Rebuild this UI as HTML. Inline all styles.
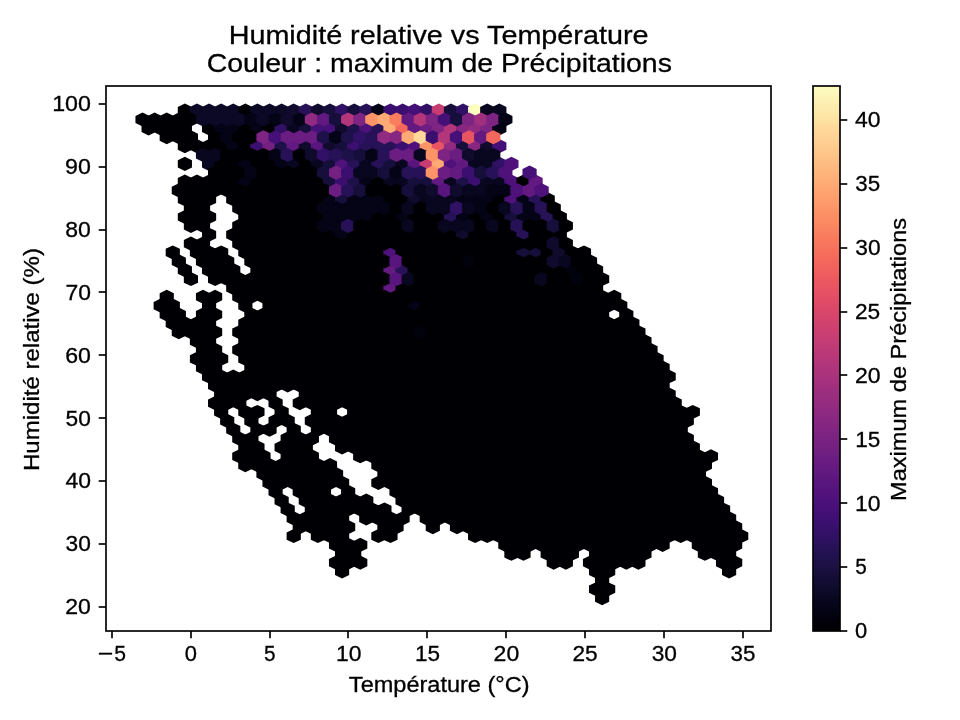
<!DOCTYPE html>
<html lang="fr"><head><meta charset="utf-8"><title>Humidité relative vs Température</title>
<style>html,body{margin:0;padding:0;background:#fff;}body{width:960px;height:720px;overflow:hidden;}svg{display:block;will-change:transform;}text{font-family:"Liberation Sans",sans-serif;fill:#000;stroke:#000;stroke-width:0.3px;}</style></head><body>
<svg width="960" height="720" viewBox="0 0 960 720">
<rect x="0" y="0" width="960" height="720" fill="#ffffff"/>
<g stroke-width="2.083" stroke-linejoin="miter">
<polygon points="154.64,131.33 154.64,125.42 148.59,122.47 142.55,125.42 142.55,131.33 148.59,134.28" fill="#000004" stroke="#000004"/>
<polygon points="166.73,308.58 166.73,302.67 160.69,299.72 154.64,302.67 154.64,308.58 160.69,311.53" fill="#000004" stroke="#000004"/>
<polygon points="166.73,131.33 166.73,125.42 160.69,122.47 154.64,125.42 154.64,131.33 160.69,134.28" fill="#000004" stroke="#000004"/>
<polygon points="178.83,326.30 178.83,320.40 172.78,317.44 166.73,320.40 166.73,326.30 172.78,329.26" fill="#000004" stroke="#000004"/>
<polygon points="178.83,308.58 178.83,302.67 172.78,299.72 166.73,302.67 166.73,308.58 172.78,311.53" fill="#000004" stroke="#000004"/>
<polygon points="178.83,255.40 178.83,249.50 172.78,246.54 166.73,249.50 166.73,255.40 172.78,258.36" fill="#000004" stroke="#000004"/>
<polygon points="178.83,131.33 178.83,125.42 172.78,122.47 166.73,125.42 166.73,131.33 172.78,134.28" fill="#000004" stroke="#000004"/>
<polygon points="190.92,326.30 190.92,320.40 184.88,317.44 178.83,320.40 178.83,326.30 184.88,329.26" fill="#000004" stroke="#000004"/>
<polygon points="190.92,273.13 190.92,267.22 184.88,264.27 178.83,267.22 178.83,273.13 184.88,276.08" fill="#000004" stroke="#000004"/>
<polygon points="190.92,219.95 190.92,214.05 184.88,211.09 178.83,214.05 178.83,219.95 184.88,222.91" fill="#000004" stroke="#000004"/>
<polygon points="190.92,202.23 190.92,196.32 184.88,193.37 178.83,196.32 178.83,202.23 184.88,205.18" fill="#000004" stroke="#000004"/>
<polygon points="190.92,184.50 190.92,178.60 184.88,175.64 178.83,178.60 178.83,184.50 184.88,187.46" fill="#000004" stroke="#000004"/>
<polygon points="190.92,166.78 190.92,160.87 184.88,157.92 178.83,160.87 178.83,166.78 184.88,169.73" fill="#000004" stroke="#000004"/>
<polygon points="190.92,149.05 190.92,143.15 184.88,140.19 178.83,143.15 178.83,149.05 184.88,152.01" fill="#000004" stroke="#000004"/>
<polygon points="190.92,131.33 190.92,125.42 184.88,122.47 178.83,125.42 178.83,131.33 184.88,134.28" fill="#000004" stroke="#000004"/>
<polygon points="190.92,113.60 190.92,107.70 184.88,104.74 178.83,107.70 178.83,113.60 184.88,116.56" fill="#000004" stroke="#000004"/>
<polygon points="203.02,361.75 203.02,355.85 196.97,352.89 190.92,355.85 190.92,361.75 196.97,364.71" fill="#000004" stroke="#000004"/>
<polygon points="203.02,344.03 203.02,338.12 196.97,335.17 190.92,338.12 190.92,344.03 196.97,346.98" fill="#000004" stroke="#000004"/>
<polygon points="203.02,326.30 203.02,320.40 196.97,317.44 190.92,320.40 190.92,326.30 196.97,329.26" fill="#000004" stroke="#000004"/>
<polygon points="203.02,255.40 203.02,249.50 196.97,246.54 190.92,249.50 190.92,255.40 196.97,258.36" fill="#000004" stroke="#000004"/>
<polygon points="203.02,219.95 203.02,214.05 196.97,211.09 190.92,214.05 190.92,219.95 196.97,222.91" fill="#000004" stroke="#000004"/>
<polygon points="203.02,202.23 203.02,196.32 196.97,193.37 190.92,196.32 190.92,202.23 196.97,205.18" fill="#000004" stroke="#000004"/>
<polygon points="203.02,184.50 203.02,178.60 196.97,175.64 190.92,178.60 190.92,184.50 196.97,187.46" fill="#000004" stroke="#000004"/>
<polygon points="203.02,149.05 203.02,143.15 196.97,140.19 190.92,143.15 190.92,149.05 196.97,152.01" fill="#000004" stroke="#000004"/>
<polygon points="203.02,113.60 203.02,107.70 196.97,104.74 190.92,107.70 190.92,113.60 196.97,116.56" fill="#0c0926" stroke="#0c0926"/>
<polygon points="215.11,379.48 215.11,373.57 209.06,370.62 203.02,373.57 203.02,379.48 209.06,382.43" fill="#000004" stroke="#000004"/>
<polygon points="215.11,361.75 215.11,355.85 209.06,352.89 203.02,355.85 203.02,361.75 209.06,364.71" fill="#000004" stroke="#000004"/>
<polygon points="215.11,344.03 215.11,338.12 209.06,335.17 203.02,338.12 203.02,344.03 209.06,346.98" fill="#000004" stroke="#000004"/>
<polygon points="215.11,326.30 215.11,320.40 209.06,317.44 203.02,320.40 203.02,326.30 209.06,329.26" fill="#000004" stroke="#000004"/>
<polygon points="215.11,308.58 215.11,302.67 209.06,299.72 203.02,302.67 203.02,308.58 209.06,311.53" fill="#000004" stroke="#000004"/>
<polygon points="215.11,273.13 215.11,267.22 209.06,264.27 203.02,267.22 203.02,273.13 209.06,276.08" fill="#000004" stroke="#000004"/>
<polygon points="215.11,255.40 215.11,249.50 209.06,246.54 203.02,249.50 203.02,255.40 209.06,258.36" fill="#000004" stroke="#000004"/>
<polygon points="215.11,237.68 215.11,231.77 209.06,228.82 203.02,231.77 203.02,237.68 209.06,240.63" fill="#000004" stroke="#000004"/>
<polygon points="215.11,219.95 215.11,214.05 209.06,211.09 203.02,214.05 203.02,219.95 209.06,222.91" fill="#000004" stroke="#000004"/>
<polygon points="215.11,202.23 215.11,196.32 209.06,193.37 203.02,196.32 203.02,202.23 209.06,205.18" fill="#000004" stroke="#000004"/>
<polygon points="215.11,184.50 215.11,178.60 209.06,175.64 203.02,178.60 203.02,184.50 209.06,187.46" fill="#000004" stroke="#000004"/>
<polygon points="215.11,166.78 215.11,160.87 209.06,157.92 203.02,160.87 203.02,166.78 209.06,169.73" fill="#090720" stroke="#090720"/>
<polygon points="215.11,149.05 215.11,143.15 209.06,140.19 203.02,143.15 203.02,149.05 209.06,152.01" fill="#000004" stroke="#000004"/>
<polygon points="215.11,131.33 215.11,125.42 209.06,122.47 203.02,125.42 203.02,131.33 209.06,134.28" fill="#000004" stroke="#000004"/>
<polygon points="215.11,113.60 215.11,107.70 209.06,104.74 203.02,107.70 203.02,113.60 209.06,116.56" fill="#0c0926" stroke="#0c0926"/>
<polygon points="227.21,414.93 227.21,409.02 221.16,406.07 215.11,409.02 215.11,414.93 221.16,417.88" fill="#000004" stroke="#000004"/>
<polygon points="227.21,397.20 227.21,391.30 221.16,388.34 215.11,391.30 215.11,397.20 221.16,400.16" fill="#000004" stroke="#000004"/>
<polygon points="227.21,379.48 227.21,373.57 221.16,370.62 215.11,373.57 215.11,379.48 221.16,382.43" fill="#000004" stroke="#000004"/>
<polygon points="227.21,361.75 227.21,355.85 221.16,352.89 215.11,355.85 215.11,361.75 221.16,364.71" fill="#000004" stroke="#000004"/>
<polygon points="227.21,273.13 227.21,267.22 221.16,264.27 215.11,267.22 215.11,273.13 221.16,276.08" fill="#000004" stroke="#000004"/>
<polygon points="227.21,255.40 227.21,249.50 221.16,246.54 215.11,249.50 215.11,255.40 221.16,258.36" fill="#000004" stroke="#000004"/>
<polygon points="227.21,184.50 227.21,178.60 221.16,175.64 215.11,178.60 215.11,184.50 221.16,187.46" fill="#000004" stroke="#000004"/>
<polygon points="227.21,166.78 227.21,160.87 221.16,157.92 215.11,160.87 215.11,166.78 221.16,169.73" fill="#000004" stroke="#000004"/>
<polygon points="227.21,149.05 227.21,143.15 221.16,140.19 215.11,143.15 215.11,149.05 221.16,152.01" fill="#000004" stroke="#000004"/>
<polygon points="227.21,131.33 227.21,125.42 221.16,122.47 215.11,125.42 215.11,131.33 221.16,134.28" fill="#050416" stroke="#050416"/>
<polygon points="227.21,113.60 227.21,107.70 221.16,104.74 215.11,107.70 215.11,113.60 221.16,116.56" fill="#0c0926" stroke="#0c0926"/>
<polygon points="239.30,432.65 239.30,426.75 233.25,423.79 227.21,426.75 227.21,432.65 233.25,435.61" fill="#000004" stroke="#000004"/>
<polygon points="239.30,397.20 239.30,391.30 233.25,388.34 227.21,391.30 227.21,397.20 233.25,400.16" fill="#000004" stroke="#000004"/>
<polygon points="239.30,379.48 239.30,373.57 233.25,370.62 227.21,373.57 227.21,379.48 233.25,382.43" fill="#000004" stroke="#000004"/>
<polygon points="239.30,290.85 239.30,284.95 233.25,281.99 227.21,284.95 227.21,290.85 233.25,293.81" fill="#000004" stroke="#000004"/>
<polygon points="239.30,273.13 239.30,267.22 233.25,264.27 227.21,267.22 227.21,273.13 233.25,276.08" fill="#000004" stroke="#000004"/>
<polygon points="239.30,237.68 239.30,231.77 233.25,228.82 227.21,231.77 227.21,237.68 233.25,240.63" fill="#000004" stroke="#000004"/>
<polygon points="239.30,202.23 239.30,196.32 233.25,193.37 227.21,196.32 227.21,202.23 233.25,205.18" fill="#000004" stroke="#000004"/>
<polygon points="239.30,184.50 239.30,178.60 233.25,175.64 227.21,178.60 227.21,184.50 233.25,187.46" fill="#000004" stroke="#000004"/>
<polygon points="239.30,166.78 239.30,160.87 233.25,157.92 227.21,160.87 227.21,166.78 233.25,169.73" fill="#000004" stroke="#000004"/>
<polygon points="239.30,149.05 239.30,143.15 233.25,140.19 227.21,143.15 227.21,149.05 233.25,152.01" fill="#050416" stroke="#050416"/>
<polygon points="239.30,131.33 239.30,125.42 233.25,122.47 227.21,125.42 227.21,131.33 233.25,134.28" fill="#050416" stroke="#050416"/>
<polygon points="239.30,113.60 239.30,107.70 233.25,104.74 227.21,107.70 227.21,113.60 233.25,116.56" fill="#0c0926" stroke="#0c0926"/>
<polygon points="251.39,468.10 251.39,462.20 245.35,459.24 239.30,462.20 239.30,468.10 245.35,471.06" fill="#000004" stroke="#000004"/>
<polygon points="251.39,450.38 251.39,444.47 245.35,441.52 239.30,444.47 239.30,450.38 245.35,453.33" fill="#000004" stroke="#000004"/>
<polygon points="251.39,414.93 251.39,409.02 245.35,406.07 239.30,409.02 239.30,414.93 245.35,417.88" fill="#000004" stroke="#000004"/>
<polygon points="251.39,397.20 251.39,391.30 245.35,388.34 239.30,391.30 239.30,397.20 245.35,400.16" fill="#000004" stroke="#000004"/>
<polygon points="251.39,379.48 251.39,373.57 245.35,370.62 239.30,373.57 239.30,379.48 245.35,382.43" fill="#000004" stroke="#000004"/>
<polygon points="251.39,361.75 251.39,355.85 245.35,352.89 239.30,355.85 239.30,361.75 245.35,364.71" fill="#000004" stroke="#000004"/>
<polygon points="251.39,344.03 251.39,338.12 245.35,335.17 239.30,338.12 239.30,344.03 245.35,346.98" fill="#000004" stroke="#000004"/>
<polygon points="251.39,326.30 251.39,320.40 245.35,317.44 239.30,320.40 239.30,326.30 245.35,329.26" fill="#000004" stroke="#000004"/>
<polygon points="251.39,308.58 251.39,302.67 245.35,299.72 239.30,302.67 239.30,308.58 245.35,311.53" fill="#000004" stroke="#000004"/>
<polygon points="251.39,290.85 251.39,284.95 245.35,281.99 239.30,284.95 239.30,290.85 245.35,293.81" fill="#000004" stroke="#000004"/>
<polygon points="251.39,255.40 251.39,249.50 245.35,246.54 239.30,249.50 239.30,255.40 245.35,258.36" fill="#000004" stroke="#000004"/>
<polygon points="251.39,237.68 251.39,231.77 245.35,228.82 239.30,231.77 239.30,237.68 245.35,240.63" fill="#000004" stroke="#000004"/>
<polygon points="251.39,219.95 251.39,214.05 245.35,211.09 239.30,214.05 239.30,219.95 245.35,222.91" fill="#000004" stroke="#000004"/>
<polygon points="251.39,202.23 251.39,196.32 245.35,193.37 239.30,196.32 239.30,202.23 245.35,205.18" fill="#000004" stroke="#000004"/>
<polygon points="251.39,184.50 251.39,178.60 245.35,175.64 239.30,178.60 239.30,184.50 245.35,187.46" fill="#050416" stroke="#050416"/>
<polygon points="251.39,166.78 251.39,160.87 245.35,157.92 239.30,160.87 239.30,166.78 245.35,169.73" fill="#050416" stroke="#050416"/>
<polygon points="251.39,149.05 251.39,143.15 245.35,140.19 239.30,143.15 239.30,149.05 245.35,152.01" fill="#000004" stroke="#000004"/>
<polygon points="251.39,131.33 251.39,125.42 245.35,122.47 239.30,125.42 239.30,131.33 245.35,134.28" fill="#000004" stroke="#000004"/>
<polygon points="251.39,113.60 251.39,107.70 245.35,104.74 239.30,107.70 239.30,113.60 245.35,116.56" fill="#000004" stroke="#000004"/>
<polygon points="263.49,468.10 263.49,462.20 257.44,459.24 251.39,462.20 251.39,468.10 257.44,471.06" fill="#000004" stroke="#000004"/>
<polygon points="263.49,450.38 263.49,444.47 257.44,441.52 251.39,444.47 251.39,450.38 257.44,453.33" fill="#000004" stroke="#000004"/>
<polygon points="263.49,432.65 263.49,426.75 257.44,423.79 251.39,426.75 251.39,432.65 257.44,435.61" fill="#000004" stroke="#000004"/>
<polygon points="263.49,414.93 263.49,409.02 257.44,406.07 251.39,409.02 251.39,414.93 257.44,417.88" fill="#000004" stroke="#000004"/>
<polygon points="263.49,397.20 263.49,391.30 257.44,388.34 251.39,391.30 251.39,397.20 257.44,400.16" fill="#000004" stroke="#000004"/>
<polygon points="263.49,379.48 263.49,373.57 257.44,370.62 251.39,373.57 251.39,379.48 257.44,382.43" fill="#000004" stroke="#000004"/>
<polygon points="263.49,361.75 263.49,355.85 257.44,352.89 251.39,355.85 251.39,361.75 257.44,364.71" fill="#000004" stroke="#000004"/>
<polygon points="263.49,344.03 263.49,338.12 257.44,335.17 251.39,338.12 251.39,344.03 257.44,346.98" fill="#000004" stroke="#000004"/>
<polygon points="263.49,326.30 263.49,320.40 257.44,317.44 251.39,320.40 251.39,326.30 257.44,329.26" fill="#000004" stroke="#000004"/>
<polygon points="263.49,290.85 263.49,284.95 257.44,281.99 251.39,284.95 251.39,290.85 257.44,293.81" fill="#000004" stroke="#000004"/>
<polygon points="263.49,273.13 263.49,267.22 257.44,264.27 251.39,267.22 251.39,273.13 257.44,276.08" fill="#000004" stroke="#000004"/>
<polygon points="263.49,255.40 263.49,249.50 257.44,246.54 251.39,249.50 251.39,255.40 257.44,258.36" fill="#000004" stroke="#000004"/>
<polygon points="263.49,237.68 263.49,231.77 257.44,228.82 251.39,231.77 251.39,237.68 257.44,240.63" fill="#000004" stroke="#000004"/>
<polygon points="263.49,219.95 263.49,214.05 257.44,211.09 251.39,214.05 251.39,219.95 257.44,222.91" fill="#000004" stroke="#000004"/>
<polygon points="263.49,202.23 263.49,196.32 257.44,193.37 251.39,196.32 251.39,202.23 257.44,205.18" fill="#000004" stroke="#000004"/>
<polygon points="263.49,184.50 263.49,178.60 257.44,175.64 251.39,178.60 251.39,184.50 257.44,187.46" fill="#000004" stroke="#000004"/>
<polygon points="263.49,166.78 263.49,160.87 257.44,157.92 251.39,160.87 251.39,166.78 257.44,169.73" fill="#000004" stroke="#000004"/>
<polygon points="263.49,149.05 263.49,143.15 257.44,140.19 251.39,143.15 251.39,149.05 257.44,152.01" fill="#3b0f70" stroke="#3b0f70"/>
<polygon points="263.49,131.33 263.49,125.42 257.44,122.47 251.39,125.42 251.39,131.33 257.44,134.28" fill="#050416" stroke="#050416"/>
<polygon points="263.49,113.60 263.49,107.70 257.44,104.74 251.39,107.70 251.39,113.60 257.44,116.56" fill="#0c0926" stroke="#0c0926"/>
<polygon points="275.58,485.83 275.58,479.92 269.53,476.97 263.49,479.92 263.49,485.83 269.53,488.78" fill="#000004" stroke="#000004"/>
<polygon points="275.58,468.10 275.58,462.20 269.53,459.24 263.49,462.20 263.49,468.10 269.53,471.06" fill="#000004" stroke="#000004"/>
<polygon points="275.58,432.65 275.58,426.75 269.53,423.79 263.49,426.75 263.49,432.65 269.53,435.61" fill="#000004" stroke="#000004"/>
<polygon points="275.58,397.20 275.58,391.30 269.53,388.34 263.49,391.30 263.49,397.20 269.53,400.16" fill="#000004" stroke="#000004"/>
<polygon points="275.58,379.48 275.58,373.57 269.53,370.62 263.49,373.57 263.49,379.48 269.53,382.43" fill="#000004" stroke="#000004"/>
<polygon points="275.58,361.75 275.58,355.85 269.53,352.89 263.49,355.85 263.49,361.75 269.53,364.71" fill="#000004" stroke="#000004"/>
<polygon points="275.58,344.03 275.58,338.12 269.53,335.17 263.49,338.12 263.49,344.03 269.53,346.98" fill="#000004" stroke="#000004"/>
<polygon points="275.58,326.30 275.58,320.40 269.53,317.44 263.49,320.40 263.49,326.30 269.53,329.26" fill="#000004" stroke="#000004"/>
<polygon points="275.58,308.58 275.58,302.67 269.53,299.72 263.49,302.67 263.49,308.58 269.53,311.53" fill="#000004" stroke="#000004"/>
<polygon points="275.58,290.85 275.58,284.95 269.53,281.99 263.49,284.95 263.49,290.85 269.53,293.81" fill="#000004" stroke="#000004"/>
<polygon points="275.58,273.13 275.58,267.22 269.53,264.27 263.49,267.22 263.49,273.13 269.53,276.08" fill="#000004" stroke="#000004"/>
<polygon points="275.58,255.40 275.58,249.50 269.53,246.54 263.49,249.50 263.49,255.40 269.53,258.36" fill="#000004" stroke="#000004"/>
<polygon points="275.58,237.68 275.58,231.77 269.53,228.82 263.49,231.77 263.49,237.68 269.53,240.63" fill="#000004" stroke="#000004"/>
<polygon points="275.58,219.95 275.58,214.05 269.53,211.09 263.49,214.05 263.49,219.95 269.53,222.91" fill="#000004" stroke="#000004"/>
<polygon points="275.58,202.23 275.58,196.32 269.53,193.37 263.49,196.32 263.49,202.23 269.53,205.18" fill="#000004" stroke="#000004"/>
<polygon points="275.58,184.50 275.58,178.60 269.53,175.64 263.49,178.60 263.49,184.50 269.53,187.46" fill="#000004" stroke="#000004"/>
<polygon points="275.58,166.78 275.58,160.87 269.53,157.92 263.49,160.87 263.49,166.78 269.53,169.73" fill="#000004" stroke="#000004"/>
<polygon points="275.58,149.05 275.58,143.15 269.53,140.19 263.49,143.15 263.49,149.05 269.53,152.01" fill="#752181" stroke="#752181"/>
<polygon points="275.58,131.33 275.58,125.42 269.53,122.47 263.49,125.42 263.49,131.33 269.53,134.28" fill="#000004" stroke="#000004"/>
<polygon points="275.58,113.60 275.58,107.70 269.53,104.74 263.49,107.70 263.49,113.60 269.53,116.56" fill="#0c0926" stroke="#0c0926"/>
<polygon points="287.68,503.55 287.68,497.65 281.63,494.69 275.58,497.65 275.58,503.55 281.63,506.51" fill="#000004" stroke="#000004"/>
<polygon points="287.68,485.83 287.68,479.92 281.63,476.97 275.58,479.92 275.58,485.83 281.63,488.78" fill="#000004" stroke="#000004"/>
<polygon points="287.68,468.10 287.68,462.20 281.63,459.24 275.58,462.20 275.58,468.10 281.63,471.06" fill="#000004" stroke="#000004"/>
<polygon points="287.68,450.38 287.68,444.47 281.63,441.52 275.58,444.47 275.58,450.38 281.63,453.33" fill="#000004" stroke="#000004"/>
<polygon points="287.68,414.93 287.68,409.02 281.63,406.07 275.58,409.02 275.58,414.93 281.63,417.88" fill="#000004" stroke="#000004"/>
<polygon points="287.68,379.48 287.68,373.57 281.63,370.62 275.58,373.57 275.58,379.48 281.63,382.43" fill="#000004" stroke="#000004"/>
<polygon points="287.68,361.75 287.68,355.85 281.63,352.89 275.58,355.85 275.58,361.75 281.63,364.71" fill="#000004" stroke="#000004"/>
<polygon points="287.68,344.03 287.68,338.12 281.63,335.17 275.58,338.12 275.58,344.03 281.63,346.98" fill="#000004" stroke="#000004"/>
<polygon points="287.68,326.30 287.68,320.40 281.63,317.44 275.58,320.40 275.58,326.30 281.63,329.26" fill="#000004" stroke="#000004"/>
<polygon points="287.68,308.58 287.68,302.67 281.63,299.72 275.58,302.67 275.58,308.58 281.63,311.53" fill="#000004" stroke="#000004"/>
<polygon points="287.68,290.85 287.68,284.95 281.63,281.99 275.58,284.95 275.58,290.85 281.63,293.81" fill="#000004" stroke="#000004"/>
<polygon points="287.68,273.13 287.68,267.22 281.63,264.27 275.58,267.22 275.58,273.13 281.63,276.08" fill="#000004" stroke="#000004"/>
<polygon points="287.68,255.40 287.68,249.50 281.63,246.54 275.58,249.50 275.58,255.40 281.63,258.36" fill="#000004" stroke="#000004"/>
<polygon points="287.68,237.68 287.68,231.77 281.63,228.82 275.58,231.77 275.58,237.68 281.63,240.63" fill="#000004" stroke="#000004"/>
<polygon points="287.68,219.95 287.68,214.05 281.63,211.09 275.58,214.05 275.58,219.95 281.63,222.91" fill="#000004" stroke="#000004"/>
<polygon points="287.68,202.23 287.68,196.32 281.63,193.37 275.58,196.32 275.58,202.23 281.63,205.18" fill="#000004" stroke="#000004"/>
<polygon points="287.68,184.50 287.68,178.60 281.63,175.64 275.58,178.60 275.58,184.50 281.63,187.46" fill="#000004" stroke="#000004"/>
<polygon points="287.68,166.78 287.68,160.87 281.63,157.92 275.58,160.87 275.58,166.78 281.63,169.73" fill="#050416" stroke="#050416"/>
<polygon points="287.68,149.05 287.68,143.15 281.63,140.19 275.58,143.15 275.58,149.05 281.63,152.01" fill="#1e1149" stroke="#1e1149"/>
<polygon points="287.68,131.33 287.68,125.42 281.63,122.47 275.58,125.42 275.58,131.33 281.63,134.28" fill="#311165" stroke="#311165"/>
<polygon points="287.68,113.60 287.68,107.70 281.63,104.74 275.58,107.70 275.58,113.60 281.63,116.56" fill="#0c0926" stroke="#0c0926"/>
<polygon points="299.77,539.00 299.77,533.10 293.72,530.14 287.67,533.10 287.67,539.00 293.72,541.96" fill="#000004" stroke="#000004"/>
<polygon points="299.77,521.28 299.77,515.37 293.72,512.42 287.67,515.37 287.67,521.28 293.72,524.23" fill="#000004" stroke="#000004"/>
<polygon points="299.77,485.83 299.77,479.92 293.72,476.97 287.67,479.92 287.67,485.83 293.72,488.78" fill="#000004" stroke="#000004"/>
<polygon points="299.77,468.10 299.77,462.20 293.72,459.24 287.67,462.20 287.67,468.10 293.72,471.06" fill="#000004" stroke="#000004"/>
<polygon points="299.77,450.38 299.77,444.47 293.72,441.52 287.67,444.47 287.67,450.38 293.72,453.33" fill="#000004" stroke="#000004"/>
<polygon points="299.77,432.65 299.77,426.75 293.72,423.79 287.67,426.75 287.67,432.65 293.72,435.61" fill="#000004" stroke="#000004"/>
<polygon points="299.77,379.48 299.77,373.57 293.72,370.62 287.67,373.57 287.67,379.48 293.72,382.43" fill="#000004" stroke="#000004"/>
<polygon points="299.77,361.75 299.77,355.85 293.72,352.89 287.67,355.85 287.67,361.75 293.72,364.71" fill="#000004" stroke="#000004"/>
<polygon points="299.77,344.03 299.77,338.12 293.72,335.17 287.67,338.12 287.67,344.03 293.72,346.98" fill="#000004" stroke="#000004"/>
<polygon points="299.77,326.30 299.77,320.40 293.72,317.44 287.67,320.40 287.67,326.30 293.72,329.26" fill="#000004" stroke="#000004"/>
<polygon points="299.77,308.58 299.77,302.67 293.72,299.72 287.67,302.67 287.67,308.58 293.72,311.53" fill="#000004" stroke="#000004"/>
<polygon points="299.77,290.85 299.77,284.95 293.72,281.99 287.67,284.95 287.67,290.85 293.72,293.81" fill="#000004" stroke="#000004"/>
<polygon points="299.77,273.13 299.77,267.22 293.72,264.27 287.67,267.22 287.67,273.13 293.72,276.08" fill="#000004" stroke="#000004"/>
<polygon points="299.77,255.40 299.77,249.50 293.72,246.54 287.67,249.50 287.67,255.40 293.72,258.36" fill="#000004" stroke="#000004"/>
<polygon points="299.77,237.68 299.77,231.77 293.72,228.82 287.67,231.77 287.67,237.68 293.72,240.63" fill="#000004" stroke="#000004"/>
<polygon points="299.77,219.95 299.77,214.05 293.72,211.09 287.67,214.05 287.67,219.95 293.72,222.91" fill="#000004" stroke="#000004"/>
<polygon points="299.77,202.23 299.77,196.32 293.72,193.37 287.67,196.32 287.67,202.23 293.72,205.18" fill="#000004" stroke="#000004"/>
<polygon points="299.77,184.50 299.77,178.60 293.72,175.64 287.67,178.60 287.67,184.50 293.72,187.46" fill="#000004" stroke="#000004"/>
<polygon points="299.77,166.78 299.77,160.87 293.72,157.92 287.67,160.87 287.67,166.78 293.72,169.73" fill="#090720" stroke="#090720"/>
<polygon points="299.77,149.05 299.77,143.15 293.72,140.19 287.67,143.15 287.67,149.05 293.72,152.01" fill="#621980" stroke="#621980"/>
<polygon points="299.77,131.33 299.77,125.42 293.72,122.47 287.67,125.42 287.67,131.33 293.72,134.28" fill="#090720" stroke="#090720"/>
<polygon points="299.77,113.60 299.77,107.70 293.72,104.74 287.67,107.70 287.67,113.60 293.72,116.56" fill="#100b2d" stroke="#100b2d"/>
<polygon points="311.86,521.28 311.86,515.37 305.82,512.42 299.77,515.37 299.77,521.28 305.82,524.23" fill="#000004" stroke="#000004"/>
<polygon points="311.86,503.55 311.86,497.65 305.82,494.69 299.77,497.65 299.77,503.55 305.82,506.51" fill="#000004" stroke="#000004"/>
<polygon points="311.86,485.83 311.86,479.92 305.82,476.97 299.77,479.92 299.77,485.83 305.82,488.78" fill="#000004" stroke="#000004"/>
<polygon points="311.86,468.10 311.86,462.20 305.82,459.24 299.77,462.20 299.77,468.10 305.82,471.06" fill="#000004" stroke="#000004"/>
<polygon points="311.86,450.38 311.86,444.47 305.82,441.52 299.77,444.47 299.77,450.38 305.82,453.33" fill="#000004" stroke="#000004"/>
<polygon points="311.86,397.20 311.86,391.30 305.82,388.34 299.77,391.30 299.77,397.20 305.82,400.16" fill="#000004" stroke="#000004"/>
<polygon points="311.86,379.48 311.86,373.57 305.82,370.62 299.77,373.57 299.77,379.48 305.82,382.43" fill="#000004" stroke="#000004"/>
<polygon points="311.86,361.75 311.86,355.85 305.82,352.89 299.77,355.85 299.77,361.75 305.82,364.71" fill="#000004" stroke="#000004"/>
<polygon points="311.86,344.03 311.86,338.12 305.82,335.17 299.77,338.12 299.77,344.03 305.82,346.98" fill="#000004" stroke="#000004"/>
<polygon points="311.86,326.30 311.86,320.40 305.82,317.44 299.77,320.40 299.77,326.30 305.82,329.26" fill="#000004" stroke="#000004"/>
<polygon points="311.86,308.58 311.86,302.67 305.82,299.72 299.77,302.67 299.77,308.58 305.82,311.53" fill="#000004" stroke="#000004"/>
<polygon points="311.86,290.85 311.86,284.95 305.82,281.99 299.77,284.95 299.77,290.85 305.82,293.81" fill="#000004" stroke="#000004"/>
<polygon points="311.86,273.13 311.86,267.22 305.82,264.27 299.77,267.22 299.77,273.13 305.82,276.08" fill="#000004" stroke="#000004"/>
<polygon points="311.86,255.40 311.86,249.50 305.82,246.54 299.77,249.50 299.77,255.40 305.82,258.36" fill="#000004" stroke="#000004"/>
<polygon points="311.86,237.68 311.86,231.77 305.82,228.82 299.77,231.77 299.77,237.68 305.82,240.63" fill="#000004" stroke="#000004"/>
<polygon points="311.86,219.95 311.86,214.05 305.82,211.09 299.77,214.05 299.77,219.95 305.82,222.91" fill="#000004" stroke="#000004"/>
<polygon points="311.86,202.23 311.86,196.32 305.82,193.37 299.77,196.32 299.77,202.23 305.82,205.18" fill="#000004" stroke="#000004"/>
<polygon points="311.86,184.50 311.86,178.60 305.82,175.64 299.77,178.60 299.77,184.50 305.82,187.46" fill="#000004" stroke="#000004"/>
<polygon points="311.86,166.78 311.86,160.87 305.82,157.92 299.77,160.87 299.77,166.78 305.82,169.73" fill="#000004" stroke="#000004"/>
<polygon points="311.86,149.05 311.86,143.15 305.82,140.19 299.77,143.15 299.77,149.05 305.82,152.01" fill="#100b2d" stroke="#100b2d"/>
<polygon points="311.86,131.33 311.86,125.42 305.82,122.47 299.77,125.42 299.77,131.33 305.82,134.28" fill="#160f3b" stroke="#160f3b"/>
<polygon points="311.86,113.60 311.86,107.70 305.82,104.74 299.77,107.70 299.77,113.60 305.82,116.56" fill="#271258" stroke="#271258"/>
<polygon points="323.96,539.00 323.96,533.10 317.91,530.14 311.86,533.10 311.86,539.00 317.91,541.96" fill="#000004" stroke="#000004"/>
<polygon points="323.96,521.28 323.96,515.37 317.91,512.42 311.86,515.37 311.86,521.28 317.91,524.23" fill="#000004" stroke="#000004"/>
<polygon points="323.96,503.55 323.96,497.65 317.91,494.69 311.86,497.65 311.86,503.55 317.91,506.51" fill="#000004" stroke="#000004"/>
<polygon points="323.96,485.83 323.96,479.92 317.91,476.97 311.86,479.92 311.86,485.83 317.91,488.78" fill="#000004" stroke="#000004"/>
<polygon points="323.96,468.10 323.96,462.20 317.91,459.24 311.86,462.20 311.86,468.10 317.91,471.06" fill="#000004" stroke="#000004"/>
<polygon points="323.96,432.65 323.96,426.75 317.91,423.79 311.86,426.75 311.86,432.65 317.91,435.61" fill="#000004" stroke="#000004"/>
<polygon points="323.96,414.93 323.96,409.02 317.91,406.07 311.86,409.02 311.86,414.93 317.91,417.88" fill="#000004" stroke="#000004"/>
<polygon points="323.96,397.20 323.96,391.30 317.91,388.34 311.86,391.30 311.86,397.20 317.91,400.16" fill="#000004" stroke="#000004"/>
<polygon points="323.96,379.48 323.96,373.57 317.91,370.62 311.86,373.57 311.86,379.48 317.91,382.43" fill="#000004" stroke="#000004"/>
<polygon points="323.96,361.75 323.96,355.85 317.91,352.89 311.86,355.85 311.86,361.75 317.91,364.71" fill="#000004" stroke="#000004"/>
<polygon points="323.96,344.03 323.96,338.12 317.91,335.17 311.86,338.12 311.86,344.03 317.91,346.98" fill="#000004" stroke="#000004"/>
<polygon points="323.96,326.30 323.96,320.40 317.91,317.44 311.86,320.40 311.86,326.30 317.91,329.26" fill="#000004" stroke="#000004"/>
<polygon points="323.96,308.58 323.96,302.67 317.91,299.72 311.86,302.67 311.86,308.58 317.91,311.53" fill="#000004" stroke="#000004"/>
<polygon points="323.96,290.85 323.96,284.95 317.91,281.99 311.86,284.95 311.86,290.85 317.91,293.81" fill="#000004" stroke="#000004"/>
<polygon points="323.96,273.13 323.96,267.22 317.91,264.27 311.86,267.22 311.86,273.13 317.91,276.08" fill="#000004" stroke="#000004"/>
<polygon points="323.96,255.40 323.96,249.50 317.91,246.54 311.86,249.50 311.86,255.40 317.91,258.36" fill="#000004" stroke="#000004"/>
<polygon points="323.96,237.68 323.96,231.77 317.91,228.82 311.86,231.77 311.86,237.68 317.91,240.63" fill="#000004" stroke="#000004"/>
<polygon points="323.96,219.95 323.96,214.05 317.91,211.09 311.86,214.05 311.86,219.95 317.91,222.91" fill="#000004" stroke="#000004"/>
<polygon points="323.96,202.23 323.96,196.32 317.91,193.37 311.86,196.32 311.86,202.23 317.91,205.18" fill="#000004" stroke="#000004"/>
<polygon points="323.96,184.50 323.96,178.60 317.91,175.64 311.86,178.60 311.86,184.50 317.91,187.46" fill="#000004" stroke="#000004"/>
<polygon points="323.96,166.78 323.96,160.87 317.91,157.92 311.86,160.87 311.86,166.78 317.91,169.73" fill="#090720" stroke="#090720"/>
<polygon points="323.96,149.05 323.96,143.15 317.91,140.19 311.86,143.15 311.86,149.05 317.91,152.01" fill="#59157e" stroke="#59157e"/>
<polygon points="323.96,131.33 323.96,125.42 317.91,122.47 311.86,125.42 311.86,131.33 317.91,134.28" fill="#451077" stroke="#451077"/>
<polygon points="323.96,113.60 323.96,107.70 317.91,104.74 311.86,107.70 311.86,113.60 317.91,116.56" fill="#100b2d" stroke="#100b2d"/>
<polygon points="336.05,539.00 336.05,533.10 330.00,530.14 323.96,533.10 323.96,539.00 330.00,541.96" fill="#000004" stroke="#000004"/>
<polygon points="336.05,521.28 336.05,515.37 330.00,512.42 323.96,515.37 323.96,521.28 330.00,524.23" fill="#000004" stroke="#000004"/>
<polygon points="336.05,503.55 336.05,497.65 330.00,494.69 323.96,497.65 323.96,503.55 330.00,506.51" fill="#000004" stroke="#000004"/>
<polygon points="336.05,485.83 336.05,479.92 330.00,476.97 323.96,479.92 323.96,485.83 330.00,488.78" fill="#000004" stroke="#000004"/>
<polygon points="336.05,468.10 336.05,462.20 330.00,459.24 323.96,462.20 323.96,468.10 330.00,471.06" fill="#000004" stroke="#000004"/>
<polygon points="336.05,432.65 336.05,426.75 330.00,423.79 323.96,426.75 323.96,432.65 330.00,435.61" fill="#000004" stroke="#000004"/>
<polygon points="336.05,414.93 336.05,409.02 330.00,406.07 323.96,409.02 323.96,414.93 330.00,417.88" fill="#000004" stroke="#000004"/>
<polygon points="336.05,397.20 336.05,391.30 330.00,388.34 323.96,391.30 323.96,397.20 330.00,400.16" fill="#000004" stroke="#000004"/>
<polygon points="336.05,379.48 336.05,373.57 330.00,370.62 323.96,373.57 323.96,379.48 330.00,382.43" fill="#000004" stroke="#000004"/>
<polygon points="336.05,361.75 336.05,355.85 330.00,352.89 323.96,355.85 323.96,361.75 330.00,364.71" fill="#000004" stroke="#000004"/>
<polygon points="336.05,344.03 336.05,338.12 330.00,335.17 323.96,338.12 323.96,344.03 330.00,346.98" fill="#000004" stroke="#000004"/>
<polygon points="336.05,326.30 336.05,320.40 330.00,317.44 323.96,320.40 323.96,326.30 330.00,329.26" fill="#000004" stroke="#000004"/>
<polygon points="336.05,308.58 336.05,302.67 330.00,299.72 323.96,302.67 323.96,308.58 330.00,311.53" fill="#000004" stroke="#000004"/>
<polygon points="336.05,290.85 336.05,284.95 330.00,281.99 323.96,284.95 323.96,290.85 330.00,293.81" fill="#000004" stroke="#000004"/>
<polygon points="336.05,273.13 336.05,267.22 330.00,264.27 323.96,267.22 323.96,273.13 330.00,276.08" fill="#000004" stroke="#000004"/>
<polygon points="336.05,255.40 336.05,249.50 330.00,246.54 323.96,249.50 323.96,255.40 330.00,258.36" fill="#000004" stroke="#000004"/>
<polygon points="336.05,237.68 336.05,231.77 330.00,228.82 323.96,231.77 323.96,237.68 330.00,240.63" fill="#000004" stroke="#000004"/>
<polygon points="336.05,219.95 336.05,214.05 330.00,211.09 323.96,214.05 323.96,219.95 330.00,222.91" fill="#050416" stroke="#050416"/>
<polygon points="336.05,202.23 336.05,196.32 330.00,193.37 323.96,196.32 323.96,202.23 330.00,205.18" fill="#050416" stroke="#050416"/>
<polygon points="336.05,184.50 336.05,178.60 330.00,175.64 323.96,178.60 323.96,184.50 330.00,187.46" fill="#160f3b" stroke="#160f3b"/>
<polygon points="336.05,166.78 336.05,160.87 330.00,157.92 323.96,160.87 323.96,166.78 330.00,169.73" fill="#160f3b" stroke="#160f3b"/>
<polygon points="336.05,149.05 336.05,143.15 330.00,140.19 323.96,143.15 323.96,149.05 330.00,152.01" fill="#100b2d" stroke="#100b2d"/>
<polygon points="336.05,131.33 336.05,125.42 330.00,122.47 323.96,125.42 323.96,131.33 330.00,134.28" fill="#451077" stroke="#451077"/>
<polygon points="336.05,113.60 336.05,107.70 330.00,104.74 323.96,107.70 323.96,113.60 330.00,116.56" fill="#160f3b" stroke="#160f3b"/>
<polygon points="348.14,574.45 348.14,568.55 342.10,565.59 336.05,568.55 336.05,574.45 342.10,577.41" fill="#000004" stroke="#000004"/>
<polygon points="348.14,556.73 348.14,550.82 342.10,547.87 336.05,550.82 336.05,556.73 342.10,559.68" fill="#000004" stroke="#000004"/>
<polygon points="348.14,539.00 348.14,533.10 342.10,530.14 336.05,533.10 336.05,539.00 342.10,541.96" fill="#000004" stroke="#000004"/>
<polygon points="348.14,521.28 348.14,515.37 342.10,512.42 336.05,515.37 336.05,521.28 342.10,524.23" fill="#000004" stroke="#000004"/>
<polygon points="348.14,503.55 348.14,497.65 342.10,494.69 336.05,497.65 336.05,503.55 342.10,506.51" fill="#000004" stroke="#000004"/>
<polygon points="348.14,485.83 348.14,479.92 342.10,476.97 336.05,479.92 336.05,485.83 342.10,488.78" fill="#000004" stroke="#000004"/>
<polygon points="348.14,450.38 348.14,444.47 342.10,441.52 336.05,444.47 336.05,450.38 342.10,453.33" fill="#000004" stroke="#000004"/>
<polygon points="348.14,432.65 348.14,426.75 342.10,423.79 336.05,426.75 336.05,432.65 342.10,435.61" fill="#000004" stroke="#000004"/>
<polygon points="348.14,397.20 348.14,391.30 342.10,388.34 336.05,391.30 336.05,397.20 342.10,400.16" fill="#000004" stroke="#000004"/>
<polygon points="348.14,379.48 348.14,373.57 342.10,370.62 336.05,373.57 336.05,379.48 342.10,382.43" fill="#000004" stroke="#000004"/>
<polygon points="348.14,361.75 348.14,355.85 342.10,352.89 336.05,355.85 336.05,361.75 342.10,364.71" fill="#000004" stroke="#000004"/>
<polygon points="348.14,344.03 348.14,338.12 342.10,335.17 336.05,338.12 336.05,344.03 342.10,346.98" fill="#000004" stroke="#000004"/>
<polygon points="348.14,326.30 348.14,320.40 342.10,317.44 336.05,320.40 336.05,326.30 342.10,329.26" fill="#000004" stroke="#000004"/>
<polygon points="348.14,308.58 348.14,302.67 342.10,299.72 336.05,302.67 336.05,308.58 342.10,311.53" fill="#000004" stroke="#000004"/>
<polygon points="348.14,290.85 348.14,284.95 342.10,281.99 336.05,284.95 336.05,290.85 342.10,293.81" fill="#000004" stroke="#000004"/>
<polygon points="348.14,273.13 348.14,267.22 342.10,264.27 336.05,267.22 336.05,273.13 342.10,276.08" fill="#000004" stroke="#000004"/>
<polygon points="348.14,255.40 348.14,249.50 342.10,246.54 336.05,249.50 336.05,255.40 342.10,258.36" fill="#000004" stroke="#000004"/>
<polygon points="348.14,237.68 348.14,231.77 342.10,228.82 336.05,231.77 336.05,237.68 342.10,240.63" fill="#050416" stroke="#050416"/>
<polygon points="348.14,219.95 348.14,214.05 342.10,211.09 336.05,214.05 336.05,219.95 342.10,222.91" fill="#050416" stroke="#050416"/>
<polygon points="348.14,202.23 348.14,196.32 342.10,193.37 336.05,196.32 336.05,202.23 342.10,205.18" fill="#160f3b" stroke="#160f3b"/>
<polygon points="348.14,184.50 348.14,178.60 342.10,175.64 336.05,178.60 336.05,184.50 342.10,187.46" fill="#3b0f70" stroke="#3b0f70"/>
<polygon points="348.14,166.78 348.14,160.87 342.10,157.92 336.05,160.87 336.05,166.78 342.10,169.73" fill="#4f127b" stroke="#4f127b"/>
<polygon points="348.14,149.05 348.14,143.15 342.10,140.19 336.05,143.15 336.05,149.05 342.10,152.01" fill="#160f3b" stroke="#160f3b"/>
<polygon points="348.14,131.33 348.14,125.42 342.10,122.47 336.05,125.42 336.05,131.33 342.10,134.28" fill="#100b2d" stroke="#100b2d"/>
<polygon points="348.14,113.60 348.14,107.70 342.10,104.74 336.05,107.70 336.05,113.60 342.10,116.56" fill="#311165" stroke="#311165"/>
<polygon points="360.24,556.73 360.24,550.82 354.19,547.87 348.14,550.82 348.14,556.73 354.19,559.68" fill="#000004" stroke="#000004"/>
<polygon points="360.24,503.55 360.24,497.65 354.19,494.69 348.14,497.65 348.14,503.55 354.19,506.51" fill="#000004" stroke="#000004"/>
<polygon points="360.24,450.38 360.24,444.47 354.19,441.52 348.14,444.47 348.14,450.38 354.19,453.33" fill="#000004" stroke="#000004"/>
<polygon points="360.24,432.65 360.24,426.75 354.19,423.79 348.14,426.75 348.14,432.65 354.19,435.61" fill="#000004" stroke="#000004"/>
<polygon points="360.24,414.93 360.24,409.02 354.19,406.07 348.14,409.02 348.14,414.93 354.19,417.88" fill="#000004" stroke="#000004"/>
<polygon points="360.24,397.20 360.24,391.30 354.19,388.34 348.14,391.30 348.14,397.20 354.19,400.16" fill="#000004" stroke="#000004"/>
<polygon points="360.24,379.48 360.24,373.57 354.19,370.62 348.14,373.57 348.14,379.48 354.19,382.43" fill="#000004" stroke="#000004"/>
<polygon points="360.24,361.75 360.24,355.85 354.19,352.89 348.14,355.85 348.14,361.75 354.19,364.71" fill="#000004" stroke="#000004"/>
<polygon points="360.24,344.03 360.24,338.12 354.19,335.17 348.14,338.12 348.14,344.03 354.19,346.98" fill="#000004" stroke="#000004"/>
<polygon points="360.24,326.30 360.24,320.40 354.19,317.44 348.14,320.40 348.14,326.30 354.19,329.26" fill="#000004" stroke="#000004"/>
<polygon points="360.24,308.58 360.24,302.67 354.19,299.72 348.14,302.67 348.14,308.58 354.19,311.53" fill="#000004" stroke="#000004"/>
<polygon points="360.24,290.85 360.24,284.95 354.19,281.99 348.14,284.95 348.14,290.85 354.19,293.81" fill="#000004" stroke="#000004"/>
<polygon points="360.24,273.13 360.24,267.22 354.19,264.27 348.14,267.22 348.14,273.13 354.19,276.08" fill="#000004" stroke="#000004"/>
<polygon points="360.24,255.40 360.24,249.50 354.19,246.54 348.14,249.50 348.14,255.40 354.19,258.36" fill="#000004" stroke="#000004"/>
<polygon points="360.24,237.68 360.24,231.77 354.19,228.82 348.14,231.77 348.14,237.68 354.19,240.63" fill="#000004" stroke="#000004"/>
<polygon points="360.24,219.95 360.24,214.05 354.19,211.09 348.14,214.05 348.14,219.95 354.19,222.91" fill="#050416" stroke="#050416"/>
<polygon points="360.24,202.23 360.24,196.32 354.19,193.37 348.14,196.32 348.14,202.23 354.19,205.18" fill="#050416" stroke="#050416"/>
<polygon points="360.24,184.50 360.24,178.60 354.19,175.64 348.14,178.60 348.14,184.50 354.19,187.46" fill="#1e1149" stroke="#1e1149"/>
<polygon points="360.24,166.78 360.24,160.87 354.19,157.92 348.14,160.87 348.14,166.78 354.19,169.73" fill="#271258" stroke="#271258"/>
<polygon points="360.24,149.05 360.24,143.15 354.19,140.19 348.14,143.15 348.14,149.05 354.19,152.01" fill="#3b0f70" stroke="#3b0f70"/>
<polygon points="360.24,131.33 360.24,125.42 354.19,122.47 348.14,125.42 348.14,131.33 354.19,134.28" fill="#1e1149" stroke="#1e1149"/>
<polygon points="360.24,113.60 360.24,107.70 354.19,104.74 348.14,107.70 348.14,113.60 354.19,116.56" fill="#160f3b" stroke="#160f3b"/>
<polygon points="372.33,521.28 372.33,515.37 366.29,512.42 360.24,515.37 360.24,521.28 366.29,524.23" fill="#000004" stroke="#000004"/>
<polygon points="372.33,503.55 372.33,497.65 366.29,494.69 360.24,497.65 360.24,503.55 366.29,506.51" fill="#000004" stroke="#000004"/>
<polygon points="372.33,450.38 372.33,444.47 366.29,441.52 360.24,444.47 360.24,450.38 366.29,453.33" fill="#000004" stroke="#000004"/>
<polygon points="372.33,432.65 372.33,426.75 366.29,423.79 360.24,426.75 360.24,432.65 366.29,435.61" fill="#000004" stroke="#000004"/>
<polygon points="372.33,414.93 372.33,409.02 366.29,406.07 360.24,409.02 360.24,414.93 366.29,417.88" fill="#000004" stroke="#000004"/>
<polygon points="372.33,397.20 372.33,391.30 366.29,388.34 360.24,391.30 360.24,397.20 366.29,400.16" fill="#000004" stroke="#000004"/>
<polygon points="372.33,379.48 372.33,373.57 366.29,370.62 360.24,373.57 360.24,379.48 366.29,382.43" fill="#000004" stroke="#000004"/>
<polygon points="372.33,361.75 372.33,355.85 366.29,352.89 360.24,355.85 360.24,361.75 366.29,364.71" fill="#000004" stroke="#000004"/>
<polygon points="372.33,344.03 372.33,338.12 366.29,335.17 360.24,338.12 360.24,344.03 366.29,346.98" fill="#000004" stroke="#000004"/>
<polygon points="372.33,326.30 372.33,320.40 366.29,317.44 360.24,320.40 360.24,326.30 366.29,329.26" fill="#000004" stroke="#000004"/>
<polygon points="372.33,308.58 372.33,302.67 366.29,299.72 360.24,302.67 360.24,308.58 366.29,311.53" fill="#000004" stroke="#000004"/>
<polygon points="372.33,290.85 372.33,284.95 366.29,281.99 360.24,284.95 360.24,290.85 366.29,293.81" fill="#000004" stroke="#000004"/>
<polygon points="372.33,273.13 372.33,267.22 366.29,264.27 360.24,267.22 360.24,273.13 366.29,276.08" fill="#000004" stroke="#000004"/>
<polygon points="372.33,255.40 372.33,249.50 366.29,246.54 360.24,249.50 360.24,255.40 366.29,258.36" fill="#000004" stroke="#000004"/>
<polygon points="372.33,237.68 372.33,231.77 366.29,228.82 360.24,231.77 360.24,237.68 366.29,240.63" fill="#000004" stroke="#000004"/>
<polygon points="372.33,219.95 372.33,214.05 366.29,211.09 360.24,214.05 360.24,219.95 366.29,222.91" fill="#050416" stroke="#050416"/>
<polygon points="372.33,202.23 372.33,196.32 366.29,193.37 360.24,196.32 360.24,202.23 366.29,205.18" fill="#050416" stroke="#050416"/>
<polygon points="372.33,184.50 372.33,178.60 366.29,175.64 360.24,178.60 360.24,184.50 366.29,187.46" fill="#050416" stroke="#050416"/>
<polygon points="372.33,166.78 372.33,160.87 366.29,157.92 360.24,160.87 360.24,166.78 366.29,169.73" fill="#090720" stroke="#090720"/>
<polygon points="372.33,149.05 372.33,143.15 366.29,140.19 360.24,143.15 360.24,149.05 366.29,152.01" fill="#271258" stroke="#271258"/>
<polygon points="372.33,131.33 372.33,125.42 366.29,122.47 360.24,125.42 360.24,131.33 366.29,134.28" fill="#4f127b" stroke="#4f127b"/>
<polygon points="372.33,113.60 372.33,107.70 366.29,104.74 360.24,107.70 360.24,113.60 366.29,116.56" fill="#271258" stroke="#271258"/>
<polygon points="384.43,539.00 384.43,533.10 378.38,530.14 372.33,533.10 372.33,539.00 378.38,541.96" fill="#000004" stroke="#000004"/>
<polygon points="384.43,521.28 384.43,515.37 378.38,512.42 372.33,515.37 372.33,521.28 378.38,524.23" fill="#000004" stroke="#000004"/>
<polygon points="384.43,485.83 384.43,479.92 378.38,476.97 372.33,479.92 372.33,485.83 378.38,488.78" fill="#000004" stroke="#000004"/>
<polygon points="384.43,468.10 384.43,462.20 378.38,459.24 372.33,462.20 372.33,468.10 378.38,471.06" fill="#000004" stroke="#000004"/>
<polygon points="384.43,450.38 384.43,444.47 378.38,441.52 372.33,444.47 372.33,450.38 378.38,453.33" fill="#000004" stroke="#000004"/>
<polygon points="384.43,432.65 384.43,426.75 378.38,423.79 372.33,426.75 372.33,432.65 378.38,435.61" fill="#000004" stroke="#000004"/>
<polygon points="384.43,414.93 384.43,409.02 378.38,406.07 372.33,409.02 372.33,414.93 378.38,417.88" fill="#000004" stroke="#000004"/>
<polygon points="384.43,397.20 384.43,391.30 378.38,388.34 372.33,391.30 372.33,397.20 378.38,400.16" fill="#000004" stroke="#000004"/>
<polygon points="384.43,379.48 384.43,373.57 378.38,370.62 372.33,373.57 372.33,379.48 378.38,382.43" fill="#000004" stroke="#000004"/>
<polygon points="384.43,361.75 384.43,355.85 378.38,352.89 372.33,355.85 372.33,361.75 378.38,364.71" fill="#000004" stroke="#000004"/>
<polygon points="384.43,344.03 384.43,338.12 378.38,335.17 372.33,338.12 372.33,344.03 378.38,346.98" fill="#000004" stroke="#000004"/>
<polygon points="384.43,326.30 384.43,320.40 378.38,317.44 372.33,320.40 372.33,326.30 378.38,329.26" fill="#000004" stroke="#000004"/>
<polygon points="384.43,308.58 384.43,302.67 378.38,299.72 372.33,302.67 372.33,308.58 378.38,311.53" fill="#000004" stroke="#000004"/>
<polygon points="384.43,290.85 384.43,284.95 378.38,281.99 372.33,284.95 372.33,290.85 378.38,293.81" fill="#000004" stroke="#000004"/>
<polygon points="384.43,273.13 384.43,267.22 378.38,264.27 372.33,267.22 372.33,273.13 378.38,276.08" fill="#000004" stroke="#000004"/>
<polygon points="384.43,255.40 384.43,249.50 378.38,246.54 372.33,249.50 372.33,255.40 378.38,258.36" fill="#000004" stroke="#000004"/>
<polygon points="384.43,237.68 384.43,231.77 378.38,228.82 372.33,231.77 372.33,237.68 378.38,240.63" fill="#000004" stroke="#000004"/>
<polygon points="384.43,219.95 384.43,214.05 378.38,211.09 372.33,214.05 372.33,219.95 378.38,222.91" fill="#000004" stroke="#000004"/>
<polygon points="384.43,202.23 384.43,196.32 378.38,193.37 372.33,196.32 372.33,202.23 378.38,205.18" fill="#050416" stroke="#050416"/>
<polygon points="384.43,184.50 384.43,178.60 378.38,175.64 372.33,178.60 372.33,184.50 378.38,187.46" fill="#000004" stroke="#000004"/>
<polygon points="384.43,166.78 384.43,160.87 378.38,157.92 372.33,160.87 372.33,166.78 378.38,169.73" fill="#271258" stroke="#271258"/>
<polygon points="384.43,149.05 384.43,143.15 378.38,140.19 372.33,143.15 372.33,149.05 378.38,152.01" fill="#271258" stroke="#271258"/>
<polygon points="384.43,131.33 384.43,125.42 378.38,122.47 372.33,125.42 372.33,131.33 378.38,134.28" fill="#271258" stroke="#271258"/>
<polygon points="384.43,113.60 384.43,107.70 378.38,104.74 372.33,107.70 372.33,113.60 378.38,116.56" fill="#050416" stroke="#050416"/>
<polygon points="396.52,539.00 396.52,533.10 390.47,530.14 384.43,533.10 384.43,539.00 390.47,541.96" fill="#000004" stroke="#000004"/>
<polygon points="396.52,521.28 396.52,515.37 390.47,512.42 384.43,515.37 384.43,521.28 390.47,524.23" fill="#000004" stroke="#000004"/>
<polygon points="396.52,485.83 396.52,479.92 390.47,476.97 384.43,479.92 384.43,485.83 390.47,488.78" fill="#000004" stroke="#000004"/>
<polygon points="396.52,468.10 396.52,462.20 390.47,459.24 384.43,462.20 384.43,468.10 390.47,471.06" fill="#000004" stroke="#000004"/>
<polygon points="396.52,450.38 396.52,444.47 390.47,441.52 384.43,444.47 384.43,450.38 390.47,453.33" fill="#000004" stroke="#000004"/>
<polygon points="396.52,432.65 396.52,426.75 390.47,423.79 384.43,426.75 384.43,432.65 390.47,435.61" fill="#000004" stroke="#000004"/>
<polygon points="396.52,414.93 396.52,409.02 390.47,406.07 384.43,409.02 384.43,414.93 390.47,417.88" fill="#000004" stroke="#000004"/>
<polygon points="396.52,397.20 396.52,391.30 390.47,388.34 384.43,391.30 384.43,397.20 390.47,400.16" fill="#000004" stroke="#000004"/>
<polygon points="396.52,379.48 396.52,373.57 390.47,370.62 384.43,373.57 384.43,379.48 390.47,382.43" fill="#000004" stroke="#000004"/>
<polygon points="396.52,361.75 396.52,355.85 390.47,352.89 384.43,355.85 384.43,361.75 390.47,364.71" fill="#000004" stroke="#000004"/>
<polygon points="396.52,344.03 396.52,338.12 390.47,335.17 384.43,338.12 384.43,344.03 390.47,346.98" fill="#000004" stroke="#000004"/>
<polygon points="396.52,326.30 396.52,320.40 390.47,317.44 384.43,320.40 384.43,326.30 390.47,329.26" fill="#000004" stroke="#000004"/>
<polygon points="396.52,308.58 396.52,302.67 390.47,299.72 384.43,302.67 384.43,308.58 390.47,311.53" fill="#000004" stroke="#000004"/>
<polygon points="396.52,290.85 396.52,284.95 390.47,281.99 384.43,284.95 384.43,290.85 390.47,293.81" fill="#621980" stroke="#621980"/>
<polygon points="396.52,273.13 396.52,267.22 390.47,264.27 384.43,267.22 384.43,273.13 390.47,276.08" fill="#621980" stroke="#621980"/>
<polygon points="396.52,255.40 396.52,249.50 390.47,246.54 384.43,249.50 384.43,255.40 390.47,258.36" fill="#4f127b" stroke="#4f127b"/>
<polygon points="396.52,237.68 396.52,231.77 390.47,228.82 384.43,231.77 384.43,237.68 390.47,240.63" fill="#000004" stroke="#000004"/>
<polygon points="396.52,219.95 396.52,214.05 390.47,211.09 384.43,214.05 384.43,219.95 390.47,222.91" fill="#000004" stroke="#000004"/>
<polygon points="396.52,202.23 396.52,196.32 390.47,193.37 384.43,196.32 384.43,202.23 390.47,205.18" fill="#000004" stroke="#000004"/>
<polygon points="396.52,184.50 396.52,178.60 390.47,175.64 384.43,178.60 384.43,184.50 390.47,187.46" fill="#090720" stroke="#090720"/>
<polygon points="396.52,166.78 396.52,160.87 390.47,157.92 384.43,160.87 384.43,166.78 390.47,169.73" fill="#160f3b" stroke="#160f3b"/>
<polygon points="396.52,149.05 396.52,143.15 390.47,140.19 384.43,143.15 384.43,149.05 390.47,152.01" fill="#271258" stroke="#271258"/>
<polygon points="396.52,131.33 396.52,125.42 390.47,122.47 384.43,125.42 384.43,131.33 390.47,134.28" fill="#feaa74" stroke="#feaa74"/>
<polygon points="396.52,113.60 396.52,107.70 390.47,104.74 384.43,107.70 384.43,113.60 390.47,116.56" fill="#3b0f70" stroke="#3b0f70"/>
<polygon points="408.62,521.28 408.62,515.37 402.57,512.42 396.52,515.37 396.52,521.28 402.57,524.23" fill="#000004" stroke="#000004"/>
<polygon points="408.62,503.55 408.62,497.65 402.57,494.69 396.52,497.65 396.52,503.55 402.57,506.51" fill="#000004" stroke="#000004"/>
<polygon points="408.62,485.83 408.62,479.92 402.57,476.97 396.52,479.92 396.52,485.83 402.57,488.78" fill="#000004" stroke="#000004"/>
<polygon points="408.62,468.10 408.62,462.20 402.57,459.24 396.52,462.20 396.52,468.10 402.57,471.06" fill="#000004" stroke="#000004"/>
<polygon points="408.62,450.38 408.62,444.47 402.57,441.52 396.52,444.47 396.52,450.38 402.57,453.33" fill="#000004" stroke="#000004"/>
<polygon points="408.62,432.65 408.62,426.75 402.57,423.79 396.52,426.75 396.52,432.65 402.57,435.61" fill="#000004" stroke="#000004"/>
<polygon points="408.62,414.93 408.62,409.02 402.57,406.07 396.52,409.02 396.52,414.93 402.57,417.88" fill="#000004" stroke="#000004"/>
<polygon points="408.62,397.20 408.62,391.30 402.57,388.34 396.52,391.30 396.52,397.20 402.57,400.16" fill="#000004" stroke="#000004"/>
<polygon points="408.62,379.48 408.62,373.57 402.57,370.62 396.52,373.57 396.52,379.48 402.57,382.43" fill="#000004" stroke="#000004"/>
<polygon points="408.62,361.75 408.62,355.85 402.57,352.89 396.52,355.85 396.52,361.75 402.57,364.71" fill="#000004" stroke="#000004"/>
<polygon points="408.62,344.03 408.62,338.12 402.57,335.17 396.52,338.12 396.52,344.03 402.57,346.98" fill="#000004" stroke="#000004"/>
<polygon points="408.62,326.30 408.62,320.40 402.57,317.44 396.52,320.40 396.52,326.30 402.57,329.26" fill="#000004" stroke="#000004"/>
<polygon points="408.62,308.58 408.62,302.67 402.57,299.72 396.52,302.67 396.52,308.58 402.57,311.53" fill="#000004" stroke="#000004"/>
<polygon points="408.62,290.85 408.62,284.95 402.57,281.99 396.52,284.95 396.52,290.85 402.57,293.81" fill="#000004" stroke="#000004"/>
<polygon points="408.62,273.13 408.62,267.22 402.57,264.27 396.52,267.22 396.52,273.13 402.57,276.08" fill="#271258" stroke="#271258"/>
<polygon points="408.62,255.40 408.62,249.50 402.57,246.54 396.52,249.50 396.52,255.40 402.57,258.36" fill="#000004" stroke="#000004"/>
<polygon points="408.62,237.68 408.62,231.77 402.57,228.82 396.52,231.77 396.52,237.68 402.57,240.63" fill="#000004" stroke="#000004"/>
<polygon points="408.62,219.95 408.62,214.05 402.57,211.09 396.52,214.05 396.52,219.95 402.57,222.91" fill="#050416" stroke="#050416"/>
<polygon points="408.62,202.23 408.62,196.32 402.57,193.37 396.52,196.32 396.52,202.23 402.57,205.18" fill="#000004" stroke="#000004"/>
<polygon points="408.62,184.50 408.62,178.60 402.57,175.64 396.52,178.60 396.52,184.50 402.57,187.46" fill="#090720" stroke="#090720"/>
<polygon points="408.62,166.78 408.62,160.87 402.57,157.92 396.52,160.87 396.52,166.78 402.57,169.73" fill="#090720" stroke="#090720"/>
<polygon points="408.62,149.05 408.62,143.15 402.57,140.19 396.52,143.15 396.52,149.05 402.57,152.01" fill="#3b0f70" stroke="#3b0f70"/>
<polygon points="408.62,131.33 408.62,125.42 402.57,122.47 396.52,125.42 396.52,131.33 402.57,134.28" fill="#f4675c" stroke="#f4675c"/>
<polygon points="408.62,113.60 408.62,107.70 402.57,104.74 396.52,107.70 396.52,113.60 402.57,116.56" fill="#3b0f70" stroke="#3b0f70"/>
<polygon points="420.71,503.55 420.71,497.65 414.66,494.69 408.61,497.65 408.61,503.55 414.66,506.51" fill="#000004" stroke="#000004"/>
<polygon points="420.71,485.83 420.71,479.92 414.66,476.97 408.61,479.92 408.61,485.83 414.66,488.78" fill="#000004" stroke="#000004"/>
<polygon points="420.71,468.10 420.71,462.20 414.66,459.24 408.61,462.20 408.61,468.10 414.66,471.06" fill="#000004" stroke="#000004"/>
<polygon points="420.71,450.38 420.71,444.47 414.66,441.52 408.61,444.47 408.61,450.38 414.66,453.33" fill="#000004" stroke="#000004"/>
<polygon points="420.71,432.65 420.71,426.75 414.66,423.79 408.61,426.75 408.61,432.65 414.66,435.61" fill="#000004" stroke="#000004"/>
<polygon points="420.71,414.93 420.71,409.02 414.66,406.07 408.61,409.02 408.61,414.93 414.66,417.88" fill="#000004" stroke="#000004"/>
<polygon points="420.71,397.20 420.71,391.30 414.66,388.34 408.61,391.30 408.61,397.20 414.66,400.16" fill="#000004" stroke="#000004"/>
<polygon points="420.71,379.48 420.71,373.57 414.66,370.62 408.61,373.57 408.61,379.48 414.66,382.43" fill="#000004" stroke="#000004"/>
<polygon points="420.71,361.75 420.71,355.85 414.66,352.89 408.61,355.85 408.61,361.75 414.66,364.71" fill="#000004" stroke="#000004"/>
<polygon points="420.71,344.03 420.71,338.12 414.66,335.17 408.61,338.12 408.61,344.03 414.66,346.98" fill="#000004" stroke="#000004"/>
<polygon points="420.71,326.30 420.71,320.40 414.66,317.44 408.61,320.40 408.61,326.30 414.66,329.26" fill="#000004" stroke="#000004"/>
<polygon points="420.71,308.58 420.71,302.67 414.66,299.72 408.61,302.67 408.61,308.58 414.66,311.53" fill="#050416" stroke="#050416"/>
<polygon points="420.71,290.85 420.71,284.95 414.66,281.99 408.61,284.95 408.61,290.85 414.66,293.81" fill="#000004" stroke="#000004"/>
<polygon points="420.71,273.13 420.71,267.22 414.66,264.27 408.61,267.22 408.61,273.13 414.66,276.08" fill="#000004" stroke="#000004"/>
<polygon points="420.71,255.40 420.71,249.50 414.66,246.54 408.61,249.50 408.61,255.40 414.66,258.36" fill="#000004" stroke="#000004"/>
<polygon points="420.71,237.68 420.71,231.77 414.66,228.82 408.61,231.77 408.61,237.68 414.66,240.63" fill="#000004" stroke="#000004"/>
<polygon points="420.71,219.95 420.71,214.05 414.66,211.09 408.61,214.05 408.61,219.95 414.66,222.91" fill="#000004" stroke="#000004"/>
<polygon points="420.71,202.23 420.71,196.32 414.66,193.37 408.61,196.32 408.61,202.23 414.66,205.18" fill="#100b2d" stroke="#100b2d"/>
<polygon points="420.71,184.50 420.71,178.60 414.66,175.64 408.61,178.60 408.61,184.50 414.66,187.46" fill="#160f3b" stroke="#160f3b"/>
<polygon points="420.71,166.78 420.71,160.87 414.66,157.92 408.61,160.87 408.61,166.78 414.66,169.73" fill="#59157e" stroke="#59157e"/>
<polygon points="420.71,149.05 420.71,143.15 414.66,140.19 408.61,143.15 408.61,149.05 414.66,152.01" fill="#4f127b" stroke="#4f127b"/>
<polygon points="420.71,131.33 420.71,125.42 414.66,122.47 408.61,125.42 408.61,131.33 414.66,134.28" fill="#621980" stroke="#621980"/>
<polygon points="420.71,113.60 420.71,107.70 414.66,104.74 408.61,107.70 408.61,113.60 414.66,116.56" fill="#451077" stroke="#451077"/>
<polygon points="432.80,521.28 432.80,515.37 426.76,512.42 420.71,515.37 420.71,521.28 426.76,524.23" fill="#000004" stroke="#000004"/>
<polygon points="432.80,503.55 432.80,497.65 426.76,494.69 420.71,497.65 420.71,503.55 426.76,506.51" fill="#000004" stroke="#000004"/>
<polygon points="432.80,485.83 432.80,479.92 426.76,476.97 420.71,479.92 420.71,485.83 426.76,488.78" fill="#000004" stroke="#000004"/>
<polygon points="432.80,468.10 432.80,462.20 426.76,459.24 420.71,462.20 420.71,468.10 426.76,471.06" fill="#000004" stroke="#000004"/>
<polygon points="432.80,450.38 432.80,444.47 426.76,441.52 420.71,444.47 420.71,450.38 426.76,453.33" fill="#000004" stroke="#000004"/>
<polygon points="432.80,432.65 432.80,426.75 426.76,423.79 420.71,426.75 420.71,432.65 426.76,435.61" fill="#000004" stroke="#000004"/>
<polygon points="432.80,414.93 432.80,409.02 426.76,406.07 420.71,409.02 420.71,414.93 426.76,417.88" fill="#000004" stroke="#000004"/>
<polygon points="432.80,397.20 432.80,391.30 426.76,388.34 420.71,391.30 420.71,397.20 426.76,400.16" fill="#000004" stroke="#000004"/>
<polygon points="432.80,379.48 432.80,373.57 426.76,370.62 420.71,373.57 420.71,379.48 426.76,382.43" fill="#000004" stroke="#000004"/>
<polygon points="432.80,361.75 432.80,355.85 426.76,352.89 420.71,355.85 420.71,361.75 426.76,364.71" fill="#000004" stroke="#000004"/>
<polygon points="432.80,344.03 432.80,338.12 426.76,335.17 420.71,338.12 420.71,344.03 426.76,346.98" fill="#000004" stroke="#000004"/>
<polygon points="432.80,326.30 432.80,320.40 426.76,317.44 420.71,320.40 420.71,326.30 426.76,329.26" fill="#000004" stroke="#000004"/>
<polygon points="432.80,308.58 432.80,302.67 426.76,299.72 420.71,302.67 420.71,308.58 426.76,311.53" fill="#000004" stroke="#000004"/>
<polygon points="432.80,290.85 432.80,284.95 426.76,281.99 420.71,284.95 420.71,290.85 426.76,293.81" fill="#000004" stroke="#000004"/>
<polygon points="432.80,273.13 432.80,267.22 426.76,264.27 420.71,267.22 420.71,273.13 426.76,276.08" fill="#000004" stroke="#000004"/>
<polygon points="432.80,255.40 432.80,249.50 426.76,246.54 420.71,249.50 420.71,255.40 426.76,258.36" fill="#000004" stroke="#000004"/>
<polygon points="432.80,237.68 432.80,231.77 426.76,228.82 420.71,231.77 420.71,237.68 426.76,240.63" fill="#000004" stroke="#000004"/>
<polygon points="432.80,219.95 432.80,214.05 426.76,211.09 420.71,214.05 420.71,219.95 426.76,222.91" fill="#000004" stroke="#000004"/>
<polygon points="432.80,202.23 432.80,196.32 426.76,193.37 420.71,196.32 420.71,202.23 426.76,205.18" fill="#090720" stroke="#090720"/>
<polygon points="432.80,184.50 432.80,178.60 426.76,175.64 420.71,178.60 420.71,184.50 426.76,187.46" fill="#160f3b" stroke="#160f3b"/>
<polygon points="432.80,166.78 432.80,160.87 426.76,157.92 420.71,160.87 420.71,166.78 426.76,169.73" fill="#c73d73" stroke="#c73d73"/>
<polygon points="432.80,149.05 432.80,143.15 426.76,140.19 420.71,143.15 420.71,149.05 426.76,152.01" fill="#fd9467" stroke="#fd9467"/>
<polygon points="432.80,131.33 432.80,125.42 426.76,122.47 420.71,125.42 420.71,131.33 426.76,134.28" fill="#6b1d81" stroke="#6b1d81"/>
<polygon points="432.80,113.60 432.80,107.70 426.76,104.74 420.71,107.70 420.71,113.60 426.76,116.56" fill="#311165" stroke="#311165"/>
<polygon points="444.90,521.28 444.90,515.37 438.85,512.42 432.80,515.37 432.80,521.28 438.85,524.23" fill="#000004" stroke="#000004"/>
<polygon points="444.90,503.55 444.90,497.65 438.85,494.69 432.80,497.65 432.80,503.55 438.85,506.51" fill="#000004" stroke="#000004"/>
<polygon points="444.90,485.83 444.90,479.92 438.85,476.97 432.80,479.92 432.80,485.83 438.85,488.78" fill="#000004" stroke="#000004"/>
<polygon points="444.90,468.10 444.90,462.20 438.85,459.24 432.80,462.20 432.80,468.10 438.85,471.06" fill="#000004" stroke="#000004"/>
<polygon points="444.90,450.38 444.90,444.47 438.85,441.52 432.80,444.47 432.80,450.38 438.85,453.33" fill="#000004" stroke="#000004"/>
<polygon points="444.90,432.65 444.90,426.75 438.85,423.79 432.80,426.75 432.80,432.65 438.85,435.61" fill="#000004" stroke="#000004"/>
<polygon points="444.90,414.93 444.90,409.02 438.85,406.07 432.80,409.02 432.80,414.93 438.85,417.88" fill="#000004" stroke="#000004"/>
<polygon points="444.90,397.20 444.90,391.30 438.85,388.34 432.80,391.30 432.80,397.20 438.85,400.16" fill="#000004" stroke="#000004"/>
<polygon points="444.90,379.48 444.90,373.57 438.85,370.62 432.80,373.57 432.80,379.48 438.85,382.43" fill="#000004" stroke="#000004"/>
<polygon points="444.90,361.75 444.90,355.85 438.85,352.89 432.80,355.85 432.80,361.75 438.85,364.71" fill="#000004" stroke="#000004"/>
<polygon points="444.90,344.03 444.90,338.12 438.85,335.17 432.80,338.12 432.80,344.03 438.85,346.98" fill="#000004" stroke="#000004"/>
<polygon points="444.90,326.30 444.90,320.40 438.85,317.44 432.80,320.40 432.80,326.30 438.85,329.26" fill="#000004" stroke="#000004"/>
<polygon points="444.90,308.58 444.90,302.67 438.85,299.72 432.80,302.67 432.80,308.58 438.85,311.53" fill="#000004" stroke="#000004"/>
<polygon points="444.90,290.85 444.90,284.95 438.85,281.99 432.80,284.95 432.80,290.85 438.85,293.81" fill="#000004" stroke="#000004"/>
<polygon points="444.90,273.13 444.90,267.22 438.85,264.27 432.80,267.22 432.80,273.13 438.85,276.08" fill="#000004" stroke="#000004"/>
<polygon points="444.90,255.40 444.90,249.50 438.85,246.54 432.80,249.50 432.80,255.40 438.85,258.36" fill="#000004" stroke="#000004"/>
<polygon points="444.90,237.68 444.90,231.77 438.85,228.82 432.80,231.77 432.80,237.68 438.85,240.63" fill="#000004" stroke="#000004"/>
<polygon points="444.90,219.95 444.90,214.05 438.85,211.09 432.80,214.05 432.80,219.95 438.85,222.91" fill="#000004" stroke="#000004"/>
<polygon points="444.90,202.23 444.90,196.32 438.85,193.37 432.80,196.32 432.80,202.23 438.85,205.18" fill="#090720" stroke="#090720"/>
<polygon points="444.90,184.50 444.90,178.60 438.85,175.64 432.80,178.60 432.80,184.50 438.85,187.46" fill="#621980" stroke="#621980"/>
<polygon points="444.90,166.78 444.90,160.87 438.85,157.92 432.80,160.87 432.80,166.78 438.85,169.73" fill="#feaa74" stroke="#feaa74"/>
<polygon points="444.90,149.05 444.90,143.15 438.85,140.19 432.80,143.15 432.80,149.05 438.85,152.01" fill="#e95462" stroke="#e95462"/>
<polygon points="444.90,131.33 444.90,125.42 438.85,122.47 432.80,125.42 432.80,131.33 438.85,134.28" fill="#7e2482" stroke="#7e2482"/>
<polygon points="444.90,113.60 444.90,107.70 438.85,104.74 432.80,107.70 432.80,113.60 438.85,116.56" fill="#c73d73" stroke="#c73d73"/>
<polygon points="456.99,521.28 456.99,515.37 450.94,512.42 444.90,515.37 444.90,521.28 450.94,524.23" fill="#000004" stroke="#000004"/>
<polygon points="456.99,503.55 456.99,497.65 450.94,494.69 444.90,497.65 444.90,503.55 450.94,506.51" fill="#000004" stroke="#000004"/>
<polygon points="456.99,485.83 456.99,479.92 450.94,476.97 444.90,479.92 444.90,485.83 450.94,488.78" fill="#000004" stroke="#000004"/>
<polygon points="456.99,468.10 456.99,462.20 450.94,459.24 444.90,462.20 444.90,468.10 450.94,471.06" fill="#000004" stroke="#000004"/>
<polygon points="456.99,450.38 456.99,444.47 450.94,441.52 444.90,444.47 444.90,450.38 450.94,453.33" fill="#000004" stroke="#000004"/>
<polygon points="456.99,432.65 456.99,426.75 450.94,423.79 444.90,426.75 444.90,432.65 450.94,435.61" fill="#000004" stroke="#000004"/>
<polygon points="456.99,414.93 456.99,409.02 450.94,406.07 444.90,409.02 444.90,414.93 450.94,417.88" fill="#000004" stroke="#000004"/>
<polygon points="456.99,397.20 456.99,391.30 450.94,388.34 444.90,391.30 444.90,397.20 450.94,400.16" fill="#000004" stroke="#000004"/>
<polygon points="456.99,379.48 456.99,373.57 450.94,370.62 444.90,373.57 444.90,379.48 450.94,382.43" fill="#000004" stroke="#000004"/>
<polygon points="456.99,361.75 456.99,355.85 450.94,352.89 444.90,355.85 444.90,361.75 450.94,364.71" fill="#000004" stroke="#000004"/>
<polygon points="456.99,344.03 456.99,338.12 450.94,335.17 444.90,338.12 444.90,344.03 450.94,346.98" fill="#000004" stroke="#000004"/>
<polygon points="456.99,326.30 456.99,320.40 450.94,317.44 444.90,320.40 444.90,326.30 450.94,329.26" fill="#000004" stroke="#000004"/>
<polygon points="456.99,308.58 456.99,302.67 450.94,299.72 444.90,302.67 444.90,308.58 450.94,311.53" fill="#000004" stroke="#000004"/>
<polygon points="456.99,290.85 456.99,284.95 450.94,281.99 444.90,284.95 444.90,290.85 450.94,293.81" fill="#000004" stroke="#000004"/>
<polygon points="456.99,273.13 456.99,267.22 450.94,264.27 444.90,267.22 444.90,273.13 450.94,276.08" fill="#000004" stroke="#000004"/>
<polygon points="456.99,255.40 456.99,249.50 450.94,246.54 444.90,249.50 444.90,255.40 450.94,258.36" fill="#000004" stroke="#000004"/>
<polygon points="456.99,237.68 456.99,231.77 450.94,228.82 444.90,231.77 444.90,237.68 450.94,240.63" fill="#000004" stroke="#000004"/>
<polygon points="456.99,219.95 456.99,214.05 450.94,211.09 444.90,214.05 444.90,219.95 450.94,222.91" fill="#271258" stroke="#271258"/>
<polygon points="456.99,202.23 456.99,196.32 450.94,193.37 444.90,196.32 444.90,202.23 450.94,205.18" fill="#090720" stroke="#090720"/>
<polygon points="456.99,184.50 456.99,178.60 450.94,175.64 444.90,178.60 444.90,184.50 450.94,187.46" fill="#090720" stroke="#090720"/>
<polygon points="456.99,166.78 456.99,160.87 450.94,157.92 444.90,160.87 444.90,166.78 450.94,169.73" fill="#4f127b" stroke="#4f127b"/>
<polygon points="456.99,149.05 456.99,143.15 450.94,140.19 444.90,143.15 444.90,149.05 450.94,152.01" fill="#912b81" stroke="#912b81"/>
<polygon points="456.99,131.33 456.99,125.42 450.94,122.47 444.90,125.42 444.90,131.33 450.94,134.28" fill="#b3367a" stroke="#b3367a"/>
<polygon points="456.99,113.60 456.99,107.70 450.94,104.74 444.90,107.70 444.90,113.60 450.94,116.56" fill="#160f3b" stroke="#160f3b"/>
<polygon points="469.09,521.28 469.09,515.37 463.04,512.42 456.99,515.37 456.99,521.28 463.04,524.23" fill="#000004" stroke="#000004"/>
<polygon points="469.09,503.55 469.09,497.65 463.04,494.69 456.99,497.65 456.99,503.55 463.04,506.51" fill="#000004" stroke="#000004"/>
<polygon points="469.09,485.83 469.09,479.92 463.04,476.97 456.99,479.92 456.99,485.83 463.04,488.78" fill="#000004" stroke="#000004"/>
<polygon points="469.09,468.10 469.09,462.20 463.04,459.24 456.99,462.20 456.99,468.10 463.04,471.06" fill="#000004" stroke="#000004"/>
<polygon points="469.09,450.38 469.09,444.47 463.04,441.52 456.99,444.47 456.99,450.38 463.04,453.33" fill="#000004" stroke="#000004"/>
<polygon points="469.09,432.65 469.09,426.75 463.04,423.79 456.99,426.75 456.99,432.65 463.04,435.61" fill="#000004" stroke="#000004"/>
<polygon points="469.09,414.93 469.09,409.02 463.04,406.07 456.99,409.02 456.99,414.93 463.04,417.88" fill="#000004" stroke="#000004"/>
<polygon points="469.09,397.20 469.09,391.30 463.04,388.34 456.99,391.30 456.99,397.20 463.04,400.16" fill="#000004" stroke="#000004"/>
<polygon points="469.09,379.48 469.09,373.57 463.04,370.62 456.99,373.57 456.99,379.48 463.04,382.43" fill="#000004" stroke="#000004"/>
<polygon points="469.09,361.75 469.09,355.85 463.04,352.89 456.99,355.85 456.99,361.75 463.04,364.71" fill="#000004" stroke="#000004"/>
<polygon points="469.09,344.03 469.09,338.12 463.04,335.17 456.99,338.12 456.99,344.03 463.04,346.98" fill="#000004" stroke="#000004"/>
<polygon points="469.09,326.30 469.09,320.40 463.04,317.44 456.99,320.40 456.99,326.30 463.04,329.26" fill="#000004" stroke="#000004"/>
<polygon points="469.09,308.58 469.09,302.67 463.04,299.72 456.99,302.67 456.99,308.58 463.04,311.53" fill="#000004" stroke="#000004"/>
<polygon points="469.09,290.85 469.09,284.95 463.04,281.99 456.99,284.95 456.99,290.85 463.04,293.81" fill="#000004" stroke="#000004"/>
<polygon points="469.09,273.13 469.09,267.22 463.04,264.27 456.99,267.22 456.99,273.13 463.04,276.08" fill="#000004" stroke="#000004"/>
<polygon points="469.09,255.40 469.09,249.50 463.04,246.54 456.99,249.50 456.99,255.40 463.04,258.36" fill="#000004" stroke="#000004"/>
<polygon points="469.09,237.68 469.09,231.77 463.04,228.82 456.99,231.77 456.99,237.68 463.04,240.63" fill="#100b2d" stroke="#100b2d"/>
<polygon points="469.09,219.95 469.09,214.05 463.04,211.09 456.99,214.05 456.99,219.95 463.04,222.91" fill="#050416" stroke="#050416"/>
<polygon points="469.09,202.23 469.09,196.32 463.04,193.37 456.99,196.32 456.99,202.23 463.04,205.18" fill="#050416" stroke="#050416"/>
<polygon points="469.09,184.50 469.09,178.60 463.04,175.64 456.99,178.60 456.99,184.50 463.04,187.46" fill="#1e1149" stroke="#1e1149"/>
<polygon points="469.09,166.78 469.09,160.87 463.04,157.92 456.99,160.87 456.99,166.78 463.04,169.73" fill="#621980" stroke="#621980"/>
<polygon points="469.09,149.05 469.09,143.15 463.04,140.19 456.99,143.15 456.99,149.05 463.04,152.01" fill="#160f3b" stroke="#160f3b"/>
<polygon points="469.09,131.33 469.09,125.42 463.04,122.47 456.99,125.42 456.99,131.33 463.04,134.28" fill="#882781" stroke="#882781"/>
<polygon points="469.09,113.60 469.09,107.70 463.04,104.74 456.99,107.70 456.99,113.60 463.04,116.56" fill="#311165" stroke="#311165"/>
<polygon points="481.18,539.00 481.18,533.10 475.13,530.14 469.08,533.10 469.08,539.00 475.13,541.96" fill="#000004" stroke="#000004"/>
<polygon points="481.18,521.28 481.18,515.37 475.13,512.42 469.08,515.37 469.08,521.28 475.13,524.23" fill="#000004" stroke="#000004"/>
<polygon points="481.18,503.55 481.18,497.65 475.13,494.69 469.08,497.65 469.08,503.55 475.13,506.51" fill="#000004" stroke="#000004"/>
<polygon points="481.18,485.83 481.18,479.92 475.13,476.97 469.08,479.92 469.08,485.83 475.13,488.78" fill="#000004" stroke="#000004"/>
<polygon points="481.18,468.10 481.18,462.20 475.13,459.24 469.08,462.20 469.08,468.10 475.13,471.06" fill="#000004" stroke="#000004"/>
<polygon points="481.18,450.38 481.18,444.47 475.13,441.52 469.08,444.47 469.08,450.38 475.13,453.33" fill="#000004" stroke="#000004"/>
<polygon points="481.18,432.65 481.18,426.75 475.13,423.79 469.08,426.75 469.08,432.65 475.13,435.61" fill="#000004" stroke="#000004"/>
<polygon points="481.18,414.93 481.18,409.02 475.13,406.07 469.08,409.02 469.08,414.93 475.13,417.88" fill="#000004" stroke="#000004"/>
<polygon points="481.18,397.20 481.18,391.30 475.13,388.34 469.08,391.30 469.08,397.20 475.13,400.16" fill="#000004" stroke="#000004"/>
<polygon points="481.18,379.48 481.18,373.57 475.13,370.62 469.08,373.57 469.08,379.48 475.13,382.43" fill="#000004" stroke="#000004"/>
<polygon points="481.18,361.75 481.18,355.85 475.13,352.89 469.08,355.85 469.08,361.75 475.13,364.71" fill="#000004" stroke="#000004"/>
<polygon points="481.18,344.03 481.18,338.12 475.13,335.17 469.08,338.12 469.08,344.03 475.13,346.98" fill="#000004" stroke="#000004"/>
<polygon points="481.18,326.30 481.18,320.40 475.13,317.44 469.08,320.40 469.08,326.30 475.13,329.26" fill="#000004" stroke="#000004"/>
<polygon points="481.18,308.58 481.18,302.67 475.13,299.72 469.08,302.67 469.08,308.58 475.13,311.53" fill="#000004" stroke="#000004"/>
<polygon points="481.18,290.85 481.18,284.95 475.13,281.99 469.08,284.95 469.08,290.85 475.13,293.81" fill="#000004" stroke="#000004"/>
<polygon points="481.18,273.13 481.18,267.22 475.13,264.27 469.08,267.22 469.08,273.13 475.13,276.08" fill="#000004" stroke="#000004"/>
<polygon points="481.18,255.40 481.18,249.50 475.13,246.54 469.08,249.50 469.08,255.40 475.13,258.36" fill="#000004" stroke="#000004"/>
<polygon points="481.18,237.68 481.18,231.77 475.13,228.82 469.08,231.77 469.08,237.68 475.13,240.63" fill="#000004" stroke="#000004"/>
<polygon points="481.18,219.95 481.18,214.05 475.13,211.09 469.08,214.05 469.08,219.95 475.13,222.91" fill="#000004" stroke="#000004"/>
<polygon points="481.18,202.23 481.18,196.32 475.13,193.37 469.08,196.32 469.08,202.23 475.13,205.18" fill="#050416" stroke="#050416"/>
<polygon points="481.18,184.50 481.18,178.60 475.13,175.64 469.08,178.60 469.08,184.50 475.13,187.46" fill="#3b0f70" stroke="#3b0f70"/>
<polygon points="481.18,166.78 481.18,160.87 475.13,157.92 469.08,160.87 469.08,166.78 475.13,169.73" fill="#090720" stroke="#090720"/>
<polygon points="481.18,149.05 481.18,143.15 475.13,140.19 469.08,143.15 469.08,149.05 475.13,152.01" fill="#882781" stroke="#882781"/>
<polygon points="481.18,131.33 481.18,125.42 475.13,122.47 469.08,125.42 469.08,131.33 475.13,134.28" fill="#912b81" stroke="#912b81"/>
<polygon points="481.18,113.60 481.18,107.70 475.13,104.74 469.08,107.70 469.08,113.60 475.13,116.56" fill="#fcfdbf" stroke="#fcfdbf"/>
<polygon points="493.27,539.00 493.27,533.10 487.23,530.14 481.18,533.10 481.18,539.00 487.23,541.96" fill="#000004" stroke="#000004"/>
<polygon points="493.27,521.28 493.27,515.37 487.23,512.42 481.18,515.37 481.18,521.28 487.23,524.23" fill="#000004" stroke="#000004"/>
<polygon points="493.27,503.55 493.27,497.65 487.23,494.69 481.18,497.65 481.18,503.55 487.23,506.51" fill="#000004" stroke="#000004"/>
<polygon points="493.27,485.83 493.27,479.92 487.23,476.97 481.18,479.92 481.18,485.83 487.23,488.78" fill="#000004" stroke="#000004"/>
<polygon points="493.27,468.10 493.27,462.20 487.23,459.24 481.18,462.20 481.18,468.10 487.23,471.06" fill="#000004" stroke="#000004"/>
<polygon points="493.27,450.38 493.27,444.47 487.23,441.52 481.18,444.47 481.18,450.38 487.23,453.33" fill="#000004" stroke="#000004"/>
<polygon points="493.27,432.65 493.27,426.75 487.23,423.79 481.18,426.75 481.18,432.65 487.23,435.61" fill="#000004" stroke="#000004"/>
<polygon points="493.27,414.93 493.27,409.02 487.23,406.07 481.18,409.02 481.18,414.93 487.23,417.88" fill="#000004" stroke="#000004"/>
<polygon points="493.27,397.20 493.27,391.30 487.23,388.34 481.18,391.30 481.18,397.20 487.23,400.16" fill="#000004" stroke="#000004"/>
<polygon points="493.27,379.48 493.27,373.57 487.23,370.62 481.18,373.57 481.18,379.48 487.23,382.43" fill="#000004" stroke="#000004"/>
<polygon points="493.27,361.75 493.27,355.85 487.23,352.89 481.18,355.85 481.18,361.75 487.23,364.71" fill="#000004" stroke="#000004"/>
<polygon points="493.27,344.03 493.27,338.12 487.23,335.17 481.18,338.12 481.18,344.03 487.23,346.98" fill="#000004" stroke="#000004"/>
<polygon points="493.27,326.30 493.27,320.40 487.23,317.44 481.18,320.40 481.18,326.30 487.23,329.26" fill="#000004" stroke="#000004"/>
<polygon points="493.27,308.58 493.27,302.67 487.23,299.72 481.18,302.67 481.18,308.58 487.23,311.53" fill="#000004" stroke="#000004"/>
<polygon points="493.27,290.85 493.27,284.95 487.23,281.99 481.18,284.95 481.18,290.85 487.23,293.81" fill="#000004" stroke="#000004"/>
<polygon points="493.27,273.13 493.27,267.22 487.23,264.27 481.18,267.22 481.18,273.13 487.23,276.08" fill="#000004" stroke="#000004"/>
<polygon points="493.27,255.40 493.27,249.50 487.23,246.54 481.18,249.50 481.18,255.40 487.23,258.36" fill="#000004" stroke="#000004"/>
<polygon points="493.27,237.68 493.27,231.77 487.23,228.82 481.18,231.77 481.18,237.68 487.23,240.63" fill="#000004" stroke="#000004"/>
<polygon points="493.27,219.95 493.27,214.05 487.23,211.09 481.18,214.05 481.18,219.95 487.23,222.91" fill="#050416" stroke="#050416"/>
<polygon points="493.27,202.23 493.27,196.32 487.23,193.37 481.18,196.32 481.18,202.23 487.23,205.18" fill="#050416" stroke="#050416"/>
<polygon points="493.27,184.50 493.27,178.60 487.23,175.64 481.18,178.60 481.18,184.50 487.23,187.46" fill="#090720" stroke="#090720"/>
<polygon points="493.27,166.78 493.27,160.87 487.23,157.92 481.18,160.87 481.18,166.78 487.23,169.73" fill="#090720" stroke="#090720"/>
<polygon points="493.27,149.05 493.27,143.15 487.23,140.19 481.18,143.15 481.18,149.05 487.23,152.01" fill="#100b2d" stroke="#100b2d"/>
<polygon points="493.27,131.33 493.27,125.42 487.23,122.47 481.18,125.42 481.18,131.33 487.23,134.28" fill="#7e2482" stroke="#7e2482"/>
<polygon points="493.27,113.60 493.27,107.70 487.23,104.74 481.18,107.70 481.18,113.60 487.23,116.56" fill="#090720" stroke="#090720"/>
<polygon points="505.37,539.00 505.37,533.10 499.32,530.14 493.27,533.10 493.27,539.00 499.32,541.96" fill="#000004" stroke="#000004"/>
<polygon points="505.37,521.28 505.37,515.37 499.32,512.42 493.27,515.37 493.27,521.28 499.32,524.23" fill="#000004" stroke="#000004"/>
<polygon points="505.37,503.55 505.37,497.65 499.32,494.69 493.27,497.65 493.27,503.55 499.32,506.51" fill="#000004" stroke="#000004"/>
<polygon points="505.37,485.83 505.37,479.92 499.32,476.97 493.27,479.92 493.27,485.83 499.32,488.78" fill="#000004" stroke="#000004"/>
<polygon points="505.37,468.10 505.37,462.20 499.32,459.24 493.27,462.20 493.27,468.10 499.32,471.06" fill="#000004" stroke="#000004"/>
<polygon points="505.37,450.38 505.37,444.47 499.32,441.52 493.27,444.47 493.27,450.38 499.32,453.33" fill="#000004" stroke="#000004"/>
<polygon points="505.37,432.65 505.37,426.75 499.32,423.79 493.27,426.75 493.27,432.65 499.32,435.61" fill="#000004" stroke="#000004"/>
<polygon points="505.37,414.93 505.37,409.02 499.32,406.07 493.27,409.02 493.27,414.93 499.32,417.88" fill="#000004" stroke="#000004"/>
<polygon points="505.37,397.20 505.37,391.30 499.32,388.34 493.27,391.30 493.27,397.20 499.32,400.16" fill="#000004" stroke="#000004"/>
<polygon points="505.37,379.48 505.37,373.57 499.32,370.62 493.27,373.57 493.27,379.48 499.32,382.43" fill="#000004" stroke="#000004"/>
<polygon points="505.37,361.75 505.37,355.85 499.32,352.89 493.27,355.85 493.27,361.75 499.32,364.71" fill="#000004" stroke="#000004"/>
<polygon points="505.37,344.03 505.37,338.12 499.32,335.17 493.27,338.12 493.27,344.03 499.32,346.98" fill="#000004" stroke="#000004"/>
<polygon points="505.37,326.30 505.37,320.40 499.32,317.44 493.27,320.40 493.27,326.30 499.32,329.26" fill="#000004" stroke="#000004"/>
<polygon points="505.37,308.58 505.37,302.67 499.32,299.72 493.27,302.67 493.27,308.58 499.32,311.53" fill="#000004" stroke="#000004"/>
<polygon points="505.37,290.85 505.37,284.95 499.32,281.99 493.27,284.95 493.27,290.85 499.32,293.81" fill="#000004" stroke="#000004"/>
<polygon points="505.37,273.13 505.37,267.22 499.32,264.27 493.27,267.22 493.27,273.13 499.32,276.08" fill="#000004" stroke="#000004"/>
<polygon points="505.37,255.40 505.37,249.50 499.32,246.54 493.27,249.50 493.27,255.40 499.32,258.36" fill="#000004" stroke="#000004"/>
<polygon points="505.37,237.68 505.37,231.77 499.32,228.82 493.27,231.77 493.27,237.68 499.32,240.63" fill="#000004" stroke="#000004"/>
<polygon points="505.37,219.95 505.37,214.05 499.32,211.09 493.27,214.05 493.27,219.95 499.32,222.91" fill="#000004" stroke="#000004"/>
<polygon points="505.37,202.23 505.37,196.32 499.32,193.37 493.27,196.32 493.27,202.23 499.32,205.18" fill="#000004" stroke="#000004"/>
<polygon points="505.37,184.50 505.37,178.60 499.32,175.64 493.27,178.60 493.27,184.50 499.32,187.46" fill="#090720" stroke="#090720"/>
<polygon points="505.37,166.78 505.37,160.87 499.32,157.92 493.27,160.87 493.27,166.78 499.32,169.73" fill="#311165" stroke="#311165"/>
<polygon points="505.37,149.05 505.37,143.15 499.32,140.19 493.27,143.15 493.27,149.05 499.32,152.01" fill="#451077" stroke="#451077"/>
<polygon points="505.37,131.33 505.37,125.42 499.32,122.47 493.27,125.42 493.27,131.33 499.32,134.28" fill="#050416" stroke="#050416"/>
<polygon points="505.37,113.60 505.37,107.70 499.32,104.74 493.27,107.70 493.27,113.60 499.32,116.56" fill="#090720" stroke="#090720"/>
<polygon points="517.46,556.73 517.46,550.82 511.41,547.87 505.37,550.82 505.37,556.73 511.41,559.68" fill="#000004" stroke="#000004"/>
<polygon points="517.46,539.00 517.46,533.10 511.41,530.14 505.37,533.10 505.37,539.00 511.41,541.96" fill="#000004" stroke="#000004"/>
<polygon points="517.46,521.28 517.46,515.37 511.41,512.42 505.37,515.37 505.37,521.28 511.41,524.23" fill="#000004" stroke="#000004"/>
<polygon points="517.46,503.55 517.46,497.65 511.41,494.69 505.37,497.65 505.37,503.55 511.41,506.51" fill="#000004" stroke="#000004"/>
<polygon points="517.46,485.83 517.46,479.92 511.41,476.97 505.37,479.92 505.37,485.83 511.41,488.78" fill="#000004" stroke="#000004"/>
<polygon points="517.46,468.10 517.46,462.20 511.41,459.24 505.37,462.20 505.37,468.10 511.41,471.06" fill="#000004" stroke="#000004"/>
<polygon points="517.46,450.38 517.46,444.47 511.41,441.52 505.37,444.47 505.37,450.38 511.41,453.33" fill="#000004" stroke="#000004"/>
<polygon points="517.46,432.65 517.46,426.75 511.41,423.79 505.37,426.75 505.37,432.65 511.41,435.61" fill="#000004" stroke="#000004"/>
<polygon points="517.46,414.93 517.46,409.02 511.41,406.07 505.37,409.02 505.37,414.93 511.41,417.88" fill="#000004" stroke="#000004"/>
<polygon points="517.46,397.20 517.46,391.30 511.41,388.34 505.37,391.30 505.37,397.20 511.41,400.16" fill="#000004" stroke="#000004"/>
<polygon points="517.46,379.48 517.46,373.57 511.41,370.62 505.37,373.57 505.37,379.48 511.41,382.43" fill="#000004" stroke="#000004"/>
<polygon points="517.46,361.75 517.46,355.85 511.41,352.89 505.37,355.85 505.37,361.75 511.41,364.71" fill="#000004" stroke="#000004"/>
<polygon points="517.46,344.03 517.46,338.12 511.41,335.17 505.37,338.12 505.37,344.03 511.41,346.98" fill="#000004" stroke="#000004"/>
<polygon points="517.46,326.30 517.46,320.40 511.41,317.44 505.37,320.40 505.37,326.30 511.41,329.26" fill="#000004" stroke="#000004"/>
<polygon points="517.46,308.58 517.46,302.67 511.41,299.72 505.37,302.67 505.37,308.58 511.41,311.53" fill="#000004" stroke="#000004"/>
<polygon points="517.46,290.85 517.46,284.95 511.41,281.99 505.37,284.95 505.37,290.85 511.41,293.81" fill="#000004" stroke="#000004"/>
<polygon points="517.46,273.13 517.46,267.22 511.41,264.27 505.37,267.22 505.37,273.13 511.41,276.08" fill="#000004" stroke="#000004"/>
<polygon points="517.46,255.40 517.46,249.50 511.41,246.54 505.37,249.50 505.37,255.40 511.41,258.36" fill="#000004" stroke="#000004"/>
<polygon points="517.46,237.68 517.46,231.77 511.41,228.82 505.37,231.77 505.37,237.68 511.41,240.63" fill="#000004" stroke="#000004"/>
<polygon points="517.46,219.95 517.46,214.05 511.41,211.09 505.37,214.05 505.37,219.95 511.41,222.91" fill="#160f3b" stroke="#160f3b"/>
<polygon points="517.46,202.23 517.46,196.32 511.41,193.37 505.37,196.32 505.37,202.23 511.41,205.18" fill="#4f127b" stroke="#4f127b"/>
<polygon points="517.46,184.50 517.46,178.60 511.41,175.64 505.37,178.60 505.37,184.50 511.41,187.46" fill="#4f127b" stroke="#4f127b"/>
<polygon points="517.46,166.78 517.46,160.87 511.41,157.92 505.37,160.87 505.37,166.78 511.41,169.73" fill="#4f127b" stroke="#4f127b"/>
<polygon points="529.56,556.73 529.56,550.82 523.51,547.87 517.46,550.82 517.46,556.73 523.51,559.68" fill="#000004" stroke="#000004"/>
<polygon points="529.56,539.00 529.56,533.10 523.51,530.14 517.46,533.10 517.46,539.00 523.51,541.96" fill="#000004" stroke="#000004"/>
<polygon points="529.56,521.28 529.56,515.37 523.51,512.42 517.46,515.37 517.46,521.28 523.51,524.23" fill="#000004" stroke="#000004"/>
<polygon points="529.56,503.55 529.56,497.65 523.51,494.69 517.46,497.65 517.46,503.55 523.51,506.51" fill="#000004" stroke="#000004"/>
<polygon points="529.56,485.83 529.56,479.92 523.51,476.97 517.46,479.92 517.46,485.83 523.51,488.78" fill="#000004" stroke="#000004"/>
<polygon points="529.56,468.10 529.56,462.20 523.51,459.24 517.46,462.20 517.46,468.10 523.51,471.06" fill="#000004" stroke="#000004"/>
<polygon points="529.56,450.38 529.56,444.47 523.51,441.52 517.46,444.47 517.46,450.38 523.51,453.33" fill="#000004" stroke="#000004"/>
<polygon points="529.56,432.65 529.56,426.75 523.51,423.79 517.46,426.75 517.46,432.65 523.51,435.61" fill="#000004" stroke="#000004"/>
<polygon points="529.56,414.93 529.56,409.02 523.51,406.07 517.46,409.02 517.46,414.93 523.51,417.88" fill="#000004" stroke="#000004"/>
<polygon points="529.56,397.20 529.56,391.30 523.51,388.34 517.46,391.30 517.46,397.20 523.51,400.16" fill="#000004" stroke="#000004"/>
<polygon points="529.56,379.48 529.56,373.57 523.51,370.62 517.46,373.57 517.46,379.48 523.51,382.43" fill="#000004" stroke="#000004"/>
<polygon points="529.56,361.75 529.56,355.85 523.51,352.89 517.46,355.85 517.46,361.75 523.51,364.71" fill="#000004" stroke="#000004"/>
<polygon points="529.56,344.03 529.56,338.12 523.51,335.17 517.46,338.12 517.46,344.03 523.51,346.98" fill="#000004" stroke="#000004"/>
<polygon points="529.56,326.30 529.56,320.40 523.51,317.44 517.46,320.40 517.46,326.30 523.51,329.26" fill="#000004" stroke="#000004"/>
<polygon points="529.56,308.58 529.56,302.67 523.51,299.72 517.46,302.67 517.46,308.58 523.51,311.53" fill="#000004" stroke="#000004"/>
<polygon points="529.56,290.85 529.56,284.95 523.51,281.99 517.46,284.95 517.46,290.85 523.51,293.81" fill="#000004" stroke="#000004"/>
<polygon points="529.56,273.13 529.56,267.22 523.51,264.27 517.46,267.22 517.46,273.13 523.51,276.08" fill="#000004" stroke="#000004"/>
<polygon points="529.56,255.40 529.56,249.50 523.51,246.54 517.46,249.50 517.46,255.40 523.51,258.36" fill="#160f3b" stroke="#160f3b"/>
<polygon points="529.56,237.68 529.56,231.77 523.51,228.82 517.46,231.77 517.46,237.68 523.51,240.63" fill="#271258" stroke="#271258"/>
<polygon points="529.56,219.95 529.56,214.05 523.51,211.09 517.46,214.05 517.46,219.95 523.51,222.91" fill="#050416" stroke="#050416"/>
<polygon points="529.56,202.23 529.56,196.32 523.51,193.37 517.46,196.32 517.46,202.23 523.51,205.18" fill="#050416" stroke="#050416"/>
<polygon points="529.56,184.50 529.56,178.60 523.51,175.64 517.46,178.60 517.46,184.50 523.51,187.46" fill="#000004" stroke="#000004"/>
<polygon points="541.65,539.00 541.65,533.10 535.60,530.14 529.55,533.10 529.55,539.00 535.60,541.96" fill="#000004" stroke="#000004"/>
<polygon points="541.65,521.28 541.65,515.37 535.60,512.42 529.55,515.37 529.55,521.28 535.60,524.23" fill="#000004" stroke="#000004"/>
<polygon points="541.65,503.55 541.65,497.65 535.60,494.69 529.55,497.65 529.55,503.55 535.60,506.51" fill="#000004" stroke="#000004"/>
<polygon points="541.65,485.83 541.65,479.92 535.60,476.97 529.55,479.92 529.55,485.83 535.60,488.78" fill="#000004" stroke="#000004"/>
<polygon points="541.65,468.10 541.65,462.20 535.60,459.24 529.55,462.20 529.55,468.10 535.60,471.06" fill="#000004" stroke="#000004"/>
<polygon points="541.65,450.38 541.65,444.47 535.60,441.52 529.55,444.47 529.55,450.38 535.60,453.33" fill="#000004" stroke="#000004"/>
<polygon points="541.65,432.65 541.65,426.75 535.60,423.79 529.55,426.75 529.55,432.65 535.60,435.61" fill="#000004" stroke="#000004"/>
<polygon points="541.65,414.93 541.65,409.02 535.60,406.07 529.55,409.02 529.55,414.93 535.60,417.88" fill="#000004" stroke="#000004"/>
<polygon points="541.65,397.20 541.65,391.30 535.60,388.34 529.55,391.30 529.55,397.20 535.60,400.16" fill="#000004" stroke="#000004"/>
<polygon points="541.65,379.48 541.65,373.57 535.60,370.62 529.55,373.57 529.55,379.48 535.60,382.43" fill="#000004" stroke="#000004"/>
<polygon points="541.65,361.75 541.65,355.85 535.60,352.89 529.55,355.85 529.55,361.75 535.60,364.71" fill="#000004" stroke="#000004"/>
<polygon points="541.65,344.03 541.65,338.12 535.60,335.17 529.55,338.12 529.55,344.03 535.60,346.98" fill="#000004" stroke="#000004"/>
<polygon points="541.65,326.30 541.65,320.40 535.60,317.44 529.55,320.40 529.55,326.30 535.60,329.26" fill="#000004" stroke="#000004"/>
<polygon points="541.65,308.58 541.65,302.67 535.60,299.72 529.55,302.67 529.55,308.58 535.60,311.53" fill="#000004" stroke="#000004"/>
<polygon points="541.65,290.85 541.65,284.95 535.60,281.99 529.55,284.95 529.55,290.85 535.60,293.81" fill="#000004" stroke="#000004"/>
<polygon points="541.65,273.13 541.65,267.22 535.60,264.27 529.55,267.22 529.55,273.13 535.60,276.08" fill="#000004" stroke="#000004"/>
<polygon points="541.65,255.40 541.65,249.50 535.60,246.54 529.55,249.50 529.55,255.40 535.60,258.36" fill="#160f3b" stroke="#160f3b"/>
<polygon points="541.65,237.68 541.65,231.77 535.60,228.82 529.55,231.77 529.55,237.68 535.60,240.63" fill="#000004" stroke="#000004"/>
<polygon points="541.65,219.95 541.65,214.05 535.60,211.09 529.55,214.05 529.55,219.95 535.60,222.91" fill="#050416" stroke="#050416"/>
<polygon points="541.65,202.23 541.65,196.32 535.60,193.37 529.55,196.32 529.55,202.23 535.60,205.18" fill="#271258" stroke="#271258"/>
<polygon points="541.65,184.50 541.65,178.60 535.60,175.64 529.55,178.60 529.55,184.50 535.60,187.46" fill="#621980" stroke="#621980"/>
<polygon points="553.74,556.73 553.74,550.82 547.70,547.87 541.65,550.82 541.65,556.73 547.70,559.68" fill="#000004" stroke="#000004"/>
<polygon points="553.74,539.00 553.74,533.10 547.70,530.14 541.65,533.10 541.65,539.00 547.70,541.96" fill="#000004" stroke="#000004"/>
<polygon points="553.74,521.28 553.74,515.37 547.70,512.42 541.65,515.37 541.65,521.28 547.70,524.23" fill="#000004" stroke="#000004"/>
<polygon points="553.74,503.55 553.74,497.65 547.70,494.69 541.65,497.65 541.65,503.55 547.70,506.51" fill="#000004" stroke="#000004"/>
<polygon points="553.74,485.83 553.74,479.92 547.70,476.97 541.65,479.92 541.65,485.83 547.70,488.78" fill="#000004" stroke="#000004"/>
<polygon points="553.74,468.10 553.74,462.20 547.70,459.24 541.65,462.20 541.65,468.10 547.70,471.06" fill="#000004" stroke="#000004"/>
<polygon points="553.74,450.38 553.74,444.47 547.70,441.52 541.65,444.47 541.65,450.38 547.70,453.33" fill="#000004" stroke="#000004"/>
<polygon points="553.74,432.65 553.74,426.75 547.70,423.79 541.65,426.75 541.65,432.65 547.70,435.61" fill="#000004" stroke="#000004"/>
<polygon points="553.74,414.93 553.74,409.02 547.70,406.07 541.65,409.02 541.65,414.93 547.70,417.88" fill="#000004" stroke="#000004"/>
<polygon points="553.74,397.20 553.74,391.30 547.70,388.34 541.65,391.30 541.65,397.20 547.70,400.16" fill="#000004" stroke="#000004"/>
<polygon points="553.74,379.48 553.74,373.57 547.70,370.62 541.65,373.57 541.65,379.48 547.70,382.43" fill="#000004" stroke="#000004"/>
<polygon points="553.74,361.75 553.74,355.85 547.70,352.89 541.65,355.85 541.65,361.75 547.70,364.71" fill="#000004" stroke="#000004"/>
<polygon points="553.74,344.03 553.74,338.12 547.70,335.17 541.65,338.12 541.65,344.03 547.70,346.98" fill="#000004" stroke="#000004"/>
<polygon points="553.74,326.30 553.74,320.40 547.70,317.44 541.65,320.40 541.65,326.30 547.70,329.26" fill="#000004" stroke="#000004"/>
<polygon points="553.74,308.58 553.74,302.67 547.70,299.72 541.65,302.67 541.65,308.58 547.70,311.53" fill="#000004" stroke="#000004"/>
<polygon points="553.74,290.85 553.74,284.95 547.70,281.99 541.65,284.95 541.65,290.85 547.70,293.81" fill="#000004" stroke="#000004"/>
<polygon points="553.74,273.13 553.74,267.22 547.70,264.27 541.65,267.22 541.65,273.13 547.70,276.08" fill="#000004" stroke="#000004"/>
<polygon points="553.74,255.40 553.74,249.50 547.70,246.54 541.65,249.50 541.65,255.40 547.70,258.36" fill="#000004" stroke="#000004"/>
<polygon points="553.74,237.68 553.74,231.77 547.70,228.82 541.65,231.77 541.65,237.68 547.70,240.63" fill="#000004" stroke="#000004"/>
<polygon points="553.74,219.95 553.74,214.05 547.70,211.09 541.65,214.05 541.65,219.95 547.70,222.91" fill="#271258" stroke="#271258"/>
<polygon points="553.74,202.23 553.74,196.32 547.70,193.37 541.65,196.32 541.65,202.23 547.70,205.18" fill="#000004" stroke="#000004"/>
<polygon points="565.84,556.73 565.84,550.82 559.79,547.87 553.74,550.82 553.74,556.73 559.79,559.68" fill="#000004" stroke="#000004"/>
<polygon points="565.84,539.00 565.84,533.10 559.79,530.14 553.74,533.10 553.74,539.00 559.79,541.96" fill="#000004" stroke="#000004"/>
<polygon points="565.84,521.28 565.84,515.37 559.79,512.42 553.74,515.37 553.74,521.28 559.79,524.23" fill="#000004" stroke="#000004"/>
<polygon points="565.84,503.55 565.84,497.65 559.79,494.69 553.74,497.65 553.74,503.55 559.79,506.51" fill="#000004" stroke="#000004"/>
<polygon points="565.84,485.83 565.84,479.92 559.79,476.97 553.74,479.92 553.74,485.83 559.79,488.78" fill="#000004" stroke="#000004"/>
<polygon points="565.84,468.10 565.84,462.20 559.79,459.24 553.74,462.20 553.74,468.10 559.79,471.06" fill="#000004" stroke="#000004"/>
<polygon points="565.84,450.38 565.84,444.47 559.79,441.52 553.74,444.47 553.74,450.38 559.79,453.33" fill="#000004" stroke="#000004"/>
<polygon points="565.84,432.65 565.84,426.75 559.79,423.79 553.74,426.75 553.74,432.65 559.79,435.61" fill="#000004" stroke="#000004"/>
<polygon points="565.84,414.93 565.84,409.02 559.79,406.07 553.74,409.02 553.74,414.93 559.79,417.88" fill="#000004" stroke="#000004"/>
<polygon points="565.84,397.20 565.84,391.30 559.79,388.34 553.74,391.30 553.74,397.20 559.79,400.16" fill="#000004" stroke="#000004"/>
<polygon points="565.84,379.48 565.84,373.57 559.79,370.62 553.74,373.57 553.74,379.48 559.79,382.43" fill="#000004" stroke="#000004"/>
<polygon points="565.84,361.75 565.84,355.85 559.79,352.89 553.74,355.85 553.74,361.75 559.79,364.71" fill="#000004" stroke="#000004"/>
<polygon points="565.84,344.03 565.84,338.12 559.79,335.17 553.74,338.12 553.74,344.03 559.79,346.98" fill="#000004" stroke="#000004"/>
<polygon points="565.84,326.30 565.84,320.40 559.79,317.44 553.74,320.40 553.74,326.30 559.79,329.26" fill="#000004" stroke="#000004"/>
<polygon points="565.84,308.58 565.84,302.67 559.79,299.72 553.74,302.67 553.74,308.58 559.79,311.53" fill="#000004" stroke="#000004"/>
<polygon points="565.84,290.85 565.84,284.95 559.79,281.99 553.74,284.95 553.74,290.85 559.79,293.81" fill="#000004" stroke="#000004"/>
<polygon points="565.84,273.13 565.84,267.22 559.79,264.27 553.74,267.22 553.74,273.13 559.79,276.08" fill="#000004" stroke="#000004"/>
<polygon points="565.84,255.40 565.84,249.50 559.79,246.54 553.74,249.50 553.74,255.40 559.79,258.36" fill="#100b2d" stroke="#100b2d"/>
<polygon points="565.84,237.68 565.84,231.77 559.79,228.82 553.74,231.77 553.74,237.68 559.79,240.63" fill="#000004" stroke="#000004"/>
<polygon points="565.84,219.95 565.84,214.05 559.79,211.09 553.74,214.05 553.74,219.95 559.79,222.91" fill="#000004" stroke="#000004"/>
<polygon points="577.93,556.73 577.93,550.82 571.88,547.87 565.84,550.82 565.84,556.73 571.88,559.68" fill="#000004" stroke="#000004"/>
<polygon points="577.93,539.00 577.93,533.10 571.88,530.14 565.84,533.10 565.84,539.00 571.88,541.96" fill="#000004" stroke="#000004"/>
<polygon points="577.93,521.28 577.93,515.37 571.88,512.42 565.84,515.37 565.84,521.28 571.88,524.23" fill="#000004" stroke="#000004"/>
<polygon points="577.93,503.55 577.93,497.65 571.88,494.69 565.84,497.65 565.84,503.55 571.88,506.51" fill="#000004" stroke="#000004"/>
<polygon points="577.93,485.83 577.93,479.92 571.88,476.97 565.84,479.92 565.84,485.83 571.88,488.78" fill="#000004" stroke="#000004"/>
<polygon points="577.93,468.10 577.93,462.20 571.88,459.24 565.84,462.20 565.84,468.10 571.88,471.06" fill="#000004" stroke="#000004"/>
<polygon points="577.93,450.38 577.93,444.47 571.88,441.52 565.84,444.47 565.84,450.38 571.88,453.33" fill="#000004" stroke="#000004"/>
<polygon points="577.93,432.65 577.93,426.75 571.88,423.79 565.84,426.75 565.84,432.65 571.88,435.61" fill="#000004" stroke="#000004"/>
<polygon points="577.93,414.93 577.93,409.02 571.88,406.07 565.84,409.02 565.84,414.93 571.88,417.88" fill="#000004" stroke="#000004"/>
<polygon points="577.93,397.20 577.93,391.30 571.88,388.34 565.84,391.30 565.84,397.20 571.88,400.16" fill="#000004" stroke="#000004"/>
<polygon points="577.93,379.48 577.93,373.57 571.88,370.62 565.84,373.57 565.84,379.48 571.88,382.43" fill="#000004" stroke="#000004"/>
<polygon points="577.93,361.75 577.93,355.85 571.88,352.89 565.84,355.85 565.84,361.75 571.88,364.71" fill="#000004" stroke="#000004"/>
<polygon points="577.93,344.03 577.93,338.12 571.88,335.17 565.84,338.12 565.84,344.03 571.88,346.98" fill="#000004" stroke="#000004"/>
<polygon points="577.93,326.30 577.93,320.40 571.88,317.44 565.84,320.40 565.84,326.30 571.88,329.26" fill="#000004" stroke="#000004"/>
<polygon points="577.93,308.58 577.93,302.67 571.88,299.72 565.84,302.67 565.84,308.58 571.88,311.53" fill="#000004" stroke="#000004"/>
<polygon points="577.93,290.85 577.93,284.95 571.88,281.99 565.84,284.95 565.84,290.85 571.88,293.81" fill="#000004" stroke="#000004"/>
<polygon points="577.93,273.13 577.93,267.22 571.88,264.27 565.84,267.22 565.84,273.13 571.88,276.08" fill="#02020d" stroke="#02020d"/>
<polygon points="577.93,255.40 577.93,249.50 571.88,246.54 565.84,249.50 565.84,255.40 571.88,258.36" fill="#000004" stroke="#000004"/>
<polygon points="590.02,539.00 590.02,533.10 583.98,530.14 577.93,533.10 577.93,539.00 583.98,541.96" fill="#000004" stroke="#000004"/>
<polygon points="590.02,521.28 590.02,515.37 583.98,512.42 577.93,515.37 577.93,521.28 583.98,524.23" fill="#000004" stroke="#000004"/>
<polygon points="590.02,503.55 590.02,497.65 583.98,494.69 577.93,497.65 577.93,503.55 583.98,506.51" fill="#000004" stroke="#000004"/>
<polygon points="590.02,485.83 590.02,479.92 583.98,476.97 577.93,479.92 577.93,485.83 583.98,488.78" fill="#000004" stroke="#000004"/>
<polygon points="590.02,468.10 590.02,462.20 583.98,459.24 577.93,462.20 577.93,468.10 583.98,471.06" fill="#000004" stroke="#000004"/>
<polygon points="590.02,450.38 590.02,444.47 583.98,441.52 577.93,444.47 577.93,450.38 583.98,453.33" fill="#000004" stroke="#000004"/>
<polygon points="590.02,432.65 590.02,426.75 583.98,423.79 577.93,426.75 577.93,432.65 583.98,435.61" fill="#000004" stroke="#000004"/>
<polygon points="590.02,414.93 590.02,409.02 583.98,406.07 577.93,409.02 577.93,414.93 583.98,417.88" fill="#000004" stroke="#000004"/>
<polygon points="590.02,397.20 590.02,391.30 583.98,388.34 577.93,391.30 577.93,397.20 583.98,400.16" fill="#000004" stroke="#000004"/>
<polygon points="590.02,379.48 590.02,373.57 583.98,370.62 577.93,373.57 577.93,379.48 583.98,382.43" fill="#000004" stroke="#000004"/>
<polygon points="590.02,361.75 590.02,355.85 583.98,352.89 577.93,355.85 577.93,361.75 583.98,364.71" fill="#000004" stroke="#000004"/>
<polygon points="590.02,344.03 590.02,338.12 583.98,335.17 577.93,338.12 577.93,344.03 583.98,346.98" fill="#000004" stroke="#000004"/>
<polygon points="590.02,326.30 590.02,320.40 583.98,317.44 577.93,320.40 577.93,326.30 583.98,329.26" fill="#000004" stroke="#000004"/>
<polygon points="590.02,308.58 590.02,302.67 583.98,299.72 577.93,302.67 577.93,308.58 583.98,311.53" fill="#000004" stroke="#000004"/>
<polygon points="590.02,290.85 590.02,284.95 583.98,281.99 577.93,284.95 577.93,290.85 583.98,293.81" fill="#000004" stroke="#000004"/>
<polygon points="590.02,273.13 590.02,267.22 583.98,264.27 577.93,267.22 577.93,273.13 583.98,276.08" fill="#000004" stroke="#000004"/>
<polygon points="590.02,255.40 590.02,249.50 583.98,246.54 577.93,249.50 577.93,255.40 583.98,258.36" fill="#000004" stroke="#000004"/>
<polygon points="602.12,592.18 602.12,586.27 596.07,583.32 590.02,586.27 590.02,592.18 596.07,595.13" fill="#000004" stroke="#000004"/>
<polygon points="602.12,574.45 602.12,568.55 596.07,565.59 590.02,568.55 590.02,574.45 596.07,577.41" fill="#000004" stroke="#000004"/>
<polygon points="602.12,556.73 602.12,550.82 596.07,547.87 590.02,550.82 590.02,556.73 596.07,559.68" fill="#000004" stroke="#000004"/>
<polygon points="602.12,539.00 602.12,533.10 596.07,530.14 590.02,533.10 590.02,539.00 596.07,541.96" fill="#000004" stroke="#000004"/>
<polygon points="602.12,521.28 602.12,515.37 596.07,512.42 590.02,515.37 590.02,521.28 596.07,524.23" fill="#000004" stroke="#000004"/>
<polygon points="602.12,503.55 602.12,497.65 596.07,494.69 590.02,497.65 590.02,503.55 596.07,506.51" fill="#000004" stroke="#000004"/>
<polygon points="602.12,485.83 602.12,479.92 596.07,476.97 590.02,479.92 590.02,485.83 596.07,488.78" fill="#000004" stroke="#000004"/>
<polygon points="602.12,468.10 602.12,462.20 596.07,459.24 590.02,462.20 590.02,468.10 596.07,471.06" fill="#000004" stroke="#000004"/>
<polygon points="602.12,450.38 602.12,444.47 596.07,441.52 590.02,444.47 590.02,450.38 596.07,453.33" fill="#000004" stroke="#000004"/>
<polygon points="602.12,432.65 602.12,426.75 596.07,423.79 590.02,426.75 590.02,432.65 596.07,435.61" fill="#000004" stroke="#000004"/>
<polygon points="602.12,414.93 602.12,409.02 596.07,406.07 590.02,409.02 590.02,414.93 596.07,417.88" fill="#000004" stroke="#000004"/>
<polygon points="602.12,397.20 602.12,391.30 596.07,388.34 590.02,391.30 590.02,397.20 596.07,400.16" fill="#000004" stroke="#000004"/>
<polygon points="602.12,379.48 602.12,373.57 596.07,370.62 590.02,373.57 590.02,379.48 596.07,382.43" fill="#000004" stroke="#000004"/>
<polygon points="602.12,361.75 602.12,355.85 596.07,352.89 590.02,355.85 590.02,361.75 596.07,364.71" fill="#000004" stroke="#000004"/>
<polygon points="602.12,344.03 602.12,338.12 596.07,335.17 590.02,338.12 590.02,344.03 596.07,346.98" fill="#000004" stroke="#000004"/>
<polygon points="602.12,326.30 602.12,320.40 596.07,317.44 590.02,320.40 590.02,326.30 596.07,329.26" fill="#000004" stroke="#000004"/>
<polygon points="602.12,308.58 602.12,302.67 596.07,299.72 590.02,302.67 590.02,308.58 596.07,311.53" fill="#000004" stroke="#000004"/>
<polygon points="602.12,290.85 602.12,284.95 596.07,281.99 590.02,284.95 590.02,290.85 596.07,293.81" fill="#000004" stroke="#000004"/>
<polygon points="602.12,273.13 602.12,267.22 596.07,264.27 590.02,267.22 590.02,273.13 596.07,276.08" fill="#000004" stroke="#000004"/>
<polygon points="614.21,592.18 614.21,586.27 608.17,583.32 602.12,586.27 602.12,592.18 608.17,595.13" fill="#000004" stroke="#000004"/>
<polygon points="614.21,574.45 614.21,568.55 608.17,565.59 602.12,568.55 602.12,574.45 608.17,577.41" fill="#000004" stroke="#000004"/>
<polygon points="614.21,556.73 614.21,550.82 608.17,547.87 602.12,550.82 602.12,556.73 608.17,559.68" fill="#000004" stroke="#000004"/>
<polygon points="614.21,539.00 614.21,533.10 608.17,530.14 602.12,533.10 602.12,539.00 608.17,541.96" fill="#000004" stroke="#000004"/>
<polygon points="614.21,521.28 614.21,515.37 608.17,512.42 602.12,515.37 602.12,521.28 608.17,524.23" fill="#000004" stroke="#000004"/>
<polygon points="614.21,503.55 614.21,497.65 608.17,494.69 602.12,497.65 602.12,503.55 608.17,506.51" fill="#000004" stroke="#000004"/>
<polygon points="614.21,485.83 614.21,479.92 608.17,476.97 602.12,479.92 602.12,485.83 608.17,488.78" fill="#000004" stroke="#000004"/>
<polygon points="614.21,468.10 614.21,462.20 608.17,459.24 602.12,462.20 602.12,468.10 608.17,471.06" fill="#000004" stroke="#000004"/>
<polygon points="614.21,450.38 614.21,444.47 608.17,441.52 602.12,444.47 602.12,450.38 608.17,453.33" fill="#000004" stroke="#000004"/>
<polygon points="614.21,432.65 614.21,426.75 608.17,423.79 602.12,426.75 602.12,432.65 608.17,435.61" fill="#000004" stroke="#000004"/>
<polygon points="614.21,414.93 614.21,409.02 608.17,406.07 602.12,409.02 602.12,414.93 608.17,417.88" fill="#000004" stroke="#000004"/>
<polygon points="614.21,397.20 614.21,391.30 608.17,388.34 602.12,391.30 602.12,397.20 608.17,400.16" fill="#000004" stroke="#000004"/>
<polygon points="614.21,379.48 614.21,373.57 608.17,370.62 602.12,373.57 602.12,379.48 608.17,382.43" fill="#000004" stroke="#000004"/>
<polygon points="614.21,361.75 614.21,355.85 608.17,352.89 602.12,355.85 602.12,361.75 608.17,364.71" fill="#000004" stroke="#000004"/>
<polygon points="614.21,344.03 614.21,338.12 608.17,335.17 602.12,338.12 602.12,344.03 608.17,346.98" fill="#000004" stroke="#000004"/>
<polygon points="614.21,326.30 614.21,320.40 608.17,317.44 602.12,320.40 602.12,326.30 608.17,329.26" fill="#000004" stroke="#000004"/>
<polygon points="614.21,308.58 614.21,302.67 608.17,299.72 602.12,302.67 602.12,308.58 608.17,311.53" fill="#000004" stroke="#000004"/>
<polygon points="626.31,556.73 626.31,550.82 620.26,547.87 614.21,550.82 614.21,556.73 620.26,559.68" fill="#000004" stroke="#000004"/>
<polygon points="626.31,539.00 626.31,533.10 620.26,530.14 614.21,533.10 614.21,539.00 620.26,541.96" fill="#000004" stroke="#000004"/>
<polygon points="626.31,521.28 626.31,515.37 620.26,512.42 614.21,515.37 614.21,521.28 620.26,524.23" fill="#000004" stroke="#000004"/>
<polygon points="626.31,503.55 626.31,497.65 620.26,494.69 614.21,497.65 614.21,503.55 620.26,506.51" fill="#000004" stroke="#000004"/>
<polygon points="626.31,485.83 626.31,479.92 620.26,476.97 614.21,479.92 614.21,485.83 620.26,488.78" fill="#000004" stroke="#000004"/>
<polygon points="626.31,468.10 626.31,462.20 620.26,459.24 614.21,462.20 614.21,468.10 620.26,471.06" fill="#000004" stroke="#000004"/>
<polygon points="626.31,450.38 626.31,444.47 620.26,441.52 614.21,444.47 614.21,450.38 620.26,453.33" fill="#000004" stroke="#000004"/>
<polygon points="626.31,432.65 626.31,426.75 620.26,423.79 614.21,426.75 614.21,432.65 620.26,435.61" fill="#000004" stroke="#000004"/>
<polygon points="626.31,414.93 626.31,409.02 620.26,406.07 614.21,409.02 614.21,414.93 620.26,417.88" fill="#000004" stroke="#000004"/>
<polygon points="626.31,397.20 626.31,391.30 620.26,388.34 614.21,391.30 614.21,397.20 620.26,400.16" fill="#000004" stroke="#000004"/>
<polygon points="626.31,379.48 626.31,373.57 620.26,370.62 614.21,373.57 614.21,379.48 620.26,382.43" fill="#000004" stroke="#000004"/>
<polygon points="626.31,361.75 626.31,355.85 620.26,352.89 614.21,355.85 614.21,361.75 620.26,364.71" fill="#000004" stroke="#000004"/>
<polygon points="626.31,344.03 626.31,338.12 620.26,335.17 614.21,338.12 614.21,344.03 620.26,346.98" fill="#000004" stroke="#000004"/>
<polygon points="626.31,326.30 626.31,320.40 620.26,317.44 614.21,320.40 614.21,326.30 620.26,329.26" fill="#000004" stroke="#000004"/>
<polygon points="626.31,308.58 626.31,302.67 620.26,299.72 614.21,302.67 614.21,308.58 620.26,311.53" fill="#000004" stroke="#000004"/>
<polygon points="638.40,556.73 638.40,550.82 632.35,547.87 626.31,550.82 626.31,556.73 632.35,559.68" fill="#000004" stroke="#000004"/>
<polygon points="638.40,539.00 638.40,533.10 632.35,530.14 626.31,533.10 626.31,539.00 632.35,541.96" fill="#000004" stroke="#000004"/>
<polygon points="638.40,521.28 638.40,515.37 632.35,512.42 626.31,515.37 626.31,521.28 632.35,524.23" fill="#000004" stroke="#000004"/>
<polygon points="638.40,503.55 638.40,497.65 632.35,494.69 626.31,497.65 626.31,503.55 632.35,506.51" fill="#000004" stroke="#000004"/>
<polygon points="638.40,485.83 638.40,479.92 632.35,476.97 626.31,479.92 626.31,485.83 632.35,488.78" fill="#000004" stroke="#000004"/>
<polygon points="638.40,468.10 638.40,462.20 632.35,459.24 626.31,462.20 626.31,468.10 632.35,471.06" fill="#000004" stroke="#000004"/>
<polygon points="638.40,450.38 638.40,444.47 632.35,441.52 626.31,444.47 626.31,450.38 632.35,453.33" fill="#000004" stroke="#000004"/>
<polygon points="638.40,432.65 638.40,426.75 632.35,423.79 626.31,426.75 626.31,432.65 632.35,435.61" fill="#000004" stroke="#000004"/>
<polygon points="638.40,414.93 638.40,409.02 632.35,406.07 626.31,409.02 626.31,414.93 632.35,417.88" fill="#000004" stroke="#000004"/>
<polygon points="638.40,397.20 638.40,391.30 632.35,388.34 626.31,391.30 626.31,397.20 632.35,400.16" fill="#000004" stroke="#000004"/>
<polygon points="638.40,379.48 638.40,373.57 632.35,370.62 626.31,373.57 626.31,379.48 632.35,382.43" fill="#000004" stroke="#000004"/>
<polygon points="638.40,361.75 638.40,355.85 632.35,352.89 626.31,355.85 626.31,361.75 632.35,364.71" fill="#000004" stroke="#000004"/>
<polygon points="638.40,344.03 638.40,338.12 632.35,335.17 626.31,338.12 626.31,344.03 632.35,346.98" fill="#000004" stroke="#000004"/>
<polygon points="638.40,326.30 638.40,320.40 632.35,317.44 626.31,320.40 626.31,326.30 632.35,329.26" fill="#000004" stroke="#000004"/>
<polygon points="650.50,556.73 650.50,550.82 644.45,547.87 638.40,550.82 638.40,556.73 644.45,559.68" fill="#000004" stroke="#000004"/>
<polygon points="650.50,539.00 650.50,533.10 644.45,530.14 638.40,533.10 638.40,539.00 644.45,541.96" fill="#000004" stroke="#000004"/>
<polygon points="650.50,521.28 650.50,515.37 644.45,512.42 638.40,515.37 638.40,521.28 644.45,524.23" fill="#000004" stroke="#000004"/>
<polygon points="650.50,503.55 650.50,497.65 644.45,494.69 638.40,497.65 638.40,503.55 644.45,506.51" fill="#000004" stroke="#000004"/>
<polygon points="650.50,485.83 650.50,479.92 644.45,476.97 638.40,479.92 638.40,485.83 644.45,488.78" fill="#000004" stroke="#000004"/>
<polygon points="650.50,468.10 650.50,462.20 644.45,459.24 638.40,462.20 638.40,468.10 644.45,471.06" fill="#000004" stroke="#000004"/>
<polygon points="650.50,450.38 650.50,444.47 644.45,441.52 638.40,444.47 638.40,450.38 644.45,453.33" fill="#000004" stroke="#000004"/>
<polygon points="650.50,432.65 650.50,426.75 644.45,423.79 638.40,426.75 638.40,432.65 644.45,435.61" fill="#000004" stroke="#000004"/>
<polygon points="650.50,414.93 650.50,409.02 644.45,406.07 638.40,409.02 638.40,414.93 644.45,417.88" fill="#000004" stroke="#000004"/>
<polygon points="650.50,397.20 650.50,391.30 644.45,388.34 638.40,391.30 638.40,397.20 644.45,400.16" fill="#000004" stroke="#000004"/>
<polygon points="650.50,379.48 650.50,373.57 644.45,370.62 638.40,373.57 638.40,379.48 644.45,382.43" fill="#000004" stroke="#000004"/>
<polygon points="650.50,361.75 650.50,355.85 644.45,352.89 638.40,355.85 638.40,361.75 644.45,364.71" fill="#000004" stroke="#000004"/>
<polygon points="650.50,344.03 650.50,338.12 644.45,335.17 638.40,338.12 638.40,344.03 644.45,346.98" fill="#000004" stroke="#000004"/>
<polygon points="662.59,539.00 662.59,533.10 656.54,530.14 650.50,533.10 650.50,539.00 656.54,541.96" fill="#000004" stroke="#000004"/>
<polygon points="662.59,521.28 662.59,515.37 656.54,512.42 650.50,515.37 650.50,521.28 656.54,524.23" fill="#000004" stroke="#000004"/>
<polygon points="662.59,503.55 662.59,497.65 656.54,494.69 650.50,497.65 650.50,503.55 656.54,506.51" fill="#000004" stroke="#000004"/>
<polygon points="662.59,485.83 662.59,479.92 656.54,476.97 650.50,479.92 650.50,485.83 656.54,488.78" fill="#000004" stroke="#000004"/>
<polygon points="662.59,468.10 662.59,462.20 656.54,459.24 650.50,462.20 650.50,468.10 656.54,471.06" fill="#000004" stroke="#000004"/>
<polygon points="662.59,450.38 662.59,444.47 656.54,441.52 650.50,444.47 650.50,450.38 656.54,453.33" fill="#000004" stroke="#000004"/>
<polygon points="662.59,432.65 662.59,426.75 656.54,423.79 650.50,426.75 650.50,432.65 656.54,435.61" fill="#000004" stroke="#000004"/>
<polygon points="662.59,414.93 662.59,409.02 656.54,406.07 650.50,409.02 650.50,414.93 656.54,417.88" fill="#000004" stroke="#000004"/>
<polygon points="662.59,397.20 662.59,391.30 656.54,388.34 650.50,391.30 650.50,397.20 656.54,400.16" fill="#000004" stroke="#000004"/>
<polygon points="662.59,379.48 662.59,373.57 656.54,370.62 650.50,373.57 650.50,379.48 656.54,382.43" fill="#000004" stroke="#000004"/>
<polygon points="662.59,361.75 662.59,355.85 656.54,352.89 650.50,355.85 650.50,361.75 656.54,364.71" fill="#000004" stroke="#000004"/>
<polygon points="674.68,539.00 674.68,533.10 668.64,530.14 662.59,533.10 662.59,539.00 668.64,541.96" fill="#000004" stroke="#000004"/>
<polygon points="674.68,521.28 674.68,515.37 668.64,512.42 662.59,515.37 662.59,521.28 668.64,524.23" fill="#000004" stroke="#000004"/>
<polygon points="674.68,503.55 674.68,497.65 668.64,494.69 662.59,497.65 662.59,503.55 668.64,506.51" fill="#000004" stroke="#000004"/>
<polygon points="674.68,485.83 674.68,479.92 668.64,476.97 662.59,479.92 662.59,485.83 668.64,488.78" fill="#000004" stroke="#000004"/>
<polygon points="674.68,468.10 674.68,462.20 668.64,459.24 662.59,462.20 662.59,468.10 668.64,471.06" fill="#000004" stroke="#000004"/>
<polygon points="674.68,450.38 674.68,444.47 668.64,441.52 662.59,444.47 662.59,450.38 668.64,453.33" fill="#000004" stroke="#000004"/>
<polygon points="674.68,432.65 674.68,426.75 668.64,423.79 662.59,426.75 662.59,432.65 668.64,435.61" fill="#000004" stroke="#000004"/>
<polygon points="674.68,414.93 674.68,409.02 668.64,406.07 662.59,409.02 662.59,414.93 668.64,417.88" fill="#000004" stroke="#000004"/>
<polygon points="674.68,397.20 674.68,391.30 668.64,388.34 662.59,391.30 662.59,397.20 668.64,400.16" fill="#000004" stroke="#000004"/>
<polygon points="674.68,379.48 674.68,373.57 668.64,370.62 662.59,373.57 662.59,379.48 668.64,382.43" fill="#000004" stroke="#000004"/>
<polygon points="686.78,539.00 686.78,533.10 680.73,530.14 674.68,533.10 674.68,539.00 680.73,541.96" fill="#000004" stroke="#000004"/>
<polygon points="686.78,521.28 686.78,515.37 680.73,512.42 674.68,515.37 674.68,521.28 680.73,524.23" fill="#000004" stroke="#000004"/>
<polygon points="686.78,503.55 686.78,497.65 680.73,494.69 674.68,497.65 674.68,503.55 680.73,506.51" fill="#000004" stroke="#000004"/>
<polygon points="686.78,485.83 686.78,479.92 680.73,476.97 674.68,479.92 674.68,485.83 680.73,488.78" fill="#000004" stroke="#000004"/>
<polygon points="686.78,468.10 686.78,462.20 680.73,459.24 674.68,462.20 674.68,468.10 680.73,471.06" fill="#000004" stroke="#000004"/>
<polygon points="686.78,450.38 686.78,444.47 680.73,441.52 674.68,444.47 674.68,450.38 680.73,453.33" fill="#000004" stroke="#000004"/>
<polygon points="686.78,432.65 686.78,426.75 680.73,423.79 674.68,426.75 674.68,432.65 680.73,435.61" fill="#000004" stroke="#000004"/>
<polygon points="686.78,414.93 686.78,409.02 680.73,406.07 674.68,409.02 674.68,414.93 680.73,417.88" fill="#000004" stroke="#000004"/>
<polygon points="698.87,539.00 698.87,533.10 692.82,530.14 686.78,533.10 686.78,539.00 692.82,541.96" fill="#000004" stroke="#000004"/>
<polygon points="698.87,521.28 698.87,515.37 692.82,512.42 686.78,515.37 686.78,521.28 692.82,524.23" fill="#000004" stroke="#000004"/>
<polygon points="698.87,503.55 698.87,497.65 692.82,494.69 686.78,497.65 686.78,503.55 692.82,506.51" fill="#000004" stroke="#000004"/>
<polygon points="698.87,485.83 698.87,479.92 692.82,476.97 686.78,479.92 686.78,485.83 692.82,488.78" fill="#000004" stroke="#000004"/>
<polygon points="698.87,468.10 698.87,462.20 692.82,459.24 686.78,462.20 686.78,468.10 692.82,471.06" fill="#000004" stroke="#000004"/>
<polygon points="698.87,450.38 698.87,444.47 692.82,441.52 686.78,444.47 686.78,450.38 692.82,453.33" fill="#000004" stroke="#000004"/>
<polygon points="698.87,414.93 698.87,409.02 692.82,406.07 686.78,409.02 686.78,414.93 692.82,417.88" fill="#000004" stroke="#000004"/>
<polygon points="710.97,556.73 710.97,550.82 704.92,547.87 698.87,550.82 698.87,556.73 704.92,559.68" fill="#000004" stroke="#000004"/>
<polygon points="710.97,539.00 710.97,533.10 704.92,530.14 698.87,533.10 698.87,539.00 704.92,541.96" fill="#000004" stroke="#000004"/>
<polygon points="710.97,521.28 710.97,515.37 704.92,512.42 698.87,515.37 698.87,521.28 704.92,524.23" fill="#000004" stroke="#000004"/>
<polygon points="710.97,503.55 710.97,497.65 704.92,494.69 698.87,497.65 698.87,503.55 704.92,506.51" fill="#000004" stroke="#000004"/>
<polygon points="710.97,485.83 710.97,479.92 704.92,476.97 698.87,479.92 698.87,485.83 704.92,488.78" fill="#000004" stroke="#000004"/>
<polygon points="710.97,468.10 710.97,462.20 704.92,459.24 698.87,462.20 698.87,468.10 704.92,471.06" fill="#000004" stroke="#000004"/>
<polygon points="723.06,556.73 723.06,550.82 717.01,547.87 710.96,550.82 710.96,556.73 717.01,559.68" fill="#000004" stroke="#000004"/>
<polygon points="723.06,539.00 723.06,533.10 717.01,530.14 710.96,533.10 710.96,539.00 717.01,541.96" fill="#000004" stroke="#000004"/>
<polygon points="723.06,521.28 723.06,515.37 717.01,512.42 710.96,515.37 710.96,521.28 717.01,524.23" fill="#000004" stroke="#000004"/>
<polygon points="723.06,503.55 723.06,497.65 717.01,494.69 710.96,497.65 710.96,503.55 717.01,506.51" fill="#000004" stroke="#000004"/>
<polygon points="735.15,574.45 735.15,568.55 729.11,565.59 723.06,568.55 723.06,574.45 729.11,577.41" fill="#000004" stroke="#000004"/>
<polygon points="735.15,556.73 735.15,550.82 729.11,547.87 723.06,550.82 723.06,556.73 729.11,559.68" fill="#000004" stroke="#000004"/>
<polygon points="735.15,539.00 735.15,533.10 729.11,530.14 723.06,533.10 723.06,539.00 729.11,541.96" fill="#000004" stroke="#000004"/>
<polygon points="735.15,521.28 735.15,515.37 729.11,512.42 723.06,515.37 723.06,521.28 729.11,524.23" fill="#000004" stroke="#000004"/>
<polygon points="747.25,539.00 747.25,533.10 741.20,530.14 735.15,533.10 735.15,539.00 741.20,541.96" fill="#000004" stroke="#000004"/>
<polygon points="148.59,122.47 148.59,116.56 142.55,113.60 136.50,116.56 136.50,122.47 142.55,125.42" fill="#000004" stroke="#000004"/>
<polygon points="160.69,122.47 160.69,116.56 154.64,113.60 148.59,116.56 148.59,122.47 154.64,125.42" fill="#000004" stroke="#000004"/>
<polygon points="172.78,317.44 172.78,311.53 166.74,308.58 160.69,311.53 160.69,317.44 166.74,320.40" fill="#000004" stroke="#000004"/>
<polygon points="172.78,299.72 172.78,293.81 166.74,290.85 160.69,293.81 160.69,299.72 166.74,302.67" fill="#000004" stroke="#000004"/>
<polygon points="172.78,140.19 172.78,134.28 166.74,131.33 160.69,134.28 160.69,140.19 166.74,143.15" fill="#000004" stroke="#000004"/>
<polygon points="172.78,122.47 172.78,116.56 166.74,113.60 160.69,116.56 160.69,122.47 166.74,125.42" fill="#000004" stroke="#000004"/>
<polygon points="184.88,335.17 184.88,329.26 178.83,326.30 172.78,329.26 172.78,335.17 178.83,338.12" fill="#000004" stroke="#000004"/>
<polygon points="184.88,317.44 184.88,311.53 178.83,308.58 172.78,311.53 172.78,317.44 178.83,320.40" fill="#000004" stroke="#000004"/>
<polygon points="184.88,264.27 184.88,258.36 178.83,255.40 172.78,258.36 172.78,264.27 178.83,267.22" fill="#000004" stroke="#000004"/>
<polygon points="184.88,193.37 184.88,187.46 178.83,184.50 172.78,187.46 172.78,193.37 178.83,196.32" fill="#000004" stroke="#000004"/>
<polygon points="184.88,140.19 184.88,134.28 178.83,131.33 172.78,134.28 172.78,140.19 178.83,143.15" fill="#000004" stroke="#000004"/>
<polygon points="184.88,122.47 184.88,116.56 178.83,113.60 172.78,116.56 172.78,122.47 178.83,125.42" fill="#000004" stroke="#000004"/>
<polygon points="196.97,335.17 196.97,329.26 190.92,326.30 184.88,329.26 184.88,335.17 190.92,338.12" fill="#000004" stroke="#000004"/>
<polygon points="196.97,281.99 196.97,276.08 190.92,273.13 184.88,276.08 184.88,281.99 190.92,284.95" fill="#000004" stroke="#000004"/>
<polygon points="196.97,246.54 196.97,240.63 190.92,237.68 184.88,240.63 184.88,246.54 190.92,249.50" fill="#000004" stroke="#000004"/>
<polygon points="196.97,228.82 196.97,222.91 190.92,219.95 184.88,222.91 184.88,228.82 190.92,231.77" fill="#000004" stroke="#000004"/>
<polygon points="196.97,211.09 196.97,205.18 190.92,202.23 184.88,205.18 184.88,211.09 190.92,214.05" fill="#000004" stroke="#000004"/>
<polygon points="196.97,193.37 196.97,187.46 190.92,184.50 184.88,187.46 184.88,193.37 190.92,196.32" fill="#000004" stroke="#000004"/>
<polygon points="196.97,140.19 196.97,134.28 190.92,131.33 184.88,134.28 184.88,140.19 190.92,143.15" fill="#000004" stroke="#000004"/>
<polygon points="196.97,122.47 196.97,116.56 190.92,113.60 184.88,116.56 184.88,122.47 190.92,125.42" fill="#000004" stroke="#000004"/>
<polygon points="209.06,370.62 209.06,364.71 203.02,361.75 196.97,364.71 196.97,370.62 203.02,373.57" fill="#000004" stroke="#000004"/>
<polygon points="209.06,352.89 209.06,346.98 203.02,344.03 196.97,346.98 196.97,352.89 203.02,355.85" fill="#000004" stroke="#000004"/>
<polygon points="209.06,335.17 209.06,329.26 203.02,326.30 196.97,329.26 196.97,335.17 203.02,338.12" fill="#000004" stroke="#000004"/>
<polygon points="209.06,317.44 209.06,311.53 203.02,308.58 196.97,311.53 196.97,317.44 203.02,320.40" fill="#000004" stroke="#000004"/>
<polygon points="209.06,299.72 209.06,293.81 203.02,290.85 196.97,293.81 196.97,299.72 203.02,302.67" fill="#000004" stroke="#000004"/>
<polygon points="209.06,264.27 209.06,258.36 203.02,255.40 196.97,258.36 196.97,264.27 203.02,267.22" fill="#000004" stroke="#000004"/>
<polygon points="209.06,246.54 209.06,240.63 203.02,237.68 196.97,240.63 196.97,246.54 203.02,249.50" fill="#000004" stroke="#000004"/>
<polygon points="209.06,228.82 209.06,222.91 203.02,219.95 196.97,222.91 196.97,228.82 203.02,231.77" fill="#000004" stroke="#000004"/>
<polygon points="209.06,211.09 209.06,205.18 203.02,202.23 196.97,205.18 196.97,211.09 203.02,214.05" fill="#000004" stroke="#000004"/>
<polygon points="209.06,193.37 209.06,187.46 203.02,184.50 196.97,187.46 196.97,193.37 203.02,196.32" fill="#000004" stroke="#000004"/>
<polygon points="209.06,157.92 209.06,152.01 203.02,149.05 196.97,152.01 196.97,157.92 203.02,160.87" fill="#090720" stroke="#090720"/>
<polygon points="209.06,122.47 209.06,116.56 203.02,113.60 196.97,116.56 196.97,122.47 203.02,125.42" fill="#0c0926" stroke="#0c0926"/>
<polygon points="221.16,406.07 221.16,400.16 215.11,397.20 209.06,400.16 209.06,406.07 215.11,409.02" fill="#000004" stroke="#000004"/>
<polygon points="221.16,388.34 221.16,382.43 215.11,379.48 209.06,382.43 209.06,388.34 215.11,391.30" fill="#000004" stroke="#000004"/>
<polygon points="221.16,370.62 221.16,364.71 215.11,361.75 209.06,364.71 209.06,370.62 215.11,373.57" fill="#000004" stroke="#000004"/>
<polygon points="221.16,352.89 221.16,346.98 215.11,344.03 209.06,346.98 209.06,352.89 215.11,355.85" fill="#000004" stroke="#000004"/>
<polygon points="221.16,335.17 221.16,329.26 215.11,326.30 209.06,329.26 209.06,335.17 215.11,338.12" fill="#000004" stroke="#000004"/>
<polygon points="221.16,317.44 221.16,311.53 215.11,308.58 209.06,311.53 209.06,317.44 215.11,320.40" fill="#000004" stroke="#000004"/>
<polygon points="221.16,299.72 221.16,293.81 215.11,290.85 209.06,293.81 209.06,299.72 215.11,302.67" fill="#000004" stroke="#000004"/>
<polygon points="221.16,281.99 221.16,276.08 215.11,273.13 209.06,276.08 209.06,281.99 215.11,284.95" fill="#000004" stroke="#000004"/>
<polygon points="221.16,264.27 221.16,258.36 215.11,255.40 209.06,258.36 209.06,264.27 215.11,267.22" fill="#000004" stroke="#000004"/>
<polygon points="221.16,193.37 221.16,187.46 215.11,184.50 209.06,187.46 209.06,193.37 215.11,196.32" fill="#000004" stroke="#000004"/>
<polygon points="221.16,175.64 221.16,169.73 215.11,166.78 209.06,169.73 209.06,175.64 215.11,178.60" fill="#000004" stroke="#000004"/>
<polygon points="221.16,157.92 221.16,152.01 215.11,149.05 209.06,152.01 209.06,157.92 215.11,160.87" fill="#090720" stroke="#090720"/>
<polygon points="221.16,140.19 221.16,134.28 215.11,131.33 209.06,134.28 209.06,140.19 215.11,143.15" fill="#000004" stroke="#000004"/>
<polygon points="221.16,122.47 221.16,116.56 215.11,113.60 209.06,116.56 209.06,122.47 215.11,125.42" fill="#0c0926" stroke="#0c0926"/>
<polygon points="233.25,423.79 233.25,417.88 227.20,414.93 221.16,417.88 221.16,423.79 227.20,426.75" fill="#000004" stroke="#000004"/>
<polygon points="233.25,406.07 233.25,400.16 227.20,397.20 221.16,400.16 221.16,406.07 227.20,409.02" fill="#000004" stroke="#000004"/>
<polygon points="233.25,388.34 233.25,382.43 227.20,379.48 221.16,382.43 221.16,388.34 227.20,391.30" fill="#000004" stroke="#000004"/>
<polygon points="233.25,281.99 233.25,276.08 227.20,273.13 221.16,276.08 221.16,281.99 227.20,284.95" fill="#000004" stroke="#000004"/>
<polygon points="233.25,264.27 233.25,258.36 227.20,255.40 221.16,258.36 221.16,264.27 227.20,267.22" fill="#000004" stroke="#000004"/>
<polygon points="233.25,193.37 233.25,187.46 227.20,184.50 221.16,187.46 221.16,193.37 227.20,196.32" fill="#000004" stroke="#000004"/>
<polygon points="233.25,175.64 233.25,169.73 227.20,166.78 221.16,169.73 221.16,175.64 227.20,178.60" fill="#000004" stroke="#000004"/>
<polygon points="233.25,157.92 233.25,152.01 227.20,149.05 221.16,152.01 221.16,157.92 227.20,160.87" fill="#000004" stroke="#000004"/>
<polygon points="233.25,140.19 233.25,134.28 227.20,131.33 221.16,134.28 221.16,140.19 227.20,143.15" fill="#050416" stroke="#050416"/>
<polygon points="233.25,122.47 233.25,116.56 227.20,113.60 221.16,116.56 221.16,122.47 227.20,125.42" fill="#0c0926" stroke="#0c0926"/>
<polygon points="245.35,459.24 245.35,453.33 239.30,450.38 233.25,453.33 233.25,459.24 239.30,462.20" fill="#000004" stroke="#000004"/>
<polygon points="245.35,441.52 245.35,435.61 239.30,432.65 233.25,435.61 233.25,441.52 239.30,444.47" fill="#000004" stroke="#000004"/>
<polygon points="245.35,406.07 245.35,400.16 239.30,397.20 233.25,400.16 233.25,406.07 239.30,409.02" fill="#000004" stroke="#000004"/>
<polygon points="245.35,388.34 245.35,382.43 239.30,379.48 233.25,382.43 233.25,388.34 239.30,391.30" fill="#000004" stroke="#000004"/>
<polygon points="245.35,352.89 245.35,346.98 239.30,344.03 233.25,346.98 233.25,352.89 239.30,355.85" fill="#000004" stroke="#000004"/>
<polygon points="245.35,335.17 245.35,329.26 239.30,326.30 233.25,329.26 233.25,335.17 239.30,338.12" fill="#000004" stroke="#000004"/>
<polygon points="245.35,299.72 245.35,293.81 239.30,290.85 233.25,293.81 233.25,299.72 239.30,302.67" fill="#000004" stroke="#000004"/>
<polygon points="245.35,281.99 245.35,276.08 239.30,273.13 233.25,276.08 233.25,281.99 239.30,284.95" fill="#000004" stroke="#000004"/>
<polygon points="245.35,246.54 245.35,240.63 239.30,237.68 233.25,240.63 233.25,246.54 239.30,249.50" fill="#000004" stroke="#000004"/>
<polygon points="245.35,228.82 245.35,222.91 239.30,219.95 233.25,222.91 233.25,228.82 239.30,231.77" fill="#000004" stroke="#000004"/>
<polygon points="245.35,211.09 245.35,205.18 239.30,202.23 233.25,205.18 233.25,211.09 239.30,214.05" fill="#000004" stroke="#000004"/>
<polygon points="245.35,193.37 245.35,187.46 239.30,184.50 233.25,187.46 233.25,193.37 239.30,196.32" fill="#000004" stroke="#000004"/>
<polygon points="245.35,175.64 245.35,169.73 239.30,166.78 233.25,169.73 233.25,175.64 239.30,178.60" fill="#000004" stroke="#000004"/>
<polygon points="245.35,157.92 245.35,152.01 239.30,149.05 233.25,152.01 233.25,157.92 239.30,160.87" fill="#000004" stroke="#000004"/>
<polygon points="245.35,140.19 245.35,134.28 239.30,131.33 233.25,134.28 233.25,140.19 239.30,143.15" fill="#000004" stroke="#000004"/>
<polygon points="245.35,122.47 245.35,116.56 239.30,113.60 233.25,116.56 233.25,122.47 239.30,125.42" fill="#0c0926" stroke="#0c0926"/>
<polygon points="257.44,459.24 257.44,453.33 251.39,450.38 245.35,453.33 245.35,459.24 251.39,462.20" fill="#000004" stroke="#000004"/>
<polygon points="257.44,441.52 257.44,435.61 251.39,432.65 245.35,435.61 245.35,441.52 251.39,444.47" fill="#000004" stroke="#000004"/>
<polygon points="257.44,423.79 257.44,417.88 251.39,414.93 245.35,417.88 245.35,423.79 251.39,426.75" fill="#000004" stroke="#000004"/>
<polygon points="257.44,388.34 257.44,382.43 251.39,379.48 245.35,382.43 245.35,388.34 251.39,391.30" fill="#000004" stroke="#000004"/>
<polygon points="257.44,370.62 257.44,364.71 251.39,361.75 245.35,364.71 245.35,370.62 251.39,373.57" fill="#000004" stroke="#000004"/>
<polygon points="257.44,352.89 257.44,346.98 251.39,344.03 245.35,346.98 245.35,352.89 251.39,355.85" fill="#000004" stroke="#000004"/>
<polygon points="257.44,335.17 257.44,329.26 251.39,326.30 245.35,329.26 245.35,335.17 251.39,338.12" fill="#000004" stroke="#000004"/>
<polygon points="257.44,317.44 257.44,311.53 251.39,308.58 245.35,311.53 245.35,317.44 251.39,320.40" fill="#000004" stroke="#000004"/>
<polygon points="257.44,299.72 257.44,293.81 251.39,290.85 245.35,293.81 245.35,299.72 251.39,302.67" fill="#000004" stroke="#000004"/>
<polygon points="257.44,281.99 257.44,276.08 251.39,273.13 245.35,276.08 245.35,281.99 251.39,284.95" fill="#000004" stroke="#000004"/>
<polygon points="257.44,264.27 257.44,258.36 251.39,255.40 245.35,258.36 245.35,264.27 251.39,267.22" fill="#000004" stroke="#000004"/>
<polygon points="257.44,246.54 257.44,240.63 251.39,237.68 245.35,240.63 245.35,246.54 251.39,249.50" fill="#000004" stroke="#000004"/>
<polygon points="257.44,228.82 257.44,222.91 251.39,219.95 245.35,222.91 245.35,228.82 251.39,231.77" fill="#000004" stroke="#000004"/>
<polygon points="257.44,211.09 257.44,205.18 251.39,202.23 245.35,205.18 245.35,211.09 251.39,214.05" fill="#000004" stroke="#000004"/>
<polygon points="257.44,193.37 257.44,187.46 251.39,184.50 245.35,187.46 245.35,193.37 251.39,196.32" fill="#000004" stroke="#000004"/>
<polygon points="257.44,175.64 257.44,169.73 251.39,166.78 245.35,169.73 245.35,175.64 251.39,178.60" fill="#050416" stroke="#050416"/>
<polygon points="257.44,157.92 257.44,152.01 251.39,149.05 245.35,152.01 245.35,157.92 251.39,160.87" fill="#000004" stroke="#000004"/>
<polygon points="257.44,140.19 257.44,134.28 251.39,131.33 245.35,134.28 245.35,140.19 251.39,143.15" fill="#000004" stroke="#000004"/>
<polygon points="257.44,122.47 257.44,116.56 251.39,113.60 245.35,116.56 245.35,122.47 251.39,125.42" fill="#050416" stroke="#050416"/>
<polygon points="269.53,476.97 269.53,471.06 263.49,468.10 257.44,471.06 257.44,476.97 263.49,479.92" fill="#000004" stroke="#000004"/>
<polygon points="269.53,459.24 269.53,453.33 263.49,450.38 257.44,453.33 257.44,459.24 263.49,462.20" fill="#000004" stroke="#000004"/>
<polygon points="269.53,388.34 269.53,382.43 263.49,379.48 257.44,382.43 257.44,388.34 263.49,391.30" fill="#000004" stroke="#000004"/>
<polygon points="269.53,370.62 269.53,364.71 263.49,361.75 257.44,364.71 257.44,370.62 263.49,373.57" fill="#000004" stroke="#000004"/>
<polygon points="269.53,352.89 269.53,346.98 263.49,344.03 257.44,346.98 257.44,352.89 263.49,355.85" fill="#000004" stroke="#000004"/>
<polygon points="269.53,335.17 269.53,329.26 263.49,326.30 257.44,329.26 257.44,335.17 263.49,338.12" fill="#000004" stroke="#000004"/>
<polygon points="269.53,317.44 269.53,311.53 263.49,308.58 257.44,311.53 257.44,317.44 263.49,320.40" fill="#000004" stroke="#000004"/>
<polygon points="269.53,299.72 269.53,293.81 263.49,290.85 257.44,293.81 257.44,299.72 263.49,302.67" fill="#000004" stroke="#000004"/>
<polygon points="269.53,281.99 269.53,276.08 263.49,273.13 257.44,276.08 257.44,281.99 263.49,284.95" fill="#000004" stroke="#000004"/>
<polygon points="269.53,264.27 269.53,258.36 263.49,255.40 257.44,258.36 257.44,264.27 263.49,267.22" fill="#000004" stroke="#000004"/>
<polygon points="269.53,246.54 269.53,240.63 263.49,237.68 257.44,240.63 257.44,246.54 263.49,249.50" fill="#000004" stroke="#000004"/>
<polygon points="269.53,228.82 269.53,222.91 263.49,219.95 257.44,222.91 257.44,228.82 263.49,231.77" fill="#000004" stroke="#000004"/>
<polygon points="269.53,211.09 269.53,205.18 263.49,202.23 257.44,205.18 257.44,211.09 263.49,214.05" fill="#000004" stroke="#000004"/>
<polygon points="269.53,193.37 269.53,187.46 263.49,184.50 257.44,187.46 257.44,193.37 263.49,196.32" fill="#000004" stroke="#000004"/>
<polygon points="269.53,175.64 269.53,169.73 263.49,166.78 257.44,169.73 257.44,175.64 263.49,178.60" fill="#000004" stroke="#000004"/>
<polygon points="269.53,157.92 269.53,152.01 263.49,149.05 257.44,152.01 257.44,157.92 263.49,160.87" fill="#000004" stroke="#000004"/>
<polygon points="269.53,140.19 269.53,134.28 263.49,131.33 257.44,134.28 257.44,140.19 263.49,143.15" fill="#7e2482" stroke="#7e2482"/>
<polygon points="269.53,122.47 269.53,116.56 263.49,113.60 257.44,116.56 257.44,122.47 263.49,125.42" fill="#0c0926" stroke="#0c0926"/>
<polygon points="281.63,494.69 281.63,488.78 275.58,485.83 269.53,488.78 269.53,494.69 275.58,497.65" fill="#000004" stroke="#000004"/>
<polygon points="281.63,476.97 281.63,471.06 275.58,468.10 269.53,471.06 269.53,476.97 275.58,479.92" fill="#000004" stroke="#000004"/>
<polygon points="281.63,423.79 281.63,417.88 275.58,414.93 269.53,417.88 269.53,423.79 275.58,426.75" fill="#000004" stroke="#000004"/>
<polygon points="281.63,406.07 281.63,400.16 275.58,397.20 269.53,400.16 269.53,406.07 275.58,409.02" fill="#000004" stroke="#000004"/>
<polygon points="281.63,388.34 281.63,382.43 275.58,379.48 269.53,382.43 269.53,388.34 275.58,391.30" fill="#000004" stroke="#000004"/>
<polygon points="281.63,370.62 281.63,364.71 275.58,361.75 269.53,364.71 269.53,370.62 275.58,373.57" fill="#000004" stroke="#000004"/>
<polygon points="281.63,352.89 281.63,346.98 275.58,344.03 269.53,346.98 269.53,352.89 275.58,355.85" fill="#000004" stroke="#000004"/>
<polygon points="281.63,335.17 281.63,329.26 275.58,326.30 269.53,329.26 269.53,335.17 275.58,338.12" fill="#000004" stroke="#000004"/>
<polygon points="281.63,317.44 281.63,311.53 275.58,308.58 269.53,311.53 269.53,317.44 275.58,320.40" fill="#000004" stroke="#000004"/>
<polygon points="281.63,299.72 281.63,293.81 275.58,290.85 269.53,293.81 269.53,299.72 275.58,302.67" fill="#000004" stroke="#000004"/>
<polygon points="281.63,281.99 281.63,276.08 275.58,273.13 269.53,276.08 269.53,281.99 275.58,284.95" fill="#000004" stroke="#000004"/>
<polygon points="281.63,264.27 281.63,258.36 275.58,255.40 269.53,258.36 269.53,264.27 275.58,267.22" fill="#000004" stroke="#000004"/>
<polygon points="281.63,246.54 281.63,240.63 275.58,237.68 269.53,240.63 269.53,246.54 275.58,249.50" fill="#000004" stroke="#000004"/>
<polygon points="281.63,228.82 281.63,222.91 275.58,219.95 269.53,222.91 269.53,228.82 275.58,231.77" fill="#000004" stroke="#000004"/>
<polygon points="281.63,211.09 281.63,205.18 275.58,202.23 269.53,205.18 269.53,211.09 275.58,214.05" fill="#000004" stroke="#000004"/>
<polygon points="281.63,193.37 281.63,187.46 275.58,184.50 269.53,187.46 269.53,193.37 275.58,196.32" fill="#000004" stroke="#000004"/>
<polygon points="281.63,175.64 281.63,169.73 275.58,166.78 269.53,169.73 269.53,175.64 275.58,178.60" fill="#000004" stroke="#000004"/>
<polygon points="281.63,157.92 281.63,152.01 275.58,149.05 269.53,152.01 269.53,157.92 275.58,160.87" fill="#050416" stroke="#050416"/>
<polygon points="281.63,140.19 281.63,134.28 275.58,131.33 269.53,134.28 269.53,140.19 275.58,143.15" fill="#451077" stroke="#451077"/>
<polygon points="281.63,122.47 281.63,116.56 275.58,113.60 269.53,116.56 269.53,122.47 275.58,125.42" fill="#050416" stroke="#050416"/>
<polygon points="293.72,512.42 293.72,506.51 287.67,503.55 281.63,506.51 281.63,512.42 287.67,515.37" fill="#000004" stroke="#000004"/>
<polygon points="293.72,476.97 293.72,471.06 287.67,468.10 281.63,471.06 281.63,476.97 287.67,479.92" fill="#000004" stroke="#000004"/>
<polygon points="293.72,459.24 293.72,453.33 287.67,450.38 281.63,453.33 281.63,459.24 287.67,462.20" fill="#000004" stroke="#000004"/>
<polygon points="293.72,441.52 293.72,435.61 287.67,432.65 281.63,435.61 281.63,441.52 287.67,444.47" fill="#000004" stroke="#000004"/>
<polygon points="293.72,423.79 293.72,417.88 287.67,414.93 281.63,417.88 281.63,423.79 287.67,426.75" fill="#000004" stroke="#000004"/>
<polygon points="293.72,388.34 293.72,382.43 287.67,379.48 281.63,382.43 281.63,388.34 287.67,391.30" fill="#000004" stroke="#000004"/>
<polygon points="293.72,370.62 293.72,364.71 287.67,361.75 281.63,364.71 281.63,370.62 287.67,373.57" fill="#000004" stroke="#000004"/>
<polygon points="293.72,352.89 293.72,346.98 287.67,344.03 281.63,346.98 281.63,352.89 287.67,355.85" fill="#000004" stroke="#000004"/>
<polygon points="293.72,335.17 293.72,329.26 287.67,326.30 281.63,329.26 281.63,335.17 287.67,338.12" fill="#000004" stroke="#000004"/>
<polygon points="293.72,317.44 293.72,311.53 287.67,308.58 281.63,311.53 281.63,317.44 287.67,320.40" fill="#000004" stroke="#000004"/>
<polygon points="293.72,299.72 293.72,293.81 287.67,290.85 281.63,293.81 281.63,299.72 287.67,302.67" fill="#000004" stroke="#000004"/>
<polygon points="293.72,281.99 293.72,276.08 287.67,273.13 281.63,276.08 281.63,281.99 287.67,284.95" fill="#000004" stroke="#000004"/>
<polygon points="293.72,264.27 293.72,258.36 287.67,255.40 281.63,258.36 281.63,264.27 287.67,267.22" fill="#000004" stroke="#000004"/>
<polygon points="293.72,246.54 293.72,240.63 287.67,237.68 281.63,240.63 281.63,246.54 287.67,249.50" fill="#000004" stroke="#000004"/>
<polygon points="293.72,228.82 293.72,222.91 287.67,219.95 281.63,222.91 281.63,228.82 287.67,231.77" fill="#000004" stroke="#000004"/>
<polygon points="293.72,211.09 293.72,205.18 287.67,202.23 281.63,205.18 281.63,211.09 287.67,214.05" fill="#000004" stroke="#000004"/>
<polygon points="293.72,193.37 293.72,187.46 287.67,184.50 281.63,187.46 281.63,193.37 287.67,196.32" fill="#000004" stroke="#000004"/>
<polygon points="293.72,175.64 293.72,169.73 287.67,166.78 281.63,169.73 281.63,175.64 287.67,178.60" fill="#000004" stroke="#000004"/>
<polygon points="293.72,157.92 293.72,152.01 287.67,149.05 281.63,152.01 281.63,157.92 287.67,160.87" fill="#271258" stroke="#271258"/>
<polygon points="293.72,140.19 293.72,134.28 287.67,131.33 281.63,134.28 281.63,140.19 287.67,143.15" fill="#6b1d81" stroke="#6b1d81"/>
<polygon points="293.72,122.47 293.72,116.56 287.67,113.60 281.63,116.56 281.63,122.47 287.67,125.42" fill="#100b2d" stroke="#100b2d"/>
<polygon points="305.82,530.14 305.82,524.23 299.77,521.28 293.72,524.23 293.72,530.14 299.77,533.10" fill="#000004" stroke="#000004"/>
<polygon points="305.82,494.69 305.82,488.78 299.77,485.83 293.72,488.78 293.72,494.69 299.77,497.65" fill="#000004" stroke="#000004"/>
<polygon points="305.82,476.97 305.82,471.06 299.77,468.10 293.72,471.06 293.72,476.97 299.77,479.92" fill="#000004" stroke="#000004"/>
<polygon points="305.82,459.24 305.82,453.33 299.77,450.38 293.72,453.33 293.72,459.24 299.77,462.20" fill="#000004" stroke="#000004"/>
<polygon points="305.82,441.52 305.82,435.61 299.77,432.65 293.72,435.61 293.72,441.52 299.77,444.47" fill="#000004" stroke="#000004"/>
<polygon points="305.82,406.07 305.82,400.16 299.77,397.20 293.72,400.16 293.72,406.07 299.77,409.02" fill="#000004" stroke="#000004"/>
<polygon points="305.82,388.34 305.82,382.43 299.77,379.48 293.72,382.43 293.72,388.34 299.77,391.30" fill="#000004" stroke="#000004"/>
<polygon points="305.82,370.62 305.82,364.71 299.77,361.75 293.72,364.71 293.72,370.62 299.77,373.57" fill="#000004" stroke="#000004"/>
<polygon points="305.82,352.89 305.82,346.98 299.77,344.03 293.72,346.98 293.72,352.89 299.77,355.85" fill="#000004" stroke="#000004"/>
<polygon points="305.82,335.17 305.82,329.26 299.77,326.30 293.72,329.26 293.72,335.17 299.77,338.12" fill="#000004" stroke="#000004"/>
<polygon points="305.82,317.44 305.82,311.53 299.77,308.58 293.72,311.53 293.72,317.44 299.77,320.40" fill="#000004" stroke="#000004"/>
<polygon points="305.82,299.72 305.82,293.81 299.77,290.85 293.72,293.81 293.72,299.72 299.77,302.67" fill="#000004" stroke="#000004"/>
<polygon points="305.82,281.99 305.82,276.08 299.77,273.13 293.72,276.08 293.72,281.99 299.77,284.95" fill="#000004" stroke="#000004"/>
<polygon points="305.82,264.27 305.82,258.36 299.77,255.40 293.72,258.36 293.72,264.27 299.77,267.22" fill="#000004" stroke="#000004"/>
<polygon points="305.82,246.54 305.82,240.63 299.77,237.68 293.72,240.63 293.72,246.54 299.77,249.50" fill="#000004" stroke="#000004"/>
<polygon points="305.82,228.82 305.82,222.91 299.77,219.95 293.72,222.91 293.72,228.82 299.77,231.77" fill="#000004" stroke="#000004"/>
<polygon points="305.82,211.09 305.82,205.18 299.77,202.23 293.72,205.18 293.72,211.09 299.77,214.05" fill="#000004" stroke="#000004"/>
<polygon points="305.82,193.37 305.82,187.46 299.77,184.50 293.72,187.46 293.72,193.37 299.77,196.32" fill="#000004" stroke="#000004"/>
<polygon points="305.82,175.64 305.82,169.73 299.77,166.78 293.72,169.73 293.72,175.64 299.77,178.60" fill="#000004" stroke="#000004"/>
<polygon points="305.82,157.92 305.82,152.01 299.77,149.05 293.72,152.01 293.72,157.92 299.77,160.87" fill="#000004" stroke="#000004"/>
<polygon points="305.82,140.19 305.82,134.28 299.77,131.33 293.72,134.28 293.72,140.19 299.77,143.15" fill="#6b1d81" stroke="#6b1d81"/>
<polygon points="305.82,122.47 305.82,116.56 299.77,113.60 293.72,116.56 293.72,122.47 299.77,125.42" fill="#050416" stroke="#050416"/>
<polygon points="317.91,530.14 317.91,524.23 311.86,521.28 305.82,524.23 305.82,530.14 311.86,533.10" fill="#000004" stroke="#000004"/>
<polygon points="317.91,512.42 317.91,506.51 311.86,503.55 305.82,506.51 305.82,512.42 311.86,515.37" fill="#000004" stroke="#000004"/>
<polygon points="317.91,494.69 317.91,488.78 311.86,485.83 305.82,488.78 305.82,494.69 311.86,497.65" fill="#000004" stroke="#000004"/>
<polygon points="317.91,476.97 317.91,471.06 311.86,468.10 305.82,471.06 305.82,476.97 311.86,479.92" fill="#000004" stroke="#000004"/>
<polygon points="317.91,459.24 317.91,453.33 311.86,450.38 305.82,453.33 305.82,459.24 311.86,462.20" fill="#000004" stroke="#000004"/>
<polygon points="317.91,441.52 317.91,435.61 311.86,432.65 305.82,435.61 305.82,441.52 311.86,444.47" fill="#000004" stroke="#000004"/>
<polygon points="317.91,423.79 317.91,417.88 311.86,414.93 305.82,417.88 305.82,423.79 311.86,426.75" fill="#000004" stroke="#000004"/>
<polygon points="317.91,406.07 317.91,400.16 311.86,397.20 305.82,400.16 305.82,406.07 311.86,409.02" fill="#000004" stroke="#000004"/>
<polygon points="317.91,388.34 317.91,382.43 311.86,379.48 305.82,382.43 305.82,388.34 311.86,391.30" fill="#000004" stroke="#000004"/>
<polygon points="317.91,370.62 317.91,364.71 311.86,361.75 305.82,364.71 305.82,370.62 311.86,373.57" fill="#000004" stroke="#000004"/>
<polygon points="317.91,352.89 317.91,346.98 311.86,344.03 305.82,346.98 305.82,352.89 311.86,355.85" fill="#000004" stroke="#000004"/>
<polygon points="317.91,335.17 317.91,329.26 311.86,326.30 305.82,329.26 305.82,335.17 311.86,338.12" fill="#000004" stroke="#000004"/>
<polygon points="317.91,317.44 317.91,311.53 311.86,308.58 305.82,311.53 305.82,317.44 311.86,320.40" fill="#000004" stroke="#000004"/>
<polygon points="317.91,299.72 317.91,293.81 311.86,290.85 305.82,293.81 305.82,299.72 311.86,302.67" fill="#000004" stroke="#000004"/>
<polygon points="317.91,281.99 317.91,276.08 311.86,273.13 305.82,276.08 305.82,281.99 311.86,284.95" fill="#000004" stroke="#000004"/>
<polygon points="317.91,264.27 317.91,258.36 311.86,255.40 305.82,258.36 305.82,264.27 311.86,267.22" fill="#000004" stroke="#000004"/>
<polygon points="317.91,246.54 317.91,240.63 311.86,237.68 305.82,240.63 305.82,246.54 311.86,249.50" fill="#000004" stroke="#000004"/>
<polygon points="317.91,228.82 317.91,222.91 311.86,219.95 305.82,222.91 305.82,228.82 311.86,231.77" fill="#000004" stroke="#000004"/>
<polygon points="317.91,211.09 317.91,205.18 311.86,202.23 305.82,205.18 305.82,211.09 311.86,214.05" fill="#000004" stroke="#000004"/>
<polygon points="317.91,193.37 317.91,187.46 311.86,184.50 305.82,187.46 305.82,193.37 311.86,196.32" fill="#000004" stroke="#000004"/>
<polygon points="317.91,175.64 317.91,169.73 311.86,166.78 305.82,169.73 305.82,175.64 311.86,178.60" fill="#000004" stroke="#000004"/>
<polygon points="317.91,157.92 317.91,152.01 311.86,149.05 305.82,152.01 305.82,157.92 311.86,160.87" fill="#100b2d" stroke="#100b2d"/>
<polygon points="317.91,140.19 317.91,134.28 311.86,131.33 305.82,134.28 305.82,140.19 311.86,143.15" fill="#6b1d81" stroke="#6b1d81"/>
<polygon points="317.91,122.47 317.91,116.56 311.86,113.60 305.82,116.56 305.82,122.47 311.86,125.42" fill="#912b81" stroke="#912b81"/>
<polygon points="330.00,530.14 330.00,524.23 323.96,521.28 317.91,524.23 317.91,530.14 323.96,533.10" fill="#000004" stroke="#000004"/>
<polygon points="330.00,512.42 330.00,506.51 323.96,503.55 317.91,506.51 317.91,512.42 323.96,515.37" fill="#000004" stroke="#000004"/>
<polygon points="330.00,494.69 330.00,488.78 323.96,485.83 317.91,488.78 317.91,494.69 323.96,497.65" fill="#000004" stroke="#000004"/>
<polygon points="330.00,476.97 330.00,471.06 323.96,468.10 317.91,471.06 317.91,476.97 323.96,479.92" fill="#000004" stroke="#000004"/>
<polygon points="330.00,423.79 330.00,417.88 323.96,414.93 317.91,417.88 317.91,423.79 323.96,426.75" fill="#000004" stroke="#000004"/>
<polygon points="330.00,406.07 330.00,400.16 323.96,397.20 317.91,400.16 317.91,406.07 323.96,409.02" fill="#000004" stroke="#000004"/>
<polygon points="330.00,388.34 330.00,382.43 323.96,379.48 317.91,382.43 317.91,388.34 323.96,391.30" fill="#000004" stroke="#000004"/>
<polygon points="330.00,370.62 330.00,364.71 323.96,361.75 317.91,364.71 317.91,370.62 323.96,373.57" fill="#000004" stroke="#000004"/>
<polygon points="330.00,352.89 330.00,346.98 323.96,344.03 317.91,346.98 317.91,352.89 323.96,355.85" fill="#000004" stroke="#000004"/>
<polygon points="330.00,335.17 330.00,329.26 323.96,326.30 317.91,329.26 317.91,335.17 323.96,338.12" fill="#000004" stroke="#000004"/>
<polygon points="330.00,317.44 330.00,311.53 323.96,308.58 317.91,311.53 317.91,317.44 323.96,320.40" fill="#000004" stroke="#000004"/>
<polygon points="330.00,299.72 330.00,293.81 323.96,290.85 317.91,293.81 317.91,299.72 323.96,302.67" fill="#000004" stroke="#000004"/>
<polygon points="330.00,281.99 330.00,276.08 323.96,273.13 317.91,276.08 317.91,281.99 323.96,284.95" fill="#000004" stroke="#000004"/>
<polygon points="330.00,264.27 330.00,258.36 323.96,255.40 317.91,258.36 317.91,264.27 323.96,267.22" fill="#000004" stroke="#000004"/>
<polygon points="330.00,246.54 330.00,240.63 323.96,237.68 317.91,240.63 317.91,246.54 323.96,249.50" fill="#000004" stroke="#000004"/>
<polygon points="330.00,228.82 330.00,222.91 323.96,219.95 317.91,222.91 317.91,228.82 323.96,231.77" fill="#050416" stroke="#050416"/>
<polygon points="330.00,211.09 330.00,205.18 323.96,202.23 317.91,205.18 317.91,211.09 323.96,214.05" fill="#050416" stroke="#050416"/>
<polygon points="330.00,193.37 330.00,187.46 323.96,184.50 317.91,187.46 317.91,193.37 323.96,196.32" fill="#000004" stroke="#000004"/>
<polygon points="330.00,175.64 330.00,169.73 323.96,166.78 317.91,169.73 317.91,175.64 323.96,178.60" fill="#160f3b" stroke="#160f3b"/>
<polygon points="330.00,157.92 330.00,152.01 323.96,149.05 317.91,152.01 317.91,157.92 323.96,160.87" fill="#311165" stroke="#311165"/>
<polygon points="330.00,140.19 330.00,134.28 323.96,131.33 317.91,134.28 317.91,140.19 323.96,143.15" fill="#1e1149" stroke="#1e1149"/>
<polygon points="330.00,122.47 330.00,116.56 323.96,113.60 317.91,116.56 317.91,122.47 323.96,125.42" fill="#621980" stroke="#621980"/>
<polygon points="342.10,565.59 342.10,559.68 336.05,556.73 330.00,559.68 330.00,565.59 336.05,568.55" fill="#000004" stroke="#000004"/>
<polygon points="342.10,547.87 342.10,541.96 336.05,539.00 330.00,541.96 330.00,547.87 336.05,550.82" fill="#000004" stroke="#000004"/>
<polygon points="342.10,530.14 342.10,524.23 336.05,521.28 330.00,524.23 330.00,530.14 336.05,533.10" fill="#000004" stroke="#000004"/>
<polygon points="342.10,512.42 342.10,506.51 336.05,503.55 330.00,506.51 330.00,512.42 336.05,515.37" fill="#000004" stroke="#000004"/>
<polygon points="342.10,476.97 342.10,471.06 336.05,468.10 330.00,471.06 330.00,476.97 336.05,479.92" fill="#000004" stroke="#000004"/>
<polygon points="342.10,441.52 342.10,435.61 336.05,432.65 330.00,435.61 330.00,441.52 336.05,444.47" fill="#000004" stroke="#000004"/>
<polygon points="342.10,423.79 342.10,417.88 336.05,414.93 330.00,417.88 330.00,423.79 336.05,426.75" fill="#000004" stroke="#000004"/>
<polygon points="342.10,406.07 342.10,400.16 336.05,397.20 330.00,400.16 330.00,406.07 336.05,409.02" fill="#000004" stroke="#000004"/>
<polygon points="342.10,388.34 342.10,382.43 336.05,379.48 330.00,382.43 330.00,388.34 336.05,391.30" fill="#000004" stroke="#000004"/>
<polygon points="342.10,370.62 342.10,364.71 336.05,361.75 330.00,364.71 330.00,370.62 336.05,373.57" fill="#000004" stroke="#000004"/>
<polygon points="342.10,352.89 342.10,346.98 336.05,344.03 330.00,346.98 330.00,352.89 336.05,355.85" fill="#000004" stroke="#000004"/>
<polygon points="342.10,335.17 342.10,329.26 336.05,326.30 330.00,329.26 330.00,335.17 336.05,338.12" fill="#000004" stroke="#000004"/>
<polygon points="342.10,317.44 342.10,311.53 336.05,308.58 330.00,311.53 330.00,317.44 336.05,320.40" fill="#000004" stroke="#000004"/>
<polygon points="342.10,299.72 342.10,293.81 336.05,290.85 330.00,293.81 330.00,299.72 336.05,302.67" fill="#000004" stroke="#000004"/>
<polygon points="342.10,281.99 342.10,276.08 336.05,273.13 330.00,276.08 330.00,281.99 336.05,284.95" fill="#000004" stroke="#000004"/>
<polygon points="342.10,264.27 342.10,258.36 336.05,255.40 330.00,258.36 330.00,264.27 336.05,267.22" fill="#000004" stroke="#000004"/>
<polygon points="342.10,246.54 342.10,240.63 336.05,237.68 330.00,240.63 330.00,246.54 336.05,249.50" fill="#000004" stroke="#000004"/>
<polygon points="342.10,228.82 342.10,222.91 336.05,219.95 330.00,222.91 330.00,228.82 336.05,231.77" fill="#050416" stroke="#050416"/>
<polygon points="342.10,211.09 342.10,205.18 336.05,202.23 330.00,205.18 330.00,211.09 336.05,214.05" fill="#050416" stroke="#050416"/>
<polygon points="342.10,193.37 342.10,187.46 336.05,184.50 330.00,187.46 330.00,193.37 336.05,196.32" fill="#6b1d81" stroke="#6b1d81"/>
<polygon points="342.10,175.64 342.10,169.73 336.05,166.78 330.00,169.73 330.00,175.64 336.05,178.60" fill="#752181" stroke="#752181"/>
<polygon points="342.10,157.92 342.10,152.01 336.05,149.05 330.00,152.01 330.00,157.92 336.05,160.87" fill="#271258" stroke="#271258"/>
<polygon points="342.10,140.19 342.10,134.28 336.05,131.33 330.00,134.28 330.00,140.19 336.05,143.15" fill="#050416" stroke="#050416"/>
<polygon points="342.10,122.47 342.10,116.56 336.05,113.60 330.00,116.56 330.00,122.47 336.05,125.42" fill="#160f3b" stroke="#160f3b"/>
<polygon points="354.19,565.59 354.19,559.68 348.14,556.73 342.10,559.68 342.10,565.59 348.14,568.55" fill="#000004" stroke="#000004"/>
<polygon points="354.19,547.87 354.19,541.96 348.14,539.00 342.10,541.96 342.10,547.87 348.14,550.82" fill="#000004" stroke="#000004"/>
<polygon points="354.19,530.14 354.19,524.23 348.14,521.28 342.10,524.23 342.10,530.14 348.14,533.10" fill="#000004" stroke="#000004"/>
<polygon points="354.19,512.42 354.19,506.51 348.14,503.55 342.10,506.51 342.10,512.42 348.14,515.37" fill="#000004" stroke="#000004"/>
<polygon points="354.19,494.69 354.19,488.78 348.14,485.83 342.10,488.78 342.10,494.69 348.14,497.65" fill="#000004" stroke="#000004"/>
<polygon points="354.19,441.52 354.19,435.61 348.14,432.65 342.10,435.61 342.10,441.52 348.14,444.47" fill="#000004" stroke="#000004"/>
<polygon points="354.19,423.79 354.19,417.88 348.14,414.93 342.10,417.88 342.10,423.79 348.14,426.75" fill="#000004" stroke="#000004"/>
<polygon points="354.19,406.07 354.19,400.16 348.14,397.20 342.10,400.16 342.10,406.07 348.14,409.02" fill="#000004" stroke="#000004"/>
<polygon points="354.19,388.34 354.19,382.43 348.14,379.48 342.10,382.43 342.10,388.34 348.14,391.30" fill="#000004" stroke="#000004"/>
<polygon points="354.19,370.62 354.19,364.71 348.14,361.75 342.10,364.71 342.10,370.62 348.14,373.57" fill="#000004" stroke="#000004"/>
<polygon points="354.19,352.89 354.19,346.98 348.14,344.03 342.10,346.98 342.10,352.89 348.14,355.85" fill="#000004" stroke="#000004"/>
<polygon points="354.19,335.17 354.19,329.26 348.14,326.30 342.10,329.26 342.10,335.17 348.14,338.12" fill="#000004" stroke="#000004"/>
<polygon points="354.19,317.44 354.19,311.53 348.14,308.58 342.10,311.53 342.10,317.44 348.14,320.40" fill="#000004" stroke="#000004"/>
<polygon points="354.19,299.72 354.19,293.81 348.14,290.85 342.10,293.81 342.10,299.72 348.14,302.67" fill="#000004" stroke="#000004"/>
<polygon points="354.19,281.99 354.19,276.08 348.14,273.13 342.10,276.08 342.10,281.99 348.14,284.95" fill="#000004" stroke="#000004"/>
<polygon points="354.19,264.27 354.19,258.36 348.14,255.40 342.10,258.36 342.10,264.27 348.14,267.22" fill="#000004" stroke="#000004"/>
<polygon points="354.19,246.54 354.19,240.63 348.14,237.68 342.10,240.63 342.10,246.54 348.14,249.50" fill="#000004" stroke="#000004"/>
<polygon points="354.19,228.82 354.19,222.91 348.14,219.95 342.10,222.91 342.10,228.82 348.14,231.77" fill="#271258" stroke="#271258"/>
<polygon points="354.19,211.09 354.19,205.18 348.14,202.23 342.10,205.18 342.10,211.09 348.14,214.05" fill="#050416" stroke="#050416"/>
<polygon points="354.19,193.37 354.19,187.46 348.14,184.50 342.10,187.46 342.10,193.37 348.14,196.32" fill="#271258" stroke="#271258"/>
<polygon points="354.19,175.64 354.19,169.73 348.14,166.78 342.10,169.73 342.10,175.64 348.14,178.60" fill="#3b0f70" stroke="#3b0f70"/>
<polygon points="354.19,157.92 354.19,152.01 348.14,149.05 342.10,152.01 342.10,157.92 348.14,160.87" fill="#1e1149" stroke="#1e1149"/>
<polygon points="354.19,140.19 354.19,134.28 348.14,131.33 342.10,134.28 342.10,140.19 348.14,143.15" fill="#1e1149" stroke="#1e1149"/>
<polygon points="354.19,122.47 354.19,116.56 348.14,113.60 342.10,116.56 342.10,122.47 348.14,125.42" fill="#b3367a" stroke="#b3367a"/>
<polygon points="366.29,565.59 366.29,559.68 360.24,556.73 354.19,559.68 354.19,565.59 360.24,568.55" fill="#000004" stroke="#000004"/>
<polygon points="366.29,547.87 366.29,541.96 360.24,539.00 354.19,541.96 354.19,547.87 360.24,550.82" fill="#000004" stroke="#000004"/>
<polygon points="366.29,512.42 366.29,506.51 360.24,503.55 354.19,506.51 354.19,512.42 360.24,515.37" fill="#000004" stroke="#000004"/>
<polygon points="366.29,459.24 366.29,453.33 360.24,450.38 354.19,453.33 354.19,459.24 360.24,462.20" fill="#000004" stroke="#000004"/>
<polygon points="366.29,441.52 366.29,435.61 360.24,432.65 354.19,435.61 354.19,441.52 360.24,444.47" fill="#000004" stroke="#000004"/>
<polygon points="366.29,423.79 366.29,417.88 360.24,414.93 354.19,417.88 354.19,423.79 360.24,426.75" fill="#000004" stroke="#000004"/>
<polygon points="366.29,406.07 366.29,400.16 360.24,397.20 354.19,400.16 354.19,406.07 360.24,409.02" fill="#000004" stroke="#000004"/>
<polygon points="366.29,388.34 366.29,382.43 360.24,379.48 354.19,382.43 354.19,388.34 360.24,391.30" fill="#000004" stroke="#000004"/>
<polygon points="366.29,370.62 366.29,364.71 360.24,361.75 354.19,364.71 354.19,370.62 360.24,373.57" fill="#000004" stroke="#000004"/>
<polygon points="366.29,352.89 366.29,346.98 360.24,344.03 354.19,346.98 354.19,352.89 360.24,355.85" fill="#000004" stroke="#000004"/>
<polygon points="366.29,335.17 366.29,329.26 360.24,326.30 354.19,329.26 354.19,335.17 360.24,338.12" fill="#000004" stroke="#000004"/>
<polygon points="366.29,317.44 366.29,311.53 360.24,308.58 354.19,311.53 354.19,317.44 360.24,320.40" fill="#000004" stroke="#000004"/>
<polygon points="366.29,299.72 366.29,293.81 360.24,290.85 354.19,293.81 354.19,299.72 360.24,302.67" fill="#000004" stroke="#000004"/>
<polygon points="366.29,281.99 366.29,276.08 360.24,273.13 354.19,276.08 354.19,281.99 360.24,284.95" fill="#000004" stroke="#000004"/>
<polygon points="366.29,264.27 366.29,258.36 360.24,255.40 354.19,258.36 354.19,264.27 360.24,267.22" fill="#000004" stroke="#000004"/>
<polygon points="366.29,246.54 366.29,240.63 360.24,237.68 354.19,240.63 354.19,246.54 360.24,249.50" fill="#000004" stroke="#000004"/>
<polygon points="366.29,228.82 366.29,222.91 360.24,219.95 354.19,222.91 354.19,228.82 360.24,231.77" fill="#000004" stroke="#000004"/>
<polygon points="366.29,211.09 366.29,205.18 360.24,202.23 354.19,205.18 354.19,211.09 360.24,214.05" fill="#050416" stroke="#050416"/>
<polygon points="366.29,193.37 366.29,187.46 360.24,184.50 354.19,187.46 354.19,193.37 360.24,196.32" fill="#160f3b" stroke="#160f3b"/>
<polygon points="366.29,175.64 366.29,169.73 360.24,166.78 354.19,169.73 354.19,175.64 360.24,178.60" fill="#090720" stroke="#090720"/>
<polygon points="366.29,157.92 366.29,152.01 360.24,149.05 354.19,152.01 354.19,157.92 360.24,160.87" fill="#160f3b" stroke="#160f3b"/>
<polygon points="366.29,140.19 366.29,134.28 360.24,131.33 354.19,134.28 354.19,140.19 360.24,143.15" fill="#311165" stroke="#311165"/>
<polygon points="366.29,122.47 366.29,116.56 360.24,113.60 354.19,116.56 354.19,122.47 360.24,125.42" fill="#7e2482" stroke="#7e2482"/>
<polygon points="378.38,512.42 378.38,506.51 372.33,503.55 366.29,506.51 366.29,512.42 372.33,515.37" fill="#000004" stroke="#000004"/>
<polygon points="378.38,459.24 378.38,453.33 372.33,450.38 366.29,453.33 366.29,459.24 372.33,462.20" fill="#000004" stroke="#000004"/>
<polygon points="378.38,441.52 378.38,435.61 372.33,432.65 366.29,435.61 366.29,441.52 372.33,444.47" fill="#000004" stroke="#000004"/>
<polygon points="378.38,423.79 378.38,417.88 372.33,414.93 366.29,417.88 366.29,423.79 372.33,426.75" fill="#000004" stroke="#000004"/>
<polygon points="378.38,406.07 378.38,400.16 372.33,397.20 366.29,400.16 366.29,406.07 372.33,409.02" fill="#000004" stroke="#000004"/>
<polygon points="378.38,388.34 378.38,382.43 372.33,379.48 366.29,382.43 366.29,388.34 372.33,391.30" fill="#000004" stroke="#000004"/>
<polygon points="378.38,370.62 378.38,364.71 372.33,361.75 366.29,364.71 366.29,370.62 372.33,373.57" fill="#000004" stroke="#000004"/>
<polygon points="378.38,352.89 378.38,346.98 372.33,344.03 366.29,346.98 366.29,352.89 372.33,355.85" fill="#000004" stroke="#000004"/>
<polygon points="378.38,335.17 378.38,329.26 372.33,326.30 366.29,329.26 366.29,335.17 372.33,338.12" fill="#000004" stroke="#000004"/>
<polygon points="378.38,317.44 378.38,311.53 372.33,308.58 366.29,311.53 366.29,317.44 372.33,320.40" fill="#000004" stroke="#000004"/>
<polygon points="378.38,299.72 378.38,293.81 372.33,290.85 366.29,293.81 366.29,299.72 372.33,302.67" fill="#000004" stroke="#000004"/>
<polygon points="378.38,281.99 378.38,276.08 372.33,273.13 366.29,276.08 366.29,281.99 372.33,284.95" fill="#000004" stroke="#000004"/>
<polygon points="378.38,264.27 378.38,258.36 372.33,255.40 366.29,258.36 366.29,264.27 372.33,267.22" fill="#000004" stroke="#000004"/>
<polygon points="378.38,246.54 378.38,240.63 372.33,237.68 366.29,240.63 366.29,246.54 372.33,249.50" fill="#000004" stroke="#000004"/>
<polygon points="378.38,228.82 378.38,222.91 372.33,219.95 366.29,222.91 366.29,228.82 372.33,231.77" fill="#000004" stroke="#000004"/>
<polygon points="378.38,211.09 378.38,205.18 372.33,202.23 366.29,205.18 366.29,211.09 372.33,214.05" fill="#050416" stroke="#050416"/>
<polygon points="378.38,193.37 378.38,187.46 372.33,184.50 366.29,187.46 366.29,193.37 372.33,196.32" fill="#000004" stroke="#000004"/>
<polygon points="378.38,175.64 378.38,169.73 372.33,166.78 366.29,169.73 366.29,175.64 372.33,178.60" fill="#090720" stroke="#090720"/>
<polygon points="378.38,157.92 378.38,152.01 372.33,149.05 366.29,152.01 366.29,157.92 372.33,160.87" fill="#050416" stroke="#050416"/>
<polygon points="378.38,140.19 378.38,134.28 372.33,131.33 366.29,134.28 366.29,140.19 372.33,143.15" fill="#271258" stroke="#271258"/>
<polygon points="378.38,122.47 378.38,116.56 372.33,113.60 366.29,116.56 366.29,122.47 372.33,125.42" fill="#fd9467" stroke="#fd9467"/>
<polygon points="390.47,530.14 390.47,524.23 384.43,521.28 378.38,524.23 378.38,530.14 384.43,533.10" fill="#000004" stroke="#000004"/>
<polygon points="390.47,512.42 390.47,506.51 384.43,503.55 378.38,506.51 378.38,512.42 384.43,515.37" fill="#000004" stroke="#000004"/>
<polygon points="390.47,476.97 390.47,471.06 384.43,468.10 378.38,471.06 378.38,476.97 384.43,479.92" fill="#000004" stroke="#000004"/>
<polygon points="390.47,459.24 390.47,453.33 384.43,450.38 378.38,453.33 378.38,459.24 384.43,462.20" fill="#000004" stroke="#000004"/>
<polygon points="390.47,441.52 390.47,435.61 384.43,432.65 378.38,435.61 378.38,441.52 384.43,444.47" fill="#000004" stroke="#000004"/>
<polygon points="390.47,423.79 390.47,417.88 384.43,414.93 378.38,417.88 378.38,423.79 384.43,426.75" fill="#000004" stroke="#000004"/>
<polygon points="390.47,406.07 390.47,400.16 384.43,397.20 378.38,400.16 378.38,406.07 384.43,409.02" fill="#000004" stroke="#000004"/>
<polygon points="390.47,388.34 390.47,382.43 384.43,379.48 378.38,382.43 378.38,388.34 384.43,391.30" fill="#000004" stroke="#000004"/>
<polygon points="390.47,370.62 390.47,364.71 384.43,361.75 378.38,364.71 378.38,370.62 384.43,373.57" fill="#000004" stroke="#000004"/>
<polygon points="390.47,352.89 390.47,346.98 384.43,344.03 378.38,346.98 378.38,352.89 384.43,355.85" fill="#000004" stroke="#000004"/>
<polygon points="390.47,335.17 390.47,329.26 384.43,326.30 378.38,329.26 378.38,335.17 384.43,338.12" fill="#000004" stroke="#000004"/>
<polygon points="390.47,317.44 390.47,311.53 384.43,308.58 378.38,311.53 378.38,317.44 384.43,320.40" fill="#000004" stroke="#000004"/>
<polygon points="390.47,299.72 390.47,293.81 384.43,290.85 378.38,293.81 378.38,299.72 384.43,302.67" fill="#000004" stroke="#000004"/>
<polygon points="390.47,281.99 390.47,276.08 384.43,273.13 378.38,276.08 378.38,281.99 384.43,284.95" fill="#000004" stroke="#000004"/>
<polygon points="390.47,264.27 390.47,258.36 384.43,255.40 378.38,258.36 378.38,264.27 384.43,267.22" fill="#000004" stroke="#000004"/>
<polygon points="390.47,246.54 390.47,240.63 384.43,237.68 378.38,240.63 378.38,246.54 384.43,249.50" fill="#000004" stroke="#000004"/>
<polygon points="390.47,228.82 390.47,222.91 384.43,219.95 378.38,222.91 378.38,228.82 384.43,231.77" fill="#000004" stroke="#000004"/>
<polygon points="390.47,211.09 390.47,205.18 384.43,202.23 378.38,205.18 378.38,211.09 384.43,214.05" fill="#050416" stroke="#050416"/>
<polygon points="390.47,193.37 390.47,187.46 384.43,184.50 378.38,187.46 378.38,193.37 384.43,196.32" fill="#000004" stroke="#000004"/>
<polygon points="390.47,175.64 390.47,169.73 384.43,166.78 378.38,169.73 378.38,175.64 384.43,178.60" fill="#160f3b" stroke="#160f3b"/>
<polygon points="390.47,157.92 390.47,152.01 384.43,149.05 378.38,152.01 378.38,157.92 384.43,160.87" fill="#271258" stroke="#271258"/>
<polygon points="390.47,140.19 390.47,134.28 384.43,131.33 378.38,134.28 378.38,140.19 384.43,143.15" fill="#912b81" stroke="#912b81"/>
<polygon points="390.47,122.47 390.47,116.56 384.43,113.60 378.38,116.56 378.38,122.47 384.43,125.42" fill="#feaa74" stroke="#feaa74"/>
<polygon points="402.57,530.14 402.57,524.23 396.52,521.28 390.47,524.23 390.47,530.14 396.52,533.10" fill="#000004" stroke="#000004"/>
<polygon points="402.57,494.69 402.57,488.78 396.52,485.83 390.47,488.78 390.47,494.69 396.52,497.65" fill="#000004" stroke="#000004"/>
<polygon points="402.57,476.97 402.57,471.06 396.52,468.10 390.47,471.06 390.47,476.97 396.52,479.92" fill="#000004" stroke="#000004"/>
<polygon points="402.57,459.24 402.57,453.33 396.52,450.38 390.47,453.33 390.47,459.24 396.52,462.20" fill="#000004" stroke="#000004"/>
<polygon points="402.57,441.52 402.57,435.61 396.52,432.65 390.47,435.61 390.47,441.52 396.52,444.47" fill="#000004" stroke="#000004"/>
<polygon points="402.57,423.79 402.57,417.88 396.52,414.93 390.47,417.88 390.47,423.79 396.52,426.75" fill="#000004" stroke="#000004"/>
<polygon points="402.57,406.07 402.57,400.16 396.52,397.20 390.47,400.16 390.47,406.07 396.52,409.02" fill="#000004" stroke="#000004"/>
<polygon points="402.57,388.34 402.57,382.43 396.52,379.48 390.47,382.43 390.47,388.34 396.52,391.30" fill="#000004" stroke="#000004"/>
<polygon points="402.57,370.62 402.57,364.71 396.52,361.75 390.47,364.71 390.47,370.62 396.52,373.57" fill="#000004" stroke="#000004"/>
<polygon points="402.57,352.89 402.57,346.98 396.52,344.03 390.47,346.98 390.47,352.89 396.52,355.85" fill="#000004" stroke="#000004"/>
<polygon points="402.57,335.17 402.57,329.26 396.52,326.30 390.47,329.26 390.47,335.17 396.52,338.12" fill="#000004" stroke="#000004"/>
<polygon points="402.57,317.44 402.57,311.53 396.52,308.58 390.47,311.53 390.47,317.44 396.52,320.40" fill="#000004" stroke="#000004"/>
<polygon points="402.57,299.72 402.57,293.81 396.52,290.85 390.47,293.81 390.47,299.72 396.52,302.67" fill="#000004" stroke="#000004"/>
<polygon points="402.57,281.99 402.57,276.08 396.52,273.13 390.47,276.08 390.47,281.99 396.52,284.95" fill="#59157e" stroke="#59157e"/>
<polygon points="402.57,264.27 402.57,258.36 396.52,255.40 390.47,258.36 390.47,264.27 396.52,267.22" fill="#59157e" stroke="#59157e"/>
<polygon points="402.57,246.54 402.57,240.63 396.52,237.68 390.47,240.63 390.47,246.54 396.52,249.50" fill="#000004" stroke="#000004"/>
<polygon points="402.57,228.82 402.57,222.91 396.52,219.95 390.47,222.91 390.47,228.82 396.52,231.77" fill="#000004" stroke="#000004"/>
<polygon points="402.57,211.09 402.57,205.18 396.52,202.23 390.47,205.18 390.47,211.09 396.52,214.05" fill="#000004" stroke="#000004"/>
<polygon points="402.57,193.37 402.57,187.46 396.52,184.50 390.47,187.46 390.47,193.37 396.52,196.32" fill="#000004" stroke="#000004"/>
<polygon points="402.57,175.64 402.57,169.73 396.52,166.78 390.47,169.73 390.47,175.64 396.52,178.60" fill="#050416" stroke="#050416"/>
<polygon points="402.57,157.92 402.57,152.01 396.52,149.05 390.47,152.01 390.47,157.92 396.52,160.87" fill="#6b1d81" stroke="#6b1d81"/>
<polygon points="402.57,140.19 402.57,134.28 396.52,131.33 390.47,134.28 390.47,140.19 396.52,143.15" fill="#882781" stroke="#882781"/>
<polygon points="402.57,122.47 402.57,116.56 396.52,113.60 390.47,116.56 390.47,122.47 396.52,125.42" fill="#fa7d5e" stroke="#fa7d5e"/>
<polygon points="414.66,512.42 414.66,506.51 408.62,503.55 402.57,506.51 402.57,512.42 408.62,515.37" fill="#000004" stroke="#000004"/>
<polygon points="414.66,494.69 414.66,488.78 408.62,485.83 402.57,488.78 402.57,494.69 408.62,497.65" fill="#000004" stroke="#000004"/>
<polygon points="414.66,476.97 414.66,471.06 408.62,468.10 402.57,471.06 402.57,476.97 408.62,479.92" fill="#000004" stroke="#000004"/>
<polygon points="414.66,459.24 414.66,453.33 408.62,450.38 402.57,453.33 402.57,459.24 408.62,462.20" fill="#000004" stroke="#000004"/>
<polygon points="414.66,441.52 414.66,435.61 408.62,432.65 402.57,435.61 402.57,441.52 408.62,444.47" fill="#000004" stroke="#000004"/>
<polygon points="414.66,423.79 414.66,417.88 408.62,414.93 402.57,417.88 402.57,423.79 408.62,426.75" fill="#000004" stroke="#000004"/>
<polygon points="414.66,406.07 414.66,400.16 408.62,397.20 402.57,400.16 402.57,406.07 408.62,409.02" fill="#000004" stroke="#000004"/>
<polygon points="414.66,388.34 414.66,382.43 408.62,379.48 402.57,382.43 402.57,388.34 408.62,391.30" fill="#000004" stroke="#000004"/>
<polygon points="414.66,370.62 414.66,364.71 408.62,361.75 402.57,364.71 402.57,370.62 408.62,373.57" fill="#000004" stroke="#000004"/>
<polygon points="414.66,352.89 414.66,346.98 408.62,344.03 402.57,346.98 402.57,352.89 408.62,355.85" fill="#000004" stroke="#000004"/>
<polygon points="414.66,335.17 414.66,329.26 408.62,326.30 402.57,329.26 402.57,335.17 408.62,338.12" fill="#000004" stroke="#000004"/>
<polygon points="414.66,317.44 414.66,311.53 408.62,308.58 402.57,311.53 402.57,317.44 408.62,320.40" fill="#000004" stroke="#000004"/>
<polygon points="414.66,299.72 414.66,293.81 408.62,290.85 402.57,293.81 402.57,299.72 408.62,302.67" fill="#000004" stroke="#000004"/>
<polygon points="414.66,281.99 414.66,276.08 408.62,273.13 402.57,276.08 402.57,281.99 408.62,284.95" fill="#090720" stroke="#090720"/>
<polygon points="414.66,264.27 414.66,258.36 408.62,255.40 402.57,258.36 402.57,264.27 408.62,267.22" fill="#000004" stroke="#000004"/>
<polygon points="414.66,246.54 414.66,240.63 408.62,237.68 402.57,240.63 402.57,246.54 408.62,249.50" fill="#000004" stroke="#000004"/>
<polygon points="414.66,228.82 414.66,222.91 408.62,219.95 402.57,222.91 402.57,228.82 408.62,231.77" fill="#090720" stroke="#090720"/>
<polygon points="414.66,211.09 414.66,205.18 408.62,202.23 402.57,205.18 402.57,211.09 408.62,214.05" fill="#090720" stroke="#090720"/>
<polygon points="414.66,193.37 414.66,187.46 408.62,184.50 402.57,187.46 402.57,193.37 408.62,196.32" fill="#160f3b" stroke="#160f3b"/>
<polygon points="414.66,175.64 414.66,169.73 408.62,166.78 402.57,169.73 402.57,175.64 408.62,178.60" fill="#271258" stroke="#271258"/>
<polygon points="414.66,157.92 414.66,152.01 408.62,149.05 402.57,152.01 402.57,157.92 408.62,160.87" fill="#6b1d81" stroke="#6b1d81"/>
<polygon points="414.66,140.19 414.66,134.28 408.62,131.33 402.57,134.28 402.57,140.19 408.62,143.15" fill="#feaa74" stroke="#feaa74"/>
<polygon points="414.66,122.47 414.66,116.56 408.62,113.60 402.57,116.56 402.57,122.47 408.62,125.42" fill="#621980" stroke="#621980"/>
<polygon points="426.76,512.42 426.76,506.51 420.71,503.55 414.66,506.51 414.66,512.42 420.71,515.37" fill="#000004" stroke="#000004"/>
<polygon points="426.76,494.69 426.76,488.78 420.71,485.83 414.66,488.78 414.66,494.69 420.71,497.65" fill="#000004" stroke="#000004"/>
<polygon points="426.76,476.97 426.76,471.06 420.71,468.10 414.66,471.06 414.66,476.97 420.71,479.92" fill="#000004" stroke="#000004"/>
<polygon points="426.76,459.24 426.76,453.33 420.71,450.38 414.66,453.33 414.66,459.24 420.71,462.20" fill="#000004" stroke="#000004"/>
<polygon points="426.76,441.52 426.76,435.61 420.71,432.65 414.66,435.61 414.66,441.52 420.71,444.47" fill="#000004" stroke="#000004"/>
<polygon points="426.76,423.79 426.76,417.88 420.71,414.93 414.66,417.88 414.66,423.79 420.71,426.75" fill="#000004" stroke="#000004"/>
<polygon points="426.76,406.07 426.76,400.16 420.71,397.20 414.66,400.16 414.66,406.07 420.71,409.02" fill="#000004" stroke="#000004"/>
<polygon points="426.76,388.34 426.76,382.43 420.71,379.48 414.66,382.43 414.66,388.34 420.71,391.30" fill="#000004" stroke="#000004"/>
<polygon points="426.76,370.62 426.76,364.71 420.71,361.75 414.66,364.71 414.66,370.62 420.71,373.57" fill="#000004" stroke="#000004"/>
<polygon points="426.76,352.89 426.76,346.98 420.71,344.03 414.66,346.98 414.66,352.89 420.71,355.85" fill="#000004" stroke="#000004"/>
<polygon points="426.76,335.17 426.76,329.26 420.71,326.30 414.66,329.26 414.66,335.17 420.71,338.12" fill="#02020d" stroke="#02020d"/>
<polygon points="426.76,317.44 426.76,311.53 420.71,308.58 414.66,311.53 414.66,317.44 420.71,320.40" fill="#000004" stroke="#000004"/>
<polygon points="426.76,299.72 426.76,293.81 420.71,290.85 414.66,293.81 414.66,299.72 420.71,302.67" fill="#000004" stroke="#000004"/>
<polygon points="426.76,281.99 426.76,276.08 420.71,273.13 414.66,276.08 414.66,281.99 420.71,284.95" fill="#000004" stroke="#000004"/>
<polygon points="426.76,264.27 426.76,258.36 420.71,255.40 414.66,258.36 414.66,264.27 420.71,267.22" fill="#000004" stroke="#000004"/>
<polygon points="426.76,246.54 426.76,240.63 420.71,237.68 414.66,240.63 414.66,246.54 420.71,249.50" fill="#000004" stroke="#000004"/>
<polygon points="426.76,228.82 426.76,222.91 420.71,219.95 414.66,222.91 414.66,228.82 420.71,231.77" fill="#000004" stroke="#000004"/>
<polygon points="426.76,211.09 426.76,205.18 420.71,202.23 414.66,205.18 414.66,211.09 420.71,214.05" fill="#000004" stroke="#000004"/>
<polygon points="426.76,193.37 426.76,187.46 420.71,184.50 414.66,187.46 414.66,193.37 420.71,196.32" fill="#090720" stroke="#090720"/>
<polygon points="426.76,175.64 426.76,169.73 420.71,166.78 414.66,169.73 414.66,175.64 420.71,178.60" fill="#271258" stroke="#271258"/>
<polygon points="426.76,157.92 426.76,152.01 420.71,149.05 414.66,152.01 414.66,157.92 420.71,160.87" fill="#090720" stroke="#090720"/>
<polygon points="426.76,140.19 426.76,134.28 420.71,131.33 414.66,134.28 414.66,140.19 420.71,143.15" fill="#fed799" stroke="#fed799"/>
<polygon points="426.76,122.47 426.76,116.56 420.71,113.60 414.66,116.56 414.66,122.47 420.71,125.42" fill="#b3367a" stroke="#b3367a"/>
<polygon points="438.85,530.14 438.85,524.23 432.80,521.28 426.76,524.23 426.76,530.14 432.80,533.10" fill="#000004" stroke="#000004"/>
<polygon points="438.85,512.42 438.85,506.51 432.80,503.55 426.76,506.51 426.76,512.42 432.80,515.37" fill="#000004" stroke="#000004"/>
<polygon points="438.85,494.69 438.85,488.78 432.80,485.83 426.76,488.78 426.76,494.69 432.80,497.65" fill="#000004" stroke="#000004"/>
<polygon points="438.85,476.97 438.85,471.06 432.80,468.10 426.76,471.06 426.76,476.97 432.80,479.92" fill="#000004" stroke="#000004"/>
<polygon points="438.85,459.24 438.85,453.33 432.80,450.38 426.76,453.33 426.76,459.24 432.80,462.20" fill="#000004" stroke="#000004"/>
<polygon points="438.85,441.52 438.85,435.61 432.80,432.65 426.76,435.61 426.76,441.52 432.80,444.47" fill="#000004" stroke="#000004"/>
<polygon points="438.85,423.79 438.85,417.88 432.80,414.93 426.76,417.88 426.76,423.79 432.80,426.75" fill="#000004" stroke="#000004"/>
<polygon points="438.85,406.07 438.85,400.16 432.80,397.20 426.76,400.16 426.76,406.07 432.80,409.02" fill="#000004" stroke="#000004"/>
<polygon points="438.85,388.34 438.85,382.43 432.80,379.48 426.76,382.43 426.76,388.34 432.80,391.30" fill="#000004" stroke="#000004"/>
<polygon points="438.85,370.62 438.85,364.71 432.80,361.75 426.76,364.71 426.76,370.62 432.80,373.57" fill="#000004" stroke="#000004"/>
<polygon points="438.85,352.89 438.85,346.98 432.80,344.03 426.76,346.98 426.76,352.89 432.80,355.85" fill="#000004" stroke="#000004"/>
<polygon points="438.85,335.17 438.85,329.26 432.80,326.30 426.76,329.26 426.76,335.17 432.80,338.12" fill="#000004" stroke="#000004"/>
<polygon points="438.85,317.44 438.85,311.53 432.80,308.58 426.76,311.53 426.76,317.44 432.80,320.40" fill="#000004" stroke="#000004"/>
<polygon points="438.85,299.72 438.85,293.81 432.80,290.85 426.76,293.81 426.76,299.72 432.80,302.67" fill="#000004" stroke="#000004"/>
<polygon points="438.85,281.99 438.85,276.08 432.80,273.13 426.76,276.08 426.76,281.99 432.80,284.95" fill="#000004" stroke="#000004"/>
<polygon points="438.85,264.27 438.85,258.36 432.80,255.40 426.76,258.36 426.76,264.27 432.80,267.22" fill="#000004" stroke="#000004"/>
<polygon points="438.85,246.54 438.85,240.63 432.80,237.68 426.76,240.63 426.76,246.54 432.80,249.50" fill="#000004" stroke="#000004"/>
<polygon points="438.85,228.82 438.85,222.91 432.80,219.95 426.76,222.91 426.76,228.82 432.80,231.77" fill="#000004" stroke="#000004"/>
<polygon points="438.85,211.09 438.85,205.18 432.80,202.23 426.76,205.18 426.76,211.09 432.80,214.05" fill="#090720" stroke="#090720"/>
<polygon points="438.85,193.37 438.85,187.46 432.80,184.50 426.76,187.46 426.76,193.37 432.80,196.32" fill="#100b2d" stroke="#100b2d"/>
<polygon points="438.85,175.64 438.85,169.73 432.80,166.78 426.76,169.73 426.76,175.64 432.80,178.60" fill="#fd9467" stroke="#fd9467"/>
<polygon points="438.85,157.92 438.85,152.01 432.80,149.05 426.76,152.01 426.76,157.92 432.80,160.87" fill="#fd9467" stroke="#fd9467"/>
<polygon points="438.85,140.19 438.85,134.28 432.80,131.33 426.76,134.28 426.76,140.19 432.80,143.15" fill="#3b0f70" stroke="#3b0f70"/>
<polygon points="438.85,122.47 438.85,116.56 432.80,113.60 426.76,116.56 426.76,122.47 432.80,125.42" fill="#7e2482" stroke="#7e2482"/>
<polygon points="450.94,512.42 450.94,506.51 444.90,503.55 438.85,506.51 438.85,512.42 444.90,515.37" fill="#000004" stroke="#000004"/>
<polygon points="450.94,494.69 450.94,488.78 444.90,485.83 438.85,488.78 438.85,494.69 444.90,497.65" fill="#000004" stroke="#000004"/>
<polygon points="450.94,476.97 450.94,471.06 444.90,468.10 438.85,471.06 438.85,476.97 444.90,479.92" fill="#000004" stroke="#000004"/>
<polygon points="450.94,459.24 450.94,453.33 444.90,450.38 438.85,453.33 438.85,459.24 444.90,462.20" fill="#000004" stroke="#000004"/>
<polygon points="450.94,441.52 450.94,435.61 444.90,432.65 438.85,435.61 438.85,441.52 444.90,444.47" fill="#000004" stroke="#000004"/>
<polygon points="450.94,423.79 450.94,417.88 444.90,414.93 438.85,417.88 438.85,423.79 444.90,426.75" fill="#000004" stroke="#000004"/>
<polygon points="450.94,406.07 450.94,400.16 444.90,397.20 438.85,400.16 438.85,406.07 444.90,409.02" fill="#000004" stroke="#000004"/>
<polygon points="450.94,388.34 450.94,382.43 444.90,379.48 438.85,382.43 438.85,388.34 444.90,391.30" fill="#000004" stroke="#000004"/>
<polygon points="450.94,370.62 450.94,364.71 444.90,361.75 438.85,364.71 438.85,370.62 444.90,373.57" fill="#000004" stroke="#000004"/>
<polygon points="450.94,352.89 450.94,346.98 444.90,344.03 438.85,346.98 438.85,352.89 444.90,355.85" fill="#000004" stroke="#000004"/>
<polygon points="450.94,335.17 450.94,329.26 444.90,326.30 438.85,329.26 438.85,335.17 444.90,338.12" fill="#000004" stroke="#000004"/>
<polygon points="450.94,317.44 450.94,311.53 444.90,308.58 438.85,311.53 438.85,317.44 444.90,320.40" fill="#000004" stroke="#000004"/>
<polygon points="450.94,299.72 450.94,293.81 444.90,290.85 438.85,293.81 438.85,299.72 444.90,302.67" fill="#000004" stroke="#000004"/>
<polygon points="450.94,281.99 450.94,276.08 444.90,273.13 438.85,276.08 438.85,281.99 444.90,284.95" fill="#000004" stroke="#000004"/>
<polygon points="450.94,264.27 450.94,258.36 444.90,255.40 438.85,258.36 438.85,264.27 444.90,267.22" fill="#000004" stroke="#000004"/>
<polygon points="450.94,246.54 450.94,240.63 444.90,237.68 438.85,240.63 438.85,246.54 444.90,249.50" fill="#000004" stroke="#000004"/>
<polygon points="450.94,228.82 450.94,222.91 444.90,219.95 438.85,222.91 438.85,228.82 444.90,231.77" fill="#090720" stroke="#090720"/>
<polygon points="450.94,211.09 450.94,205.18 444.90,202.23 438.85,205.18 438.85,211.09 444.90,214.05" fill="#090720" stroke="#090720"/>
<polygon points="450.94,193.37 450.94,187.46 444.90,184.50 438.85,187.46 438.85,193.37 444.90,196.32" fill="#59157e" stroke="#59157e"/>
<polygon points="450.94,175.64 450.94,169.73 444.90,166.78 438.85,169.73 438.85,175.64 444.90,178.60" fill="#6b1d81" stroke="#6b1d81"/>
<polygon points="450.94,157.92 450.94,152.01 444.90,149.05 438.85,152.01 438.85,157.92 444.90,160.87" fill="#7e2482" stroke="#7e2482"/>
<polygon points="450.94,140.19 450.94,134.28 444.90,131.33 438.85,134.28 438.85,140.19 444.90,143.15" fill="#b3367a" stroke="#b3367a"/>
<polygon points="450.94,122.47 450.94,116.56 444.90,113.60 438.85,116.56 438.85,122.47 444.90,125.42" fill="#451077" stroke="#451077"/>
<polygon points="463.04,530.14 463.04,524.23 456.99,521.28 450.94,524.23 450.94,530.14 456.99,533.10" fill="#000004" stroke="#000004"/>
<polygon points="463.04,512.42 463.04,506.51 456.99,503.55 450.94,506.51 450.94,512.42 456.99,515.37" fill="#000004" stroke="#000004"/>
<polygon points="463.04,494.69 463.04,488.78 456.99,485.83 450.94,488.78 450.94,494.69 456.99,497.65" fill="#000004" stroke="#000004"/>
<polygon points="463.04,476.97 463.04,471.06 456.99,468.10 450.94,471.06 450.94,476.97 456.99,479.92" fill="#000004" stroke="#000004"/>
<polygon points="463.04,459.24 463.04,453.33 456.99,450.38 450.94,453.33 450.94,459.24 456.99,462.20" fill="#000004" stroke="#000004"/>
<polygon points="463.04,441.52 463.04,435.61 456.99,432.65 450.94,435.61 450.94,441.52 456.99,444.47" fill="#000004" stroke="#000004"/>
<polygon points="463.04,423.79 463.04,417.88 456.99,414.93 450.94,417.88 450.94,423.79 456.99,426.75" fill="#000004" stroke="#000004"/>
<polygon points="463.04,406.07 463.04,400.16 456.99,397.20 450.94,400.16 450.94,406.07 456.99,409.02" fill="#000004" stroke="#000004"/>
<polygon points="463.04,388.34 463.04,382.43 456.99,379.48 450.94,382.43 450.94,388.34 456.99,391.30" fill="#000004" stroke="#000004"/>
<polygon points="463.04,370.62 463.04,364.71 456.99,361.75 450.94,364.71 450.94,370.62 456.99,373.57" fill="#000004" stroke="#000004"/>
<polygon points="463.04,352.89 463.04,346.98 456.99,344.03 450.94,346.98 450.94,352.89 456.99,355.85" fill="#000004" stroke="#000004"/>
<polygon points="463.04,335.17 463.04,329.26 456.99,326.30 450.94,329.26 450.94,335.17 456.99,338.12" fill="#000004" stroke="#000004"/>
<polygon points="463.04,317.44 463.04,311.53 456.99,308.58 450.94,311.53 450.94,317.44 456.99,320.40" fill="#000004" stroke="#000004"/>
<polygon points="463.04,299.72 463.04,293.81 456.99,290.85 450.94,293.81 450.94,299.72 456.99,302.67" fill="#000004" stroke="#000004"/>
<polygon points="463.04,281.99 463.04,276.08 456.99,273.13 450.94,276.08 450.94,281.99 456.99,284.95" fill="#000004" stroke="#000004"/>
<polygon points="463.04,264.27 463.04,258.36 456.99,255.40 450.94,258.36 450.94,264.27 456.99,267.22" fill="#000004" stroke="#000004"/>
<polygon points="463.04,246.54 463.04,240.63 456.99,237.68 450.94,240.63 450.94,246.54 456.99,249.50" fill="#000004" stroke="#000004"/>
<polygon points="463.04,228.82 463.04,222.91 456.99,219.95 450.94,222.91 450.94,228.82 456.99,231.77" fill="#090720" stroke="#090720"/>
<polygon points="463.04,211.09 463.04,205.18 456.99,202.23 450.94,205.18 450.94,211.09 456.99,214.05" fill="#311165" stroke="#311165"/>
<polygon points="463.04,193.37 463.04,187.46 456.99,184.50 450.94,187.46 450.94,193.37 456.99,196.32" fill="#100b2d" stroke="#100b2d"/>
<polygon points="463.04,175.64 463.04,169.73 456.99,166.78 450.94,169.73 450.94,175.64 456.99,178.60" fill="#621980" stroke="#621980"/>
<polygon points="463.04,157.92 463.04,152.01 456.99,149.05 450.94,152.01 450.94,157.92 456.99,160.87" fill="#6b1d81" stroke="#6b1d81"/>
<polygon points="463.04,140.19 463.04,134.28 456.99,131.33 450.94,134.28 450.94,140.19 456.99,143.15" fill="#451077" stroke="#451077"/>
<polygon points="463.04,122.47 463.04,116.56 456.99,113.60 450.94,116.56 450.94,122.47 456.99,125.42" fill="#160f3b" stroke="#160f3b"/>
<polygon points="475.13,530.14 475.13,524.23 469.08,521.28 463.04,524.23 463.04,530.14 469.08,533.10" fill="#000004" stroke="#000004"/>
<polygon points="475.13,512.42 475.13,506.51 469.08,503.55 463.04,506.51 463.04,512.42 469.08,515.37" fill="#000004" stroke="#000004"/>
<polygon points="475.13,494.69 475.13,488.78 469.08,485.83 463.04,488.78 463.04,494.69 469.08,497.65" fill="#000004" stroke="#000004"/>
<polygon points="475.13,476.97 475.13,471.06 469.08,468.10 463.04,471.06 463.04,476.97 469.08,479.92" fill="#000004" stroke="#000004"/>
<polygon points="475.13,459.24 475.13,453.33 469.08,450.38 463.04,453.33 463.04,459.24 469.08,462.20" fill="#000004" stroke="#000004"/>
<polygon points="475.13,441.52 475.13,435.61 469.08,432.65 463.04,435.61 463.04,441.52 469.08,444.47" fill="#000004" stroke="#000004"/>
<polygon points="475.13,423.79 475.13,417.88 469.08,414.93 463.04,417.88 463.04,423.79 469.08,426.75" fill="#000004" stroke="#000004"/>
<polygon points="475.13,406.07 475.13,400.16 469.08,397.20 463.04,400.16 463.04,406.07 469.08,409.02" fill="#000004" stroke="#000004"/>
<polygon points="475.13,388.34 475.13,382.43 469.08,379.48 463.04,382.43 463.04,388.34 469.08,391.30" fill="#000004" stroke="#000004"/>
<polygon points="475.13,370.62 475.13,364.71 469.08,361.75 463.04,364.71 463.04,370.62 469.08,373.57" fill="#000004" stroke="#000004"/>
<polygon points="475.13,352.89 475.13,346.98 469.08,344.03 463.04,346.98 463.04,352.89 469.08,355.85" fill="#000004" stroke="#000004"/>
<polygon points="475.13,335.17 475.13,329.26 469.08,326.30 463.04,329.26 463.04,335.17 469.08,338.12" fill="#000004" stroke="#000004"/>
<polygon points="475.13,317.44 475.13,311.53 469.08,308.58 463.04,311.53 463.04,317.44 469.08,320.40" fill="#000004" stroke="#000004"/>
<polygon points="475.13,299.72 475.13,293.81 469.08,290.85 463.04,293.81 463.04,299.72 469.08,302.67" fill="#000004" stroke="#000004"/>
<polygon points="475.13,281.99 475.13,276.08 469.08,273.13 463.04,276.08 463.04,281.99 469.08,284.95" fill="#000004" stroke="#000004"/>
<polygon points="475.13,264.27 475.13,258.36 469.08,255.40 463.04,258.36 463.04,264.27 469.08,267.22" fill="#02020d" stroke="#02020d"/>
<polygon points="475.13,246.54 475.13,240.63 469.08,237.68 463.04,240.63 463.04,246.54 469.08,249.50" fill="#000004" stroke="#000004"/>
<polygon points="475.13,228.82 475.13,222.91 469.08,219.95 463.04,222.91 463.04,228.82 469.08,231.77" fill="#090720" stroke="#090720"/>
<polygon points="475.13,211.09 475.13,205.18 469.08,202.23 463.04,205.18 463.04,211.09 469.08,214.05" fill="#090720" stroke="#090720"/>
<polygon points="475.13,193.37 475.13,187.46 469.08,184.50 463.04,187.46 463.04,193.37 469.08,196.32" fill="#090720" stroke="#090720"/>
<polygon points="475.13,175.64 475.13,169.73 469.08,166.78 463.04,169.73 463.04,175.64 469.08,178.60" fill="#3b0f70" stroke="#3b0f70"/>
<polygon points="475.13,157.92 475.13,152.01 469.08,149.05 463.04,152.01 463.04,157.92 469.08,160.87" fill="#100b2d" stroke="#100b2d"/>
<polygon points="475.13,140.19 475.13,134.28 469.08,131.33 463.04,134.28 463.04,140.19 469.08,143.15" fill="#e95462" stroke="#e95462"/>
<polygon points="475.13,122.47 475.13,116.56 469.08,113.60 463.04,116.56 463.04,122.47 469.08,125.42" fill="#7e2482" stroke="#7e2482"/>
<polygon points="487.23,530.14 487.23,524.23 481.18,521.28 475.13,524.23 475.13,530.14 481.18,533.10" fill="#000004" stroke="#000004"/>
<polygon points="487.23,512.42 487.23,506.51 481.18,503.55 475.13,506.51 475.13,512.42 481.18,515.37" fill="#000004" stroke="#000004"/>
<polygon points="487.23,494.69 487.23,488.78 481.18,485.83 475.13,488.78 475.13,494.69 481.18,497.65" fill="#000004" stroke="#000004"/>
<polygon points="487.23,476.97 487.23,471.06 481.18,468.10 475.13,471.06 475.13,476.97 481.18,479.92" fill="#000004" stroke="#000004"/>
<polygon points="487.23,459.24 487.23,453.33 481.18,450.38 475.13,453.33 475.13,459.24 481.18,462.20" fill="#000004" stroke="#000004"/>
<polygon points="487.23,441.52 487.23,435.61 481.18,432.65 475.13,435.61 475.13,441.52 481.18,444.47" fill="#000004" stroke="#000004"/>
<polygon points="487.23,423.79 487.23,417.88 481.18,414.93 475.13,417.88 475.13,423.79 481.18,426.75" fill="#000004" stroke="#000004"/>
<polygon points="487.23,406.07 487.23,400.16 481.18,397.20 475.13,400.16 475.13,406.07 481.18,409.02" fill="#000004" stroke="#000004"/>
<polygon points="487.23,388.34 487.23,382.43 481.18,379.48 475.13,382.43 475.13,388.34 481.18,391.30" fill="#000004" stroke="#000004"/>
<polygon points="487.23,370.62 487.23,364.71 481.18,361.75 475.13,364.71 475.13,370.62 481.18,373.57" fill="#000004" stroke="#000004"/>
<polygon points="487.23,352.89 487.23,346.98 481.18,344.03 475.13,346.98 475.13,352.89 481.18,355.85" fill="#000004" stroke="#000004"/>
<polygon points="487.23,335.17 487.23,329.26 481.18,326.30 475.13,329.26 475.13,335.17 481.18,338.12" fill="#000004" stroke="#000004"/>
<polygon points="487.23,317.44 487.23,311.53 481.18,308.58 475.13,311.53 475.13,317.44 481.18,320.40" fill="#000004" stroke="#000004"/>
<polygon points="487.23,299.72 487.23,293.81 481.18,290.85 475.13,293.81 475.13,299.72 481.18,302.67" fill="#000004" stroke="#000004"/>
<polygon points="487.23,281.99 487.23,276.08 481.18,273.13 475.13,276.08 475.13,281.99 481.18,284.95" fill="#000004" stroke="#000004"/>
<polygon points="487.23,264.27 487.23,258.36 481.18,255.40 475.13,258.36 475.13,264.27 481.18,267.22" fill="#000004" stroke="#000004"/>
<polygon points="487.23,246.54 487.23,240.63 481.18,237.68 475.13,240.63 475.13,246.54 481.18,249.50" fill="#000004" stroke="#000004"/>
<polygon points="487.23,228.82 487.23,222.91 481.18,219.95 475.13,222.91 475.13,228.82 481.18,231.77" fill="#000004" stroke="#000004"/>
<polygon points="487.23,211.09 487.23,205.18 481.18,202.23 475.13,205.18 475.13,211.09 481.18,214.05" fill="#050416" stroke="#050416"/>
<polygon points="487.23,193.37 487.23,187.46 481.18,184.50 475.13,187.46 475.13,193.37 481.18,196.32" fill="#090720" stroke="#090720"/>
<polygon points="487.23,175.64 487.23,169.73 481.18,166.78 475.13,169.73 475.13,175.64 481.18,178.60" fill="#160f3b" stroke="#160f3b"/>
<polygon points="487.23,157.92 487.23,152.01 481.18,149.05 475.13,152.01 475.13,157.92 481.18,160.87" fill="#090720" stroke="#090720"/>
<polygon points="487.23,140.19 487.23,134.28 481.18,131.33 475.13,134.28 475.13,140.19 481.18,143.15" fill="#621980" stroke="#621980"/>
<polygon points="487.23,122.47 487.23,116.56 481.18,113.60 475.13,116.56 475.13,122.47 481.18,125.42" fill="#a02f7f" stroke="#a02f7f"/>
<polygon points="499.32,530.14 499.32,524.23 493.27,521.28 487.23,524.23 487.23,530.14 493.27,533.10" fill="#000004" stroke="#000004"/>
<polygon points="499.32,512.42 499.32,506.51 493.27,503.55 487.23,506.51 487.23,512.42 493.27,515.37" fill="#000004" stroke="#000004"/>
<polygon points="499.32,494.69 499.32,488.78 493.27,485.83 487.23,488.78 487.23,494.69 493.27,497.65" fill="#000004" stroke="#000004"/>
<polygon points="499.32,476.97 499.32,471.06 493.27,468.10 487.23,471.06 487.23,476.97 493.27,479.92" fill="#000004" stroke="#000004"/>
<polygon points="499.32,459.24 499.32,453.33 493.27,450.38 487.23,453.33 487.23,459.24 493.27,462.20" fill="#000004" stroke="#000004"/>
<polygon points="499.32,441.52 499.32,435.61 493.27,432.65 487.23,435.61 487.23,441.52 493.27,444.47" fill="#000004" stroke="#000004"/>
<polygon points="499.32,423.79 499.32,417.88 493.27,414.93 487.23,417.88 487.23,423.79 493.27,426.75" fill="#000004" stroke="#000004"/>
<polygon points="499.32,406.07 499.32,400.16 493.27,397.20 487.23,400.16 487.23,406.07 493.27,409.02" fill="#000004" stroke="#000004"/>
<polygon points="499.32,388.34 499.32,382.43 493.27,379.48 487.23,382.43 487.23,388.34 493.27,391.30" fill="#000004" stroke="#000004"/>
<polygon points="499.32,370.62 499.32,364.71 493.27,361.75 487.23,364.71 487.23,370.62 493.27,373.57" fill="#000004" stroke="#000004"/>
<polygon points="499.32,352.89 499.32,346.98 493.27,344.03 487.23,346.98 487.23,352.89 493.27,355.85" fill="#000004" stroke="#000004"/>
<polygon points="499.32,335.17 499.32,329.26 493.27,326.30 487.23,329.26 487.23,335.17 493.27,338.12" fill="#000004" stroke="#000004"/>
<polygon points="499.32,317.44 499.32,311.53 493.27,308.58 487.23,311.53 487.23,317.44 493.27,320.40" fill="#000004" stroke="#000004"/>
<polygon points="499.32,299.72 499.32,293.81 493.27,290.85 487.23,293.81 487.23,299.72 493.27,302.67" fill="#000004" stroke="#000004"/>
<polygon points="499.32,281.99 499.32,276.08 493.27,273.13 487.23,276.08 487.23,281.99 493.27,284.95" fill="#000004" stroke="#000004"/>
<polygon points="499.32,264.27 499.32,258.36 493.27,255.40 487.23,258.36 487.23,264.27 493.27,267.22" fill="#000004" stroke="#000004"/>
<polygon points="499.32,246.54 499.32,240.63 493.27,237.68 487.23,240.63 487.23,246.54 493.27,249.50" fill="#000004" stroke="#000004"/>
<polygon points="499.32,228.82 499.32,222.91 493.27,219.95 487.23,222.91 487.23,228.82 493.27,231.77" fill="#090720" stroke="#090720"/>
<polygon points="499.32,211.09 499.32,205.18 493.27,202.23 487.23,205.18 487.23,211.09 493.27,214.05" fill="#000004" stroke="#000004"/>
<polygon points="499.32,193.37 499.32,187.46 493.27,184.50 487.23,187.46 487.23,193.37 493.27,196.32" fill="#050416" stroke="#050416"/>
<polygon points="499.32,175.64 499.32,169.73 493.27,166.78 487.23,169.73 487.23,175.64 493.27,178.60" fill="#271258" stroke="#271258"/>
<polygon points="499.32,157.92 499.32,152.01 493.27,149.05 487.23,152.01 487.23,157.92 493.27,160.87" fill="#090720" stroke="#090720"/>
<polygon points="499.32,140.19 499.32,134.28 493.27,131.33 487.23,134.28 487.23,140.19 493.27,143.15" fill="#f4675c" stroke="#f4675c"/>
<polygon points="499.32,122.47 499.32,116.56 493.27,113.60 487.23,116.56 487.23,122.47 493.27,125.42" fill="#7e2482" stroke="#7e2482"/>
<polygon points="511.41,547.87 511.41,541.96 505.37,539.00 499.32,541.96 499.32,547.87 505.37,550.82" fill="#000004" stroke="#000004"/>
<polygon points="511.41,530.14 511.41,524.23 505.37,521.28 499.32,524.23 499.32,530.14 505.37,533.10" fill="#000004" stroke="#000004"/>
<polygon points="511.41,512.42 511.41,506.51 505.37,503.55 499.32,506.51 499.32,512.42 505.37,515.37" fill="#000004" stroke="#000004"/>
<polygon points="511.41,494.69 511.41,488.78 505.37,485.83 499.32,488.78 499.32,494.69 505.37,497.65" fill="#000004" stroke="#000004"/>
<polygon points="511.41,476.97 511.41,471.06 505.37,468.10 499.32,471.06 499.32,476.97 505.37,479.92" fill="#000004" stroke="#000004"/>
<polygon points="511.41,459.24 511.41,453.33 505.37,450.38 499.32,453.33 499.32,459.24 505.37,462.20" fill="#000004" stroke="#000004"/>
<polygon points="511.41,441.52 511.41,435.61 505.37,432.65 499.32,435.61 499.32,441.52 505.37,444.47" fill="#000004" stroke="#000004"/>
<polygon points="511.41,423.79 511.41,417.88 505.37,414.93 499.32,417.88 499.32,423.79 505.37,426.75" fill="#000004" stroke="#000004"/>
<polygon points="511.41,406.07 511.41,400.16 505.37,397.20 499.32,400.16 499.32,406.07 505.37,409.02" fill="#000004" stroke="#000004"/>
<polygon points="511.41,388.34 511.41,382.43 505.37,379.48 499.32,382.43 499.32,388.34 505.37,391.30" fill="#000004" stroke="#000004"/>
<polygon points="511.41,370.62 511.41,364.71 505.37,361.75 499.32,364.71 499.32,370.62 505.37,373.57" fill="#000004" stroke="#000004"/>
<polygon points="511.41,352.89 511.41,346.98 505.37,344.03 499.32,346.98 499.32,352.89 505.37,355.85" fill="#000004" stroke="#000004"/>
<polygon points="511.41,335.17 511.41,329.26 505.37,326.30 499.32,329.26 499.32,335.17 505.37,338.12" fill="#000004" stroke="#000004"/>
<polygon points="511.41,317.44 511.41,311.53 505.37,308.58 499.32,311.53 499.32,317.44 505.37,320.40" fill="#000004" stroke="#000004"/>
<polygon points="511.41,299.72 511.41,293.81 505.37,290.85 499.32,293.81 499.32,299.72 505.37,302.67" fill="#000004" stroke="#000004"/>
<polygon points="511.41,281.99 511.41,276.08 505.37,273.13 499.32,276.08 499.32,281.99 505.37,284.95" fill="#000004" stroke="#000004"/>
<polygon points="511.41,264.27 511.41,258.36 505.37,255.40 499.32,258.36 499.32,264.27 505.37,267.22" fill="#000004" stroke="#000004"/>
<polygon points="511.41,246.54 511.41,240.63 505.37,237.68 499.32,240.63 499.32,246.54 505.37,249.50" fill="#000004" stroke="#000004"/>
<polygon points="511.41,228.82 511.41,222.91 505.37,219.95 499.32,222.91 499.32,228.82 505.37,231.77" fill="#000004" stroke="#000004"/>
<polygon points="511.41,211.09 511.41,205.18 505.37,202.23 499.32,205.18 499.32,211.09 505.37,214.05" fill="#090720" stroke="#090720"/>
<polygon points="511.41,193.37 511.41,187.46 505.37,184.50 499.32,187.46 499.32,193.37 505.37,196.32" fill="#050416" stroke="#050416"/>
<polygon points="511.41,175.64 511.41,169.73 505.37,166.78 499.32,169.73 499.32,175.64 505.37,178.60" fill="#4f127b" stroke="#4f127b"/>
<polygon points="511.41,122.47 511.41,116.56 505.37,113.60 499.32,116.56 499.32,122.47 505.37,125.42" fill="#050416" stroke="#050416"/>
<polygon points="523.51,547.87 523.51,541.96 517.46,539.00 511.41,541.96 511.41,547.87 517.46,550.82" fill="#000004" stroke="#000004"/>
<polygon points="523.51,530.14 523.51,524.23 517.46,521.28 511.41,524.23 511.41,530.14 517.46,533.10" fill="#000004" stroke="#000004"/>
<polygon points="523.51,512.42 523.51,506.51 517.46,503.55 511.41,506.51 511.41,512.42 517.46,515.37" fill="#000004" stroke="#000004"/>
<polygon points="523.51,494.69 523.51,488.78 517.46,485.83 511.41,488.78 511.41,494.69 517.46,497.65" fill="#000004" stroke="#000004"/>
<polygon points="523.51,476.97 523.51,471.06 517.46,468.10 511.41,471.06 511.41,476.97 517.46,479.92" fill="#000004" stroke="#000004"/>
<polygon points="523.51,459.24 523.51,453.33 517.46,450.38 511.41,453.33 511.41,459.24 517.46,462.20" fill="#000004" stroke="#000004"/>
<polygon points="523.51,441.52 523.51,435.61 517.46,432.65 511.41,435.61 511.41,441.52 517.46,444.47" fill="#000004" stroke="#000004"/>
<polygon points="523.51,423.79 523.51,417.88 517.46,414.93 511.41,417.88 511.41,423.79 517.46,426.75" fill="#000004" stroke="#000004"/>
<polygon points="523.51,406.07 523.51,400.16 517.46,397.20 511.41,400.16 511.41,406.07 517.46,409.02" fill="#000004" stroke="#000004"/>
<polygon points="523.51,388.34 523.51,382.43 517.46,379.48 511.41,382.43 511.41,388.34 517.46,391.30" fill="#000004" stroke="#000004"/>
<polygon points="523.51,370.62 523.51,364.71 517.46,361.75 511.41,364.71 511.41,370.62 517.46,373.57" fill="#000004" stroke="#000004"/>
<polygon points="523.51,352.89 523.51,346.98 517.46,344.03 511.41,346.98 511.41,352.89 517.46,355.85" fill="#000004" stroke="#000004"/>
<polygon points="523.51,335.17 523.51,329.26 517.46,326.30 511.41,329.26 511.41,335.17 517.46,338.12" fill="#000004" stroke="#000004"/>
<polygon points="523.51,317.44 523.51,311.53 517.46,308.58 511.41,311.53 511.41,317.44 517.46,320.40" fill="#000004" stroke="#000004"/>
<polygon points="523.51,299.72 523.51,293.81 517.46,290.85 511.41,293.81 511.41,299.72 517.46,302.67" fill="#000004" stroke="#000004"/>
<polygon points="523.51,281.99 523.51,276.08 517.46,273.13 511.41,276.08 511.41,281.99 517.46,284.95" fill="#000004" stroke="#000004"/>
<polygon points="523.51,264.27 523.51,258.36 517.46,255.40 511.41,258.36 511.41,264.27 517.46,267.22" fill="#000004" stroke="#000004"/>
<polygon points="523.51,246.54 523.51,240.63 517.46,237.68 511.41,240.63 511.41,246.54 517.46,249.50" fill="#000004" stroke="#000004"/>
<polygon points="523.51,228.82 523.51,222.91 517.46,219.95 511.41,222.91 511.41,228.82 517.46,231.77" fill="#271258" stroke="#271258"/>
<polygon points="523.51,211.09 523.51,205.18 517.46,202.23 511.41,205.18 511.41,211.09 517.46,214.05" fill="#271258" stroke="#271258"/>
<polygon points="523.51,193.37 523.51,187.46 517.46,184.50 511.41,187.46 511.41,193.37 517.46,196.32" fill="#4f127b" stroke="#4f127b"/>
<polygon points="535.60,547.87 535.60,541.96 529.56,539.00 523.51,541.96 523.51,547.87 529.56,550.82" fill="#000004" stroke="#000004"/>
<polygon points="535.60,530.14 535.60,524.23 529.56,521.28 523.51,524.23 523.51,530.14 529.56,533.10" fill="#000004" stroke="#000004"/>
<polygon points="535.60,512.42 535.60,506.51 529.56,503.55 523.51,506.51 523.51,512.42 529.56,515.37" fill="#000004" stroke="#000004"/>
<polygon points="535.60,494.69 535.60,488.78 529.56,485.83 523.51,488.78 523.51,494.69 529.56,497.65" fill="#000004" stroke="#000004"/>
<polygon points="535.60,476.97 535.60,471.06 529.56,468.10 523.51,471.06 523.51,476.97 529.56,479.92" fill="#000004" stroke="#000004"/>
<polygon points="535.60,459.24 535.60,453.33 529.56,450.38 523.51,453.33 523.51,459.24 529.56,462.20" fill="#000004" stroke="#000004"/>
<polygon points="535.60,441.52 535.60,435.61 529.56,432.65 523.51,435.61 523.51,441.52 529.56,444.47" fill="#000004" stroke="#000004"/>
<polygon points="535.60,423.79 535.60,417.88 529.56,414.93 523.51,417.88 523.51,423.79 529.56,426.75" fill="#000004" stroke="#000004"/>
<polygon points="535.60,406.07 535.60,400.16 529.56,397.20 523.51,400.16 523.51,406.07 529.56,409.02" fill="#000004" stroke="#000004"/>
<polygon points="535.60,388.34 535.60,382.43 529.56,379.48 523.51,382.43 523.51,388.34 529.56,391.30" fill="#000004" stroke="#000004"/>
<polygon points="535.60,370.62 535.60,364.71 529.56,361.75 523.51,364.71 523.51,370.62 529.56,373.57" fill="#000004" stroke="#000004"/>
<polygon points="535.60,352.89 535.60,346.98 529.56,344.03 523.51,346.98 523.51,352.89 529.56,355.85" fill="#000004" stroke="#000004"/>
<polygon points="535.60,335.17 535.60,329.26 529.56,326.30 523.51,329.26 523.51,335.17 529.56,338.12" fill="#000004" stroke="#000004"/>
<polygon points="535.60,317.44 535.60,311.53 529.56,308.58 523.51,311.53 523.51,317.44 529.56,320.40" fill="#000004" stroke="#000004"/>
<polygon points="535.60,299.72 535.60,293.81 529.56,290.85 523.51,293.81 523.51,299.72 529.56,302.67" fill="#000004" stroke="#000004"/>
<polygon points="535.60,281.99 535.60,276.08 529.56,273.13 523.51,276.08 523.51,281.99 529.56,284.95" fill="#000004" stroke="#000004"/>
<polygon points="535.60,264.27 535.60,258.36 529.56,255.40 523.51,258.36 523.51,264.27 529.56,267.22" fill="#000004" stroke="#000004"/>
<polygon points="535.60,246.54 535.60,240.63 529.56,237.68 523.51,240.63 523.51,246.54 529.56,249.50" fill="#000004" stroke="#000004"/>
<polygon points="535.60,228.82 535.60,222.91 529.56,219.95 523.51,222.91 523.51,228.82 529.56,231.77" fill="#000004" stroke="#000004"/>
<polygon points="535.60,211.09 535.60,205.18 529.56,202.23 523.51,205.18 523.51,211.09 529.56,214.05" fill="#050416" stroke="#050416"/>
<polygon points="535.60,193.37 535.60,187.46 529.56,184.50 523.51,187.46 523.51,193.37 529.56,196.32" fill="#621980" stroke="#621980"/>
<polygon points="535.60,175.64 535.60,169.73 529.56,166.78 523.51,169.73 523.51,175.64 529.56,178.60" fill="#451077" stroke="#451077"/>
<polygon points="547.70,547.87 547.70,541.96 541.65,539.00 535.60,541.96 535.60,547.87 541.65,550.82" fill="#000004" stroke="#000004"/>
<polygon points="547.70,530.14 547.70,524.23 541.65,521.28 535.60,524.23 535.60,530.14 541.65,533.10" fill="#000004" stroke="#000004"/>
<polygon points="547.70,512.42 547.70,506.51 541.65,503.55 535.60,506.51 535.60,512.42 541.65,515.37" fill="#000004" stroke="#000004"/>
<polygon points="547.70,494.69 547.70,488.78 541.65,485.83 535.60,488.78 535.60,494.69 541.65,497.65" fill="#000004" stroke="#000004"/>
<polygon points="547.70,476.97 547.70,471.06 541.65,468.10 535.60,471.06 535.60,476.97 541.65,479.92" fill="#000004" stroke="#000004"/>
<polygon points="547.70,459.24 547.70,453.33 541.65,450.38 535.60,453.33 535.60,459.24 541.65,462.20" fill="#000004" stroke="#000004"/>
<polygon points="547.70,441.52 547.70,435.61 541.65,432.65 535.60,435.61 535.60,441.52 541.65,444.47" fill="#000004" stroke="#000004"/>
<polygon points="547.70,423.79 547.70,417.88 541.65,414.93 535.60,417.88 535.60,423.79 541.65,426.75" fill="#000004" stroke="#000004"/>
<polygon points="547.70,406.07 547.70,400.16 541.65,397.20 535.60,400.16 535.60,406.07 541.65,409.02" fill="#000004" stroke="#000004"/>
<polygon points="547.70,388.34 547.70,382.43 541.65,379.48 535.60,382.43 535.60,388.34 541.65,391.30" fill="#000004" stroke="#000004"/>
<polygon points="547.70,370.62 547.70,364.71 541.65,361.75 535.60,364.71 535.60,370.62 541.65,373.57" fill="#000004" stroke="#000004"/>
<polygon points="547.70,352.89 547.70,346.98 541.65,344.03 535.60,346.98 535.60,352.89 541.65,355.85" fill="#000004" stroke="#000004"/>
<polygon points="547.70,335.17 547.70,329.26 541.65,326.30 535.60,329.26 535.60,335.17 541.65,338.12" fill="#000004" stroke="#000004"/>
<polygon points="547.70,317.44 547.70,311.53 541.65,308.58 535.60,311.53 535.60,317.44 541.65,320.40" fill="#000004" stroke="#000004"/>
<polygon points="547.70,299.72 547.70,293.81 541.65,290.85 535.60,293.81 535.60,299.72 541.65,302.67" fill="#000004" stroke="#000004"/>
<polygon points="547.70,281.99 547.70,276.08 541.65,273.13 535.60,276.08 535.60,281.99 541.65,284.95" fill="#090720" stroke="#090720"/>
<polygon points="547.70,264.27 547.70,258.36 541.65,255.40 535.60,258.36 535.60,264.27 541.65,267.22" fill="#000004" stroke="#000004"/>
<polygon points="547.70,246.54 547.70,240.63 541.65,237.68 535.60,240.63 535.60,246.54 541.65,249.50" fill="#000004" stroke="#000004"/>
<polygon points="547.70,228.82 547.70,222.91 541.65,219.95 535.60,222.91 535.60,228.82 541.65,231.77" fill="#000004" stroke="#000004"/>
<polygon points="547.70,211.09 547.70,205.18 541.65,202.23 535.60,205.18 535.60,211.09 541.65,214.05" fill="#271258" stroke="#271258"/>
<polygon points="547.70,193.37 547.70,187.46 541.65,184.50 535.60,187.46 535.60,193.37 541.65,196.32" fill="#4f127b" stroke="#4f127b"/>
<polygon points="559.79,565.59 559.79,559.68 553.74,556.73 547.70,559.68 547.70,565.59 553.74,568.55" fill="#000004" stroke="#000004"/>
<polygon points="559.79,547.87 559.79,541.96 553.74,539.00 547.70,541.96 547.70,547.87 553.74,550.82" fill="#000004" stroke="#000004"/>
<polygon points="559.79,530.14 559.79,524.23 553.74,521.28 547.70,524.23 547.70,530.14 553.74,533.10" fill="#000004" stroke="#000004"/>
<polygon points="559.79,512.42 559.79,506.51 553.74,503.55 547.70,506.51 547.70,512.42 553.74,515.37" fill="#000004" stroke="#000004"/>
<polygon points="559.79,494.69 559.79,488.78 553.74,485.83 547.70,488.78 547.70,494.69 553.74,497.65" fill="#000004" stroke="#000004"/>
<polygon points="559.79,476.97 559.79,471.06 553.74,468.10 547.70,471.06 547.70,476.97 553.74,479.92" fill="#000004" stroke="#000004"/>
<polygon points="559.79,459.24 559.79,453.33 553.74,450.38 547.70,453.33 547.70,459.24 553.74,462.20" fill="#000004" stroke="#000004"/>
<polygon points="559.79,441.52 559.79,435.61 553.74,432.65 547.70,435.61 547.70,441.52 553.74,444.47" fill="#000004" stroke="#000004"/>
<polygon points="559.79,423.79 559.79,417.88 553.74,414.93 547.70,417.88 547.70,423.79 553.74,426.75" fill="#000004" stroke="#000004"/>
<polygon points="559.79,406.07 559.79,400.16 553.74,397.20 547.70,400.16 547.70,406.07 553.74,409.02" fill="#000004" stroke="#000004"/>
<polygon points="559.79,388.34 559.79,382.43 553.74,379.48 547.70,382.43 547.70,388.34 553.74,391.30" fill="#000004" stroke="#000004"/>
<polygon points="559.79,370.62 559.79,364.71 553.74,361.75 547.70,364.71 547.70,370.62 553.74,373.57" fill="#000004" stroke="#000004"/>
<polygon points="559.79,352.89 559.79,346.98 553.74,344.03 547.70,346.98 547.70,352.89 553.74,355.85" fill="#000004" stroke="#000004"/>
<polygon points="559.79,335.17 559.79,329.26 553.74,326.30 547.70,329.26 547.70,335.17 553.74,338.12" fill="#000004" stroke="#000004"/>
<polygon points="559.79,317.44 559.79,311.53 553.74,308.58 547.70,311.53 547.70,317.44 553.74,320.40" fill="#000004" stroke="#000004"/>
<polygon points="559.79,299.72 559.79,293.81 553.74,290.85 547.70,293.81 547.70,299.72 553.74,302.67" fill="#000004" stroke="#000004"/>
<polygon points="559.79,281.99 559.79,276.08 553.74,273.13 547.70,276.08 547.70,281.99 553.74,284.95" fill="#000004" stroke="#000004"/>
<polygon points="559.79,264.27 559.79,258.36 553.74,255.40 547.70,258.36 547.70,264.27 553.74,267.22" fill="#100b2d" stroke="#100b2d"/>
<polygon points="559.79,246.54 559.79,240.63 553.74,237.68 547.70,240.63 547.70,246.54 553.74,249.50" fill="#100b2d" stroke="#100b2d"/>
<polygon points="559.79,228.82 559.79,222.91 553.74,219.95 547.70,222.91 547.70,228.82 553.74,231.77" fill="#160f3b" stroke="#160f3b"/>
<polygon points="559.79,211.09 559.79,205.18 553.74,202.23 547.70,205.18 547.70,211.09 553.74,214.05" fill="#000004" stroke="#000004"/>
<polygon points="571.88,565.59 571.88,559.68 565.84,556.73 559.79,559.68 559.79,565.59 565.84,568.55" fill="#000004" stroke="#000004"/>
<polygon points="571.88,547.87 571.88,541.96 565.84,539.00 559.79,541.96 559.79,547.87 565.84,550.82" fill="#000004" stroke="#000004"/>
<polygon points="571.88,530.14 571.88,524.23 565.84,521.28 559.79,524.23 559.79,530.14 565.84,533.10" fill="#000004" stroke="#000004"/>
<polygon points="571.88,512.42 571.88,506.51 565.84,503.55 559.79,506.51 559.79,512.42 565.84,515.37" fill="#000004" stroke="#000004"/>
<polygon points="571.88,494.69 571.88,488.78 565.84,485.83 559.79,488.78 559.79,494.69 565.84,497.65" fill="#000004" stroke="#000004"/>
<polygon points="571.88,476.97 571.88,471.06 565.84,468.10 559.79,471.06 559.79,476.97 565.84,479.92" fill="#000004" stroke="#000004"/>
<polygon points="571.88,459.24 571.88,453.33 565.84,450.38 559.79,453.33 559.79,459.24 565.84,462.20" fill="#000004" stroke="#000004"/>
<polygon points="571.88,441.52 571.88,435.61 565.84,432.65 559.79,435.61 559.79,441.52 565.84,444.47" fill="#000004" stroke="#000004"/>
<polygon points="571.88,423.79 571.88,417.88 565.84,414.93 559.79,417.88 559.79,423.79 565.84,426.75" fill="#000004" stroke="#000004"/>
<polygon points="571.88,406.07 571.88,400.16 565.84,397.20 559.79,400.16 559.79,406.07 565.84,409.02" fill="#000004" stroke="#000004"/>
<polygon points="571.88,388.34 571.88,382.43 565.84,379.48 559.79,382.43 559.79,388.34 565.84,391.30" fill="#000004" stroke="#000004"/>
<polygon points="571.88,370.62 571.88,364.71 565.84,361.75 559.79,364.71 559.79,370.62 565.84,373.57" fill="#000004" stroke="#000004"/>
<polygon points="571.88,352.89 571.88,346.98 565.84,344.03 559.79,346.98 559.79,352.89 565.84,355.85" fill="#000004" stroke="#000004"/>
<polygon points="571.88,335.17 571.88,329.26 565.84,326.30 559.79,329.26 559.79,335.17 565.84,338.12" fill="#000004" stroke="#000004"/>
<polygon points="571.88,317.44 571.88,311.53 565.84,308.58 559.79,311.53 559.79,317.44 565.84,320.40" fill="#000004" stroke="#000004"/>
<polygon points="571.88,299.72 571.88,293.81 565.84,290.85 559.79,293.81 559.79,299.72 565.84,302.67" fill="#000004" stroke="#000004"/>
<polygon points="571.88,281.99 571.88,276.08 565.84,273.13 559.79,276.08 559.79,281.99 565.84,284.95" fill="#000004" stroke="#000004"/>
<polygon points="571.88,264.27 571.88,258.36 565.84,255.40 559.79,258.36 559.79,264.27 565.84,267.22" fill="#090720" stroke="#090720"/>
<polygon points="571.88,246.54 571.88,240.63 565.84,237.68 559.79,240.63 559.79,246.54 565.84,249.50" fill="#000004" stroke="#000004"/>
<polygon points="571.88,228.82 571.88,222.91 565.84,219.95 559.79,222.91 559.79,228.82 565.84,231.77" fill="#000004" stroke="#000004"/>
<polygon points="583.98,547.87 583.98,541.96 577.93,539.00 571.88,541.96 571.88,547.87 577.93,550.82" fill="#000004" stroke="#000004"/>
<polygon points="583.98,530.14 583.98,524.23 577.93,521.28 571.88,524.23 571.88,530.14 577.93,533.10" fill="#000004" stroke="#000004"/>
<polygon points="583.98,512.42 583.98,506.51 577.93,503.55 571.88,506.51 571.88,512.42 577.93,515.37" fill="#000004" stroke="#000004"/>
<polygon points="583.98,494.69 583.98,488.78 577.93,485.83 571.88,488.78 571.88,494.69 577.93,497.65" fill="#000004" stroke="#000004"/>
<polygon points="583.98,476.97 583.98,471.06 577.93,468.10 571.88,471.06 571.88,476.97 577.93,479.92" fill="#000004" stroke="#000004"/>
<polygon points="583.98,459.24 583.98,453.33 577.93,450.38 571.88,453.33 571.88,459.24 577.93,462.20" fill="#000004" stroke="#000004"/>
<polygon points="583.98,441.52 583.98,435.61 577.93,432.65 571.88,435.61 571.88,441.52 577.93,444.47" fill="#000004" stroke="#000004"/>
<polygon points="583.98,423.79 583.98,417.88 577.93,414.93 571.88,417.88 571.88,423.79 577.93,426.75" fill="#000004" stroke="#000004"/>
<polygon points="583.98,406.07 583.98,400.16 577.93,397.20 571.88,400.16 571.88,406.07 577.93,409.02" fill="#000004" stroke="#000004"/>
<polygon points="583.98,388.34 583.98,382.43 577.93,379.48 571.88,382.43 571.88,388.34 577.93,391.30" fill="#000004" stroke="#000004"/>
<polygon points="583.98,370.62 583.98,364.71 577.93,361.75 571.88,364.71 571.88,370.62 577.93,373.57" fill="#000004" stroke="#000004"/>
<polygon points="583.98,352.89 583.98,346.98 577.93,344.03 571.88,346.98 571.88,352.89 577.93,355.85" fill="#000004" stroke="#000004"/>
<polygon points="583.98,335.17 583.98,329.26 577.93,326.30 571.88,329.26 571.88,335.17 577.93,338.12" fill="#000004" stroke="#000004"/>
<polygon points="583.98,317.44 583.98,311.53 577.93,308.58 571.88,311.53 571.88,317.44 577.93,320.40" fill="#000004" stroke="#000004"/>
<polygon points="583.98,299.72 583.98,293.81 577.93,290.85 571.88,293.81 571.88,299.72 577.93,302.67" fill="#000004" stroke="#000004"/>
<polygon points="583.98,281.99 583.98,276.08 577.93,273.13 571.88,276.08 571.88,281.99 577.93,284.95" fill="#02020d" stroke="#02020d"/>
<polygon points="583.98,264.27 583.98,258.36 577.93,255.40 571.88,258.36 571.88,264.27 577.93,267.22" fill="#000004" stroke="#000004"/>
<polygon points="596.07,565.59 596.07,559.68 590.02,556.73 583.98,559.68 583.98,565.59 590.02,568.55" fill="#000004" stroke="#000004"/>
<polygon points="596.07,547.87 596.07,541.96 590.02,539.00 583.98,541.96 583.98,547.87 590.02,550.82" fill="#000004" stroke="#000004"/>
<polygon points="596.07,530.14 596.07,524.23 590.02,521.28 583.98,524.23 583.98,530.14 590.02,533.10" fill="#000004" stroke="#000004"/>
<polygon points="596.07,512.42 596.07,506.51 590.02,503.55 583.98,506.51 583.98,512.42 590.02,515.37" fill="#000004" stroke="#000004"/>
<polygon points="596.07,494.69 596.07,488.78 590.02,485.83 583.98,488.78 583.98,494.69 590.02,497.65" fill="#000004" stroke="#000004"/>
<polygon points="596.07,476.97 596.07,471.06 590.02,468.10 583.98,471.06 583.98,476.97 590.02,479.92" fill="#000004" stroke="#000004"/>
<polygon points="596.07,459.24 596.07,453.33 590.02,450.38 583.98,453.33 583.98,459.24 590.02,462.20" fill="#000004" stroke="#000004"/>
<polygon points="596.07,441.52 596.07,435.61 590.02,432.65 583.98,435.61 583.98,441.52 590.02,444.47" fill="#000004" stroke="#000004"/>
<polygon points="596.07,423.79 596.07,417.88 590.02,414.93 583.98,417.88 583.98,423.79 590.02,426.75" fill="#000004" stroke="#000004"/>
<polygon points="596.07,406.07 596.07,400.16 590.02,397.20 583.98,400.16 583.98,406.07 590.02,409.02" fill="#000004" stroke="#000004"/>
<polygon points="596.07,388.34 596.07,382.43 590.02,379.48 583.98,382.43 583.98,388.34 590.02,391.30" fill="#000004" stroke="#000004"/>
<polygon points="596.07,370.62 596.07,364.71 590.02,361.75 583.98,364.71 583.98,370.62 590.02,373.57" fill="#000004" stroke="#000004"/>
<polygon points="596.07,352.89 596.07,346.98 590.02,344.03 583.98,346.98 583.98,352.89 590.02,355.85" fill="#000004" stroke="#000004"/>
<polygon points="596.07,335.17 596.07,329.26 590.02,326.30 583.98,329.26 583.98,335.17 590.02,338.12" fill="#000004" stroke="#000004"/>
<polygon points="596.07,317.44 596.07,311.53 590.02,308.58 583.98,311.53 583.98,317.44 590.02,320.40" fill="#000004" stroke="#000004"/>
<polygon points="596.07,299.72 596.07,293.81 590.02,290.85 583.98,293.81 583.98,299.72 590.02,302.67" fill="#000004" stroke="#000004"/>
<polygon points="596.07,281.99 596.07,276.08 590.02,273.13 583.98,276.08 583.98,281.99 590.02,284.95" fill="#000004" stroke="#000004"/>
<polygon points="596.07,264.27 596.07,258.36 590.02,255.40 583.98,258.36 583.98,264.27 590.02,267.22" fill="#000004" stroke="#000004"/>
<polygon points="608.17,601.04 608.17,595.13 602.12,592.18 596.07,595.13 596.07,601.04 602.12,604.00" fill="#000004" stroke="#000004"/>
<polygon points="608.17,583.32 608.17,577.41 602.12,574.45 596.07,577.41 596.07,583.32 602.12,586.27" fill="#000004" stroke="#000004"/>
<polygon points="608.17,565.59 608.17,559.68 602.12,556.73 596.07,559.68 596.07,565.59 602.12,568.55" fill="#000004" stroke="#000004"/>
<polygon points="608.17,547.87 608.17,541.96 602.12,539.00 596.07,541.96 596.07,547.87 602.12,550.82" fill="#000004" stroke="#000004"/>
<polygon points="608.17,530.14 608.17,524.23 602.12,521.28 596.07,524.23 596.07,530.14 602.12,533.10" fill="#000004" stroke="#000004"/>
<polygon points="608.17,512.42 608.17,506.51 602.12,503.55 596.07,506.51 596.07,512.42 602.12,515.37" fill="#000004" stroke="#000004"/>
<polygon points="608.17,494.69 608.17,488.78 602.12,485.83 596.07,488.78 596.07,494.69 602.12,497.65" fill="#000004" stroke="#000004"/>
<polygon points="608.17,476.97 608.17,471.06 602.12,468.10 596.07,471.06 596.07,476.97 602.12,479.92" fill="#000004" stroke="#000004"/>
<polygon points="608.17,459.24 608.17,453.33 602.12,450.38 596.07,453.33 596.07,459.24 602.12,462.20" fill="#000004" stroke="#000004"/>
<polygon points="608.17,441.52 608.17,435.61 602.12,432.65 596.07,435.61 596.07,441.52 602.12,444.47" fill="#000004" stroke="#000004"/>
<polygon points="608.17,423.79 608.17,417.88 602.12,414.93 596.07,417.88 596.07,423.79 602.12,426.75" fill="#000004" stroke="#000004"/>
<polygon points="608.17,406.07 608.17,400.16 602.12,397.20 596.07,400.16 596.07,406.07 602.12,409.02" fill="#000004" stroke="#000004"/>
<polygon points="608.17,388.34 608.17,382.43 602.12,379.48 596.07,382.43 596.07,388.34 602.12,391.30" fill="#000004" stroke="#000004"/>
<polygon points="608.17,370.62 608.17,364.71 602.12,361.75 596.07,364.71 596.07,370.62 602.12,373.57" fill="#000004" stroke="#000004"/>
<polygon points="608.17,352.89 608.17,346.98 602.12,344.03 596.07,346.98 596.07,352.89 602.12,355.85" fill="#000004" stroke="#000004"/>
<polygon points="608.17,335.17 608.17,329.26 602.12,326.30 596.07,329.26 596.07,335.17 602.12,338.12" fill="#000004" stroke="#000004"/>
<polygon points="608.17,317.44 608.17,311.53 602.12,308.58 596.07,311.53 596.07,317.44 602.12,320.40" fill="#000004" stroke="#000004"/>
<polygon points="608.17,299.72 608.17,293.81 602.12,290.85 596.07,293.81 596.07,299.72 602.12,302.67" fill="#000004" stroke="#000004"/>
<polygon points="608.17,281.99 608.17,276.08 602.12,273.13 596.07,276.08 596.07,281.99 602.12,284.95" fill="#000004" stroke="#000004"/>
<polygon points="620.26,565.59 620.26,559.68 614.21,556.73 608.17,559.68 608.17,565.59 614.21,568.55" fill="#000004" stroke="#000004"/>
<polygon points="620.26,547.87 620.26,541.96 614.21,539.00 608.17,541.96 608.17,547.87 614.21,550.82" fill="#000004" stroke="#000004"/>
<polygon points="620.26,530.14 620.26,524.23 614.21,521.28 608.17,524.23 608.17,530.14 614.21,533.10" fill="#000004" stroke="#000004"/>
<polygon points="620.26,512.42 620.26,506.51 614.21,503.55 608.17,506.51 608.17,512.42 614.21,515.37" fill="#000004" stroke="#000004"/>
<polygon points="620.26,494.69 620.26,488.78 614.21,485.83 608.17,488.78 608.17,494.69 614.21,497.65" fill="#000004" stroke="#000004"/>
<polygon points="620.26,476.97 620.26,471.06 614.21,468.10 608.17,471.06 608.17,476.97 614.21,479.92" fill="#000004" stroke="#000004"/>
<polygon points="620.26,459.24 620.26,453.33 614.21,450.38 608.17,453.33 608.17,459.24 614.21,462.20" fill="#000004" stroke="#000004"/>
<polygon points="620.26,441.52 620.26,435.61 614.21,432.65 608.17,435.61 608.17,441.52 614.21,444.47" fill="#000004" stroke="#000004"/>
<polygon points="620.26,423.79 620.26,417.88 614.21,414.93 608.17,417.88 608.17,423.79 614.21,426.75" fill="#000004" stroke="#000004"/>
<polygon points="620.26,406.07 620.26,400.16 614.21,397.20 608.17,400.16 608.17,406.07 614.21,409.02" fill="#000004" stroke="#000004"/>
<polygon points="620.26,388.34 620.26,382.43 614.21,379.48 608.17,382.43 608.17,388.34 614.21,391.30" fill="#000004" stroke="#000004"/>
<polygon points="620.26,370.62 620.26,364.71 614.21,361.75 608.17,364.71 608.17,370.62 614.21,373.57" fill="#000004" stroke="#000004"/>
<polygon points="620.26,352.89 620.26,346.98 614.21,344.03 608.17,346.98 608.17,352.89 614.21,355.85" fill="#000004" stroke="#000004"/>
<polygon points="620.26,335.17 620.26,329.26 614.21,326.30 608.17,329.26 608.17,335.17 614.21,338.12" fill="#000004" stroke="#000004"/>
<polygon points="620.26,299.72 620.26,293.81 614.21,290.85 608.17,293.81 608.17,299.72 614.21,302.67" fill="#000004" stroke="#000004"/>
<polygon points="632.35,565.59 632.35,559.68 626.31,556.73 620.26,559.68 620.26,565.59 626.31,568.55" fill="#000004" stroke="#000004"/>
<polygon points="632.35,547.87 632.35,541.96 626.31,539.00 620.26,541.96 620.26,547.87 626.31,550.82" fill="#000004" stroke="#000004"/>
<polygon points="632.35,530.14 632.35,524.23 626.31,521.28 620.26,524.23 620.26,530.14 626.31,533.10" fill="#000004" stroke="#000004"/>
<polygon points="632.35,512.42 632.35,506.51 626.31,503.55 620.26,506.51 620.26,512.42 626.31,515.37" fill="#000004" stroke="#000004"/>
<polygon points="632.35,494.69 632.35,488.78 626.31,485.83 620.26,488.78 620.26,494.69 626.31,497.65" fill="#000004" stroke="#000004"/>
<polygon points="632.35,476.97 632.35,471.06 626.31,468.10 620.26,471.06 620.26,476.97 626.31,479.92" fill="#000004" stroke="#000004"/>
<polygon points="632.35,459.24 632.35,453.33 626.31,450.38 620.26,453.33 620.26,459.24 626.31,462.20" fill="#000004" stroke="#000004"/>
<polygon points="632.35,441.52 632.35,435.61 626.31,432.65 620.26,435.61 620.26,441.52 626.31,444.47" fill="#000004" stroke="#000004"/>
<polygon points="632.35,423.79 632.35,417.88 626.31,414.93 620.26,417.88 620.26,423.79 626.31,426.75" fill="#000004" stroke="#000004"/>
<polygon points="632.35,406.07 632.35,400.16 626.31,397.20 620.26,400.16 620.26,406.07 626.31,409.02" fill="#000004" stroke="#000004"/>
<polygon points="632.35,388.34 632.35,382.43 626.31,379.48 620.26,382.43 620.26,388.34 626.31,391.30" fill="#000004" stroke="#000004"/>
<polygon points="632.35,370.62 632.35,364.71 626.31,361.75 620.26,364.71 620.26,370.62 626.31,373.57" fill="#000004" stroke="#000004"/>
<polygon points="632.35,352.89 632.35,346.98 626.31,344.03 620.26,346.98 620.26,352.89 626.31,355.85" fill="#000004" stroke="#000004"/>
<polygon points="632.35,335.17 632.35,329.26 626.31,326.30 620.26,329.26 620.26,335.17 626.31,338.12" fill="#000004" stroke="#000004"/>
<polygon points="632.35,317.44 632.35,311.53 626.31,308.58 620.26,311.53 620.26,317.44 626.31,320.40" fill="#000004" stroke="#000004"/>
<polygon points="644.45,565.59 644.45,559.68 638.40,556.73 632.35,559.68 632.35,565.59 638.40,568.55" fill="#000004" stroke="#000004"/>
<polygon points="644.45,547.87 644.45,541.96 638.40,539.00 632.35,541.96 632.35,547.87 638.40,550.82" fill="#000004" stroke="#000004"/>
<polygon points="644.45,530.14 644.45,524.23 638.40,521.28 632.35,524.23 632.35,530.14 638.40,533.10" fill="#000004" stroke="#000004"/>
<polygon points="644.45,512.42 644.45,506.51 638.40,503.55 632.35,506.51 632.35,512.42 638.40,515.37" fill="#000004" stroke="#000004"/>
<polygon points="644.45,494.69 644.45,488.78 638.40,485.83 632.35,488.78 632.35,494.69 638.40,497.65" fill="#000004" stroke="#000004"/>
<polygon points="644.45,476.97 644.45,471.06 638.40,468.10 632.35,471.06 632.35,476.97 638.40,479.92" fill="#000004" stroke="#000004"/>
<polygon points="644.45,459.24 644.45,453.33 638.40,450.38 632.35,453.33 632.35,459.24 638.40,462.20" fill="#000004" stroke="#000004"/>
<polygon points="644.45,441.52 644.45,435.61 638.40,432.65 632.35,435.61 632.35,441.52 638.40,444.47" fill="#000004" stroke="#000004"/>
<polygon points="644.45,423.79 644.45,417.88 638.40,414.93 632.35,417.88 632.35,423.79 638.40,426.75" fill="#000004" stroke="#000004"/>
<polygon points="644.45,406.07 644.45,400.16 638.40,397.20 632.35,400.16 632.35,406.07 638.40,409.02" fill="#000004" stroke="#000004"/>
<polygon points="644.45,388.34 644.45,382.43 638.40,379.48 632.35,382.43 632.35,388.34 638.40,391.30" fill="#000004" stroke="#000004"/>
<polygon points="644.45,370.62 644.45,364.71 638.40,361.75 632.35,364.71 632.35,370.62 638.40,373.57" fill="#000004" stroke="#000004"/>
<polygon points="644.45,352.89 644.45,346.98 638.40,344.03 632.35,346.98 632.35,352.89 638.40,355.85" fill="#000004" stroke="#000004"/>
<polygon points="644.45,335.17 644.45,329.26 638.40,326.30 632.35,329.26 632.35,335.17 638.40,338.12" fill="#000004" stroke="#000004"/>
<polygon points="656.54,547.87 656.54,541.96 650.50,539.00 644.45,541.96 644.45,547.87 650.50,550.82" fill="#000004" stroke="#000004"/>
<polygon points="656.54,530.14 656.54,524.23 650.50,521.28 644.45,524.23 644.45,530.14 650.50,533.10" fill="#000004" stroke="#000004"/>
<polygon points="656.54,512.42 656.54,506.51 650.50,503.55 644.45,506.51 644.45,512.42 650.50,515.37" fill="#000004" stroke="#000004"/>
<polygon points="656.54,494.69 656.54,488.78 650.50,485.83 644.45,488.78 644.45,494.69 650.50,497.65" fill="#000004" stroke="#000004"/>
<polygon points="656.54,476.97 656.54,471.06 650.50,468.10 644.45,471.06 644.45,476.97 650.50,479.92" fill="#000004" stroke="#000004"/>
<polygon points="656.54,459.24 656.54,453.33 650.50,450.38 644.45,453.33 644.45,459.24 650.50,462.20" fill="#000004" stroke="#000004"/>
<polygon points="656.54,441.52 656.54,435.61 650.50,432.65 644.45,435.61 644.45,441.52 650.50,444.47" fill="#000004" stroke="#000004"/>
<polygon points="656.54,423.79 656.54,417.88 650.50,414.93 644.45,417.88 644.45,423.79 650.50,426.75" fill="#000004" stroke="#000004"/>
<polygon points="656.54,406.07 656.54,400.16 650.50,397.20 644.45,400.16 644.45,406.07 650.50,409.02" fill="#000004" stroke="#000004"/>
<polygon points="656.54,388.34 656.54,382.43 650.50,379.48 644.45,382.43 644.45,388.34 650.50,391.30" fill="#000004" stroke="#000004"/>
<polygon points="656.54,370.62 656.54,364.71 650.50,361.75 644.45,364.71 644.45,370.62 650.50,373.57" fill="#000004" stroke="#000004"/>
<polygon points="656.54,352.89 656.54,346.98 650.50,344.03 644.45,346.98 644.45,352.89 650.50,355.85" fill="#000004" stroke="#000004"/>
<polygon points="668.64,547.87 668.64,541.96 662.59,539.00 656.54,541.96 656.54,547.87 662.59,550.82" fill="#000004" stroke="#000004"/>
<polygon points="668.64,530.14 668.64,524.23 662.59,521.28 656.54,524.23 656.54,530.14 662.59,533.10" fill="#000004" stroke="#000004"/>
<polygon points="668.64,512.42 668.64,506.51 662.59,503.55 656.54,506.51 656.54,512.42 662.59,515.37" fill="#000004" stroke="#000004"/>
<polygon points="668.64,494.69 668.64,488.78 662.59,485.83 656.54,488.78 656.54,494.69 662.59,497.65" fill="#000004" stroke="#000004"/>
<polygon points="668.64,476.97 668.64,471.06 662.59,468.10 656.54,471.06 656.54,476.97 662.59,479.92" fill="#000004" stroke="#000004"/>
<polygon points="668.64,459.24 668.64,453.33 662.59,450.38 656.54,453.33 656.54,459.24 662.59,462.20" fill="#000004" stroke="#000004"/>
<polygon points="668.64,441.52 668.64,435.61 662.59,432.65 656.54,435.61 656.54,441.52 662.59,444.47" fill="#000004" stroke="#000004"/>
<polygon points="668.64,423.79 668.64,417.88 662.59,414.93 656.54,417.88 656.54,423.79 662.59,426.75" fill="#000004" stroke="#000004"/>
<polygon points="668.64,406.07 668.64,400.16 662.59,397.20 656.54,400.16 656.54,406.07 662.59,409.02" fill="#000004" stroke="#000004"/>
<polygon points="668.64,388.34 668.64,382.43 662.59,379.48 656.54,382.43 656.54,388.34 662.59,391.30" fill="#000004" stroke="#000004"/>
<polygon points="668.64,370.62 668.64,364.71 662.59,361.75 656.54,364.71 656.54,370.62 662.59,373.57" fill="#000004" stroke="#000004"/>
<polygon points="680.73,530.14 680.73,524.23 674.68,521.28 668.64,524.23 668.64,530.14 674.68,533.10" fill="#000004" stroke="#000004"/>
<polygon points="680.73,512.42 680.73,506.51 674.68,503.55 668.64,506.51 668.64,512.42 674.68,515.37" fill="#000004" stroke="#000004"/>
<polygon points="680.73,494.69 680.73,488.78 674.68,485.83 668.64,488.78 668.64,494.69 674.68,497.65" fill="#000004" stroke="#000004"/>
<polygon points="680.73,476.97 680.73,471.06 674.68,468.10 668.64,471.06 668.64,476.97 674.68,479.92" fill="#000004" stroke="#000004"/>
<polygon points="680.73,459.24 680.73,453.33 674.68,450.38 668.64,453.33 668.64,459.24 674.68,462.20" fill="#000004" stroke="#000004"/>
<polygon points="680.73,441.52 680.73,435.61 674.68,432.65 668.64,435.61 668.64,441.52 674.68,444.47" fill="#000004" stroke="#000004"/>
<polygon points="680.73,423.79 680.73,417.88 674.68,414.93 668.64,417.88 668.64,423.79 674.68,426.75" fill="#000004" stroke="#000004"/>
<polygon points="680.73,406.07 680.73,400.16 674.68,397.20 668.64,400.16 668.64,406.07 674.68,409.02" fill="#000004" stroke="#000004"/>
<polygon points="692.82,530.14 692.82,524.23 686.78,521.28 680.73,524.23 680.73,530.14 686.78,533.10" fill="#000004" stroke="#000004"/>
<polygon points="692.82,512.42 692.82,506.51 686.78,503.55 680.73,506.51 680.73,512.42 686.78,515.37" fill="#000004" stroke="#000004"/>
<polygon points="692.82,494.69 692.82,488.78 686.78,485.83 680.73,488.78 680.73,494.69 686.78,497.65" fill="#000004" stroke="#000004"/>
<polygon points="692.82,476.97 692.82,471.06 686.78,468.10 680.73,471.06 680.73,476.97 686.78,479.92" fill="#000004" stroke="#000004"/>
<polygon points="692.82,459.24 692.82,453.33 686.78,450.38 680.73,453.33 680.73,459.24 686.78,462.20" fill="#000004" stroke="#000004"/>
<polygon points="692.82,441.52 692.82,435.61 686.78,432.65 680.73,435.61 680.73,441.52 686.78,444.47" fill="#000004" stroke="#000004"/>
<polygon points="692.82,423.79 692.82,417.88 686.78,414.93 680.73,417.88 680.73,423.79 686.78,426.75" fill="#000004" stroke="#000004"/>
<polygon points="704.92,547.87 704.92,541.96 698.87,539.00 692.82,541.96 692.82,547.87 698.87,550.82" fill="#000004" stroke="#000004"/>
<polygon points="704.92,530.14 704.92,524.23 698.87,521.28 692.82,524.23 692.82,530.14 698.87,533.10" fill="#000004" stroke="#000004"/>
<polygon points="704.92,512.42 704.92,506.51 698.87,503.55 692.82,506.51 692.82,512.42 698.87,515.37" fill="#000004" stroke="#000004"/>
<polygon points="704.92,494.69 704.92,488.78 698.87,485.83 692.82,488.78 692.82,494.69 698.87,497.65" fill="#000004" stroke="#000004"/>
<polygon points="704.92,476.97 704.92,471.06 698.87,468.10 692.82,471.06 692.82,476.97 698.87,479.92" fill="#000004" stroke="#000004"/>
<polygon points="704.92,459.24 704.92,453.33 698.87,450.38 692.82,453.33 692.82,459.24 698.87,462.20" fill="#000004" stroke="#000004"/>
<polygon points="717.01,547.87 717.01,541.96 710.96,539.00 704.92,541.96 704.92,547.87 710.96,550.82" fill="#000004" stroke="#000004"/>
<polygon points="717.01,530.14 717.01,524.23 710.96,521.28 704.92,524.23 704.92,530.14 710.96,533.10" fill="#000004" stroke="#000004"/>
<polygon points="717.01,512.42 717.01,506.51 710.96,503.55 704.92,506.51 704.92,512.42 710.96,515.37" fill="#000004" stroke="#000004"/>
<polygon points="717.01,494.69 717.01,488.78 710.96,485.83 704.92,488.78 704.92,494.69 710.96,497.65" fill="#000004" stroke="#000004"/>
<polygon points="717.01,459.24 717.01,453.33 710.96,450.38 704.92,453.33 704.92,459.24 710.96,462.20" fill="#000004" stroke="#000004"/>
<polygon points="729.11,565.59 729.11,559.68 723.06,556.73 717.01,559.68 717.01,565.59 723.06,568.55" fill="#000004" stroke="#000004"/>
<polygon points="729.11,547.87 729.11,541.96 723.06,539.00 717.01,541.96 717.01,547.87 723.06,550.82" fill="#000004" stroke="#000004"/>
<polygon points="729.11,530.14 729.11,524.23 723.06,521.28 717.01,524.23 717.01,530.14 723.06,533.10" fill="#000004" stroke="#000004"/>
<polygon points="729.11,512.42 729.11,506.51 723.06,503.55 717.01,506.51 717.01,512.42 723.06,515.37" fill="#000004" stroke="#000004"/>
<polygon points="741.20,565.59 741.20,559.68 735.15,556.73 729.11,559.68 729.11,565.59 735.15,568.55" fill="#000004" stroke="#000004"/>
<polygon points="741.20,547.87 741.20,541.96 735.15,539.00 729.11,541.96 729.11,547.87 735.15,550.82" fill="#000004" stroke="#000004"/>
<polygon points="741.20,530.14 741.20,524.23 735.15,521.28 729.11,524.23 729.11,530.14 735.15,533.10" fill="#000004" stroke="#000004"/>
</g>
<g stroke="#000" stroke-width="1.667" fill="none" stroke-linecap="butt">
<rect x="106.00" y="86.00" width="665.00" height="545.00" stroke-linejoin="miter"/>
<line x1="112.00" y1="631.00" x2="112.00" y2="638.29"/>
<line x1="191.00" y1="631.00" x2="191.00" y2="638.29"/>
<line x1="270.00" y1="631.00" x2="270.00" y2="638.29"/>
<line x1="348.00" y1="631.00" x2="348.00" y2="638.29"/>
<line x1="427.00" y1="631.00" x2="427.00" y2="638.29"/>
<line x1="506.00" y1="631.00" x2="506.00" y2="638.29"/>
<line x1="585.00" y1="631.00" x2="585.00" y2="638.29"/>
<line x1="664.00" y1="631.00" x2="664.00" y2="638.29"/>
<line x1="743.00" y1="631.00" x2="743.00" y2="638.29"/>
<line x1="98.71" y1="607.00" x2="106.00" y2="607.00"/>
<line x1="98.71" y1="544.00" x2="106.00" y2="544.00"/>
<line x1="98.71" y1="481.00" x2="106.00" y2="481.00"/>
<line x1="98.71" y1="418.00" x2="106.00" y2="418.00"/>
<line x1="98.71" y1="355.00" x2="106.00" y2="355.00"/>
<line x1="98.71" y1="292.00" x2="106.00" y2="292.00"/>
<line x1="98.71" y1="230.00" x2="106.00" y2="230.00"/>
<line x1="98.71" y1="167.00" x2="106.00" y2="167.00"/>
<line x1="98.71" y1="104.00" x2="106.00" y2="104.00"/>
</g>
<defs><linearGradient id="mg" x1="0" y1="1" x2="0" y2="0">
<stop offset="0.0000" stop-color="#000004"/>
<stop offset="0.0156" stop-color="#020109"/>
<stop offset="0.0312" stop-color="#030312"/>
<stop offset="0.0469" stop-color="#06051a"/>
<stop offset="0.0625" stop-color="#0a0822"/>
<stop offset="0.0781" stop-color="#0e0b2b"/>
<stop offset="0.0938" stop-color="#130d34"/>
<stop offset="0.1094" stop-color="#180f3d"/>
<stop offset="0.1250" stop-color="#1d1147"/>
<stop offset="0.1406" stop-color="#221150"/>
<stop offset="0.1562" stop-color="#29115a"/>
<stop offset="0.1719" stop-color="#2f1163"/>
<stop offset="0.1875" stop-color="#36106b"/>
<stop offset="0.2031" stop-color="#3d0f71"/>
<stop offset="0.2188" stop-color="#440f76"/>
<stop offset="0.2344" stop-color="#4a1079"/>
<stop offset="0.2500" stop-color="#51127c"/>
<stop offset="0.2656" stop-color="#57157e"/>
<stop offset="0.2812" stop-color="#5d177f"/>
<stop offset="0.2969" stop-color="#641a80"/>
<stop offset="0.3125" stop-color="#6a1c81"/>
<stop offset="0.3281" stop-color="#701f81"/>
<stop offset="0.3438" stop-color="#762181"/>
<stop offset="0.3594" stop-color="#7c2382"/>
<stop offset="0.3750" stop-color="#832681"/>
<stop offset="0.3906" stop-color="#892881"/>
<stop offset="0.4062" stop-color="#902a81"/>
<stop offset="0.4219" stop-color="#962c80"/>
<stop offset="0.4375" stop-color="#9c2e7f"/>
<stop offset="0.4531" stop-color="#a3307e"/>
<stop offset="0.4688" stop-color="#aa337d"/>
<stop offset="0.4844" stop-color="#ae347b"/>
<stop offset="0.5000" stop-color="#b73779"/>
<stop offset="0.5156" stop-color="#bd3977"/>
<stop offset="0.5312" stop-color="#c43c75"/>
<stop offset="0.5469" stop-color="#ca3e72"/>
<stop offset="0.5625" stop-color="#d0416f"/>
<stop offset="0.5781" stop-color="#d6456c"/>
<stop offset="0.5938" stop-color="#dc4869"/>
<stop offset="0.6094" stop-color="#e24d66"/>
<stop offset="0.6250" stop-color="#e75263"/>
<stop offset="0.6406" stop-color="#eb5760"/>
<stop offset="0.6562" stop-color="#ef5d5e"/>
<stop offset="0.6719" stop-color="#f2645c"/>
<stop offset="0.6875" stop-color="#f56b5c"/>
<stop offset="0.7031" stop-color="#f7725c"/>
<stop offset="0.7188" stop-color="#f9795d"/>
<stop offset="0.7344" stop-color="#fa815f"/>
<stop offset="0.7500" stop-color="#fc8961"/>
<stop offset="0.7656" stop-color="#fc9065"/>
<stop offset="0.7812" stop-color="#fd9869"/>
<stop offset="0.7969" stop-color="#fe9f6d"/>
<stop offset="0.8125" stop-color="#fea772"/>
<stop offset="0.8281" stop-color="#feae77"/>
<stop offset="0.8438" stop-color="#feb67c"/>
<stop offset="0.8594" stop-color="#febd82"/>
<stop offset="0.8750" stop-color="#fec488"/>
<stop offset="0.8906" stop-color="#fecc8f"/>
<stop offset="0.9062" stop-color="#fed395"/>
<stop offset="0.9219" stop-color="#fed89a"/>
<stop offset="0.9375" stop-color="#fde2a3"/>
<stop offset="0.9531" stop-color="#fde9aa"/>
<stop offset="0.9688" stop-color="#fceeb0"/>
<stop offset="0.9844" stop-color="#fcf7b9"/>
<stop offset="1.0000" stop-color="#fcfdbf"/>
</linearGradient></defs>
<rect x="813.00" y="86.00" width="27.00" height="545.00" fill="url(#mg)" stroke="#000" stroke-width="1.667"/>
<g stroke="#000" stroke-width="1.667">
<line x1="840.00" y1="631.00" x2="847.29" y2="631.00"/>
<line x1="840.00" y1="567.00" x2="847.29" y2="567.00"/>
<line x1="840.00" y1="503.00" x2="847.29" y2="503.00"/>
<line x1="840.00" y1="439.00" x2="847.29" y2="439.00"/>
<line x1="840.00" y1="375.00" x2="847.29" y2="375.00"/>
<line x1="840.00" y1="312.00" x2="847.29" y2="312.00"/>
<line x1="840.00" y1="248.00" x2="847.29" y2="248.00"/>
<line x1="840.00" y1="184.00" x2="847.29" y2="184.00"/>
<line x1="840.00" y1="120.00" x2="847.29" y2="120.00"/>
</g>
<text y="661.30" font-size="22.20"><tspan x="97.69" textLength="15.51" lengthAdjust="spacingAndGlyphs">−</tspan><tspan x="114.16" textLength="11.73" lengthAdjust="spacingAndGlyphs">5</tspan></text>
<text x="184.86" y="661.30" font-size="22.20" textLength="12.21" lengthAdjust="spacingAndGlyphs">0</text>
<text x="264.00" y="661.30" font-size="22.20" textLength="11.53" lengthAdjust="spacingAndGlyphs">5</text>
<text x="336.01" y="661.30" font-size="22.20" textLength="25.48" lengthAdjust="spacingAndGlyphs">10</text>
<text x="414.92" y="661.30" font-size="22.20" textLength="25.06" lengthAdjust="spacingAndGlyphs">15</text>
<text x="493.59" y="661.30" font-size="22.20" textLength="25.66" lengthAdjust="spacingAndGlyphs">20</text>
<text x="572.48" y="661.30" font-size="22.20" textLength="25.26" lengthAdjust="spacingAndGlyphs">25</text>
<text x="651.69" y="661.30" font-size="22.20" textLength="25.29" lengthAdjust="spacingAndGlyphs">30</text>
<text x="730.58" y="661.30" font-size="22.20" textLength="24.89" lengthAdjust="spacingAndGlyphs">35</text>
<text x="65.28" y="614.25" font-size="22.20" textLength="25.66" lengthAdjust="spacingAndGlyphs">20</text>
<text x="65.63" y="551.37" font-size="22.20" textLength="25.29" lengthAdjust="spacingAndGlyphs">30</text>
<text x="65.40" y="488.49" font-size="22.20" textLength="25.53" lengthAdjust="spacingAndGlyphs">40</text>
<text x="65.61" y="425.61" font-size="22.20" textLength="25.32" lengthAdjust="spacingAndGlyphs">50</text>
<text x="65.19" y="362.73" font-size="22.20" textLength="25.75" lengthAdjust="spacingAndGlyphs">60</text>
<text x="65.44" y="299.85" font-size="22.20" textLength="25.49" lengthAdjust="spacingAndGlyphs">70</text>
<text x="65.32" y="236.97" font-size="22.20" textLength="25.61" lengthAdjust="spacingAndGlyphs">80</text>
<text x="65.14" y="174.09" font-size="22.20" textLength="25.81" lengthAdjust="spacingAndGlyphs">90</text>
<text x="52.17" y="111.21" font-size="22.20" textLength="38.77" lengthAdjust="spacingAndGlyphs">100</text>
<text x="855.10" y="638.35" font-size="22.20" textLength="12.21" lengthAdjust="spacingAndGlyphs">0</text>
<text x="855.36" y="574.47" font-size="22.20" textLength="11.53" lengthAdjust="spacingAndGlyphs">5</text>
<text x="855.12" y="510.60" font-size="22.20" textLength="25.48" lengthAdjust="spacingAndGlyphs">10</text>
<text x="855.15" y="446.72" font-size="22.20" textLength="25.06" lengthAdjust="spacingAndGlyphs">15</text>
<text x="854.95" y="382.84" font-size="22.20" textLength="25.66" lengthAdjust="spacingAndGlyphs">20</text>
<text x="854.96" y="318.96" font-size="22.20" textLength="25.26" lengthAdjust="spacingAndGlyphs">25</text>
<text x="855.30" y="255.09" font-size="22.20" textLength="25.29" lengthAdjust="spacingAndGlyphs">30</text>
<text x="855.31" y="191.21" font-size="22.20" textLength="24.89" lengthAdjust="spacingAndGlyphs">35</text>
<text x="855.07" y="127.33" font-size="22.20" textLength="25.53" lengthAdjust="spacingAndGlyphs">40</text>
<text x="348.88" y="691.70" font-size="22.20" textLength="180.66" lengthAdjust="spacingAndGlyphs">Température (°C)</text>
<text transform="translate(39.00,469.06) rotate(-90)" x="-1.97" y="0" font-size="22.20" textLength="223.02" lengthAdjust="spacingAndGlyphs">Humidité relative (%)</text>
<text transform="translate(906.10,499.06) rotate(-90)" x="-1.93" y="0" font-size="22.20" textLength="283.10" lengthAdjust="spacingAndGlyphs">Maximum de Précipitations</text>
<text x="228.66" y="43.60" font-size="26.50" textLength="419.80" lengthAdjust="spacingAndGlyphs">Humidité relative vs Température</text>
<text x="206.65" y="72.30" font-size="26.50" textLength="465.27" lengthAdjust="spacingAndGlyphs">Couleur : maximum de Précipitations</text>
</svg></body></html>
